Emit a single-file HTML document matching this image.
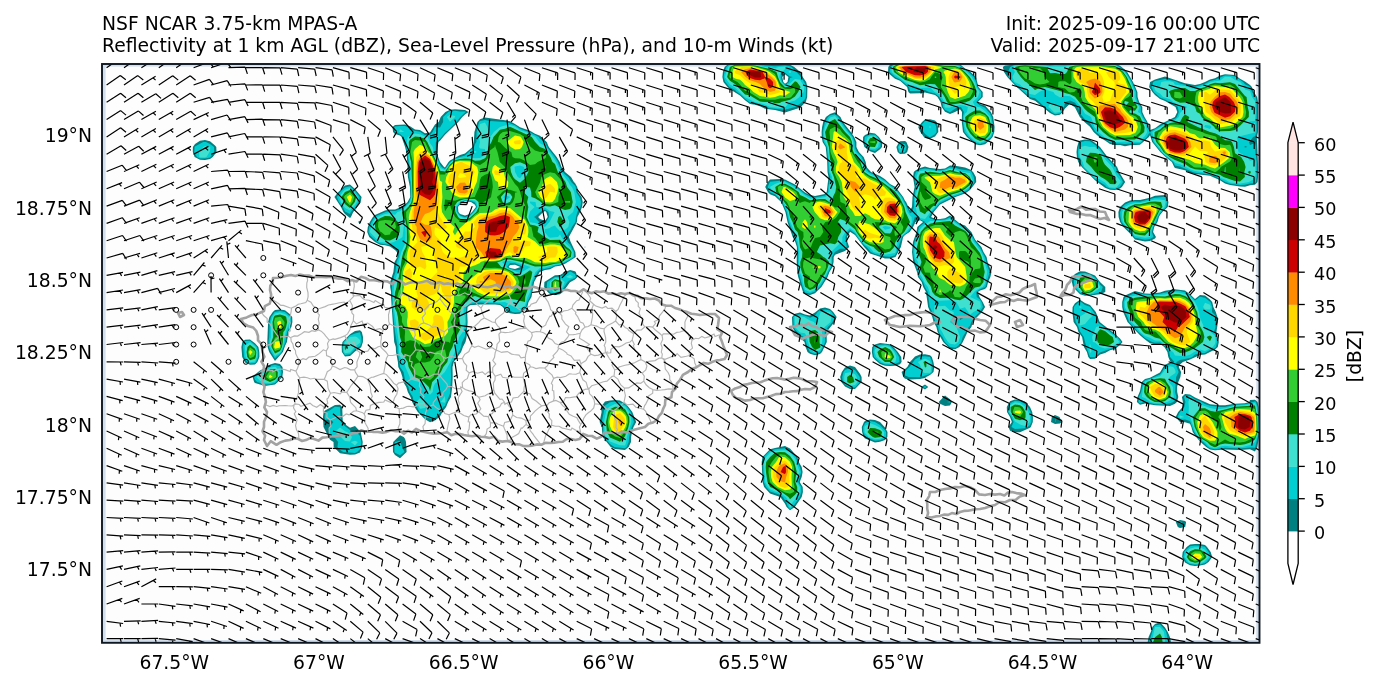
<!DOCTYPE html>
<html><head><meta charset="utf-8"><style>html,body{margin:0;padding:0;background:#fff;overflow:hidden}svg{display:block}</style></head>
<body><svg width="1378" height="687" viewBox="0 0 1378 687" font-family="'DejaVu Sans', 'Liberation Sans', sans-serif">
<text x="102" y="29.8" font-size="18.75">NSF NCAR 3.75-km MPAS-A</text>
<text x="102" y="51.8" font-size="18.75">Reflectivity at 1 km AGL (dBZ), Sea-Level Pressure (hPa), and 10-m Winds (kt)</text>
<text x="1260" y="29.8" font-size="18.75" text-anchor="end">Init: 2025-09-16 00:00 UTC</text>
<text x="1260" y="51.8" font-size="18.75" text-anchor="end">Valid: 2025-09-17 21:00 UTC</text>
<text x="92" y="142.3" font-size="18.75" text-anchor="end">19°N</text>
<text x="92" y="214.7" font-size="18.75" text-anchor="end">18.75°N</text>
<text x="92" y="287.0" font-size="18.75" text-anchor="end">18.5°N</text>
<text x="92" y="359.4" font-size="18.75" text-anchor="end">18.25°N</text>
<text x="92" y="431.8" font-size="18.75" text-anchor="end">18°N</text>
<text x="92" y="504.1" font-size="18.75" text-anchor="end">17.75°N</text>
<text x="92" y="576.4" font-size="18.75" text-anchor="end">17.5°N</text>
<text x="174.3" y="668.7" font-size="18.75" text-anchor="middle">67.5°W</text>
<text x="319.0" y="668.7" font-size="18.75" text-anchor="middle">67°W</text>
<text x="463.7" y="668.7" font-size="18.75" text-anchor="middle">66.5°W</text>
<text x="608.4" y="668.7" font-size="18.75" text-anchor="middle">66°W</text>
<text x="753.1" y="668.7" font-size="18.75" text-anchor="middle">65.5°W</text>
<text x="897.8" y="668.7" font-size="18.75" text-anchor="middle">65°W</text>
<text x="1042.5" y="668.7" font-size="18.75" text-anchor="middle">64.5°W</text>
<text x="1187.2" y="668.7" font-size="18.75" text-anchor="middle">64°W</text>
<clipPath id="ax"><rect x="102.0" y="64.0" width="1157.5" height="578.8"/></clipPath>
<rect x="102.0" y="64.0" width="1157.5" height="578.8" fill="#d3deec"/>
<rect x="105.6" y="66.6" width="1150.7" height="573.4" fill="#fdfdfd"/>
<g clip-path="url(#ax)">
<path fill="#008080" fill-rule="evenodd" d="M724.6,67.0 730.0,62.7 735.0,62.0 755.0,63.3 765.0,64.4 775.0,64.7 785.0,64.2 790.0,64.8 794.3,67.0 800.3,72.0 802.7,77.0 806.2,82.0 807.4,87.0 807.2,97.0 805.8,102.0 800.0,107.7 785.0,112.5 775.0,110.1 765.0,108.7 760.0,106.2 755.0,104.7 750.0,104.1 745.0,100.3 740.0,95.4 730.0,89.2 727.5,87.0 723.4,82.0 722.4,77.0 722.9,72.0ZM785.0,74.3 782.3,77.0 783.3,82.0 785.0,83.8 787.5,82.0 788.4,77.0ZM888.3,67.0 890.0,64.7 897.3,62.0 935.5,62.0 945.0,63.8 950.0,63.0 955.0,63.3 960.0,64.2 965.0,68.4 970.0,71.6 976.0,77.0 978.4,87.0 982.7,92.0 982.7,97.0 977.9,102.0 980.0,103.9 985.0,105.6 990.9,112.0 993.2,117.0 994.6,127.0 994.3,132.0 992.6,137.0 990.0,140.1 985.0,144.2 980.0,145.3 975.0,144.3 966.9,137.0 963.0,132.0 961.8,122.0 962.0,112.0 960.0,109.2 955.0,112.1 950.0,113.9 945.0,111.8 941.7,107.0 940.5,102.0 937.5,97.0 935.0,95.0 925.0,92.4 920.0,93.3 910.0,93.6 908.4,92.0 907.1,87.0 900.0,80.8 895.0,78.7 890.0,74.4 888.0,72.0ZM1002.8,67.0 1005.0,65.5 1010.0,65.0 1015.0,63.3 1023.9,62.0 1030.1,62.0 1035.0,63.1 1050.0,64.3 1055.0,63.9 1065.0,64.1 1095.0,62.3 1115.0,63.5 1120.0,65.7 1125.0,69.7 1127.2,72.0 1133.0,82.0 1137.4,92.0 1137.6,97.0 1139.1,102.0 1142.3,107.0 1142.3,112.0 1144.5,117.0 1147.5,122.0 1148.5,127.0 1150.0,129.9 1155.0,128.2 1160.0,124.5 1174.9,117.0 1177.3,112.0 1175.5,107.0 1165.0,101.0 1160.0,99.1 1155.0,94.9 1152.4,92.0 1149.1,87.0 1150.1,82.0 1155.0,79.4 1165.0,76.6 1185.0,83.3 1195.0,84.9 1200.0,84.0 1205.0,82.1 1210.0,79.6 1215.0,78.2 1220.0,75.6 1225.0,74.3 1235.0,75.1 1240.0,78.8 1245.0,81.4 1250.0,85.0 1251.9,87.0 1253.8,92.0 1257.1,97.0 1258.0,102.0 1258.0,132.0 1256.8,137.0 1258.1,167.0 1258.0,177.0 1257.5,182.0 1255.0,184.8 1250.0,185.3 1245.0,186.8 1240.0,186.6 1230.0,185.0 1225.0,183.6 1220.0,180.2 1210.0,175.7 1195.0,174.1 1190.0,172.9 1185.0,170.3 1175.0,167.9 1174.2,167.0 1171.9,162.0 1165.0,156.6 1160.3,152.0 1152.2,142.0 1150.0,135.3 1148.9,137.0 1140.0,144.8 1130.0,145.2 1125.0,146.3 1120.0,145.1 1115.0,145.1 1110.0,143.9 1105.0,140.4 1100.0,137.8 1093.6,132.0 1090.0,126.7 1085.0,122.6 1079.8,117.0 1075.0,107.4 1070.0,103.7 1065.0,108.4 1062.7,112.0 1060.0,114.8 1055.0,115.6 1050.0,113.0 1035.0,100.8 1030.0,98.9 1015.0,85.3 1007.3,77.0 1004.0,72.0ZM465.0,109.9 468.5,112.0 465.0,114.4 462.3,117.0 458.3,122.0 445.0,134.8 440.0,140.8 438.5,142.0 437.5,147.0 437.3,152.0 438.1,157.0 440.0,162.0 444.0,167.0 445.0,167.6 448.5,162.0 450.0,160.5 460.0,155.1 465.0,153.5 472.5,147.0 473.8,142.0 474.4,132.0 477.4,122.0 480.0,119.2 485.0,117.6 505.0,120.2 510.0,121.3 515.0,123.9 520.0,127.2 530.0,130.7 535.0,133.7 540.0,135.7 546.7,142.0 548.8,147.0 556.7,157.0 559.7,162.0 561.5,167.0 565.0,171.9 571.0,177.0 573.9,182.0 575.0,183.1 577.2,187.0 577.9,192.0 581.6,197.0 582.8,202.0 582.0,207.0 580.1,212.0 577.4,217.0 576.9,222.0 568.9,237.0 570.7,242.0 575.4,252.0 575.8,257.0 565.0,263.8 560.0,265.7 555.0,266.4 550.0,269.2 545.0,270.1 539.7,272.0 534.1,282.0 531.5,297.0 528.5,302.0 527.3,307.0 525.0,309.5 520.0,313.8 515.0,314.1 510.0,313.3 507.7,312.0 505.0,310.0 502.8,307.0 500.0,305.0 495.0,304.5 480.0,304.4 470.0,305.2 467.6,307.0 467.2,312.0 467.6,322.0 466.6,337.0 465.5,342.0 462.9,347.0 461.1,352.0 453.8,362.0 452.5,367.0 452.7,377.0 452.2,387.0 451.0,397.0 448.1,402.0 446.1,407.0 442.4,412.0 440.0,416.5 435.0,420.6 430.0,422.2 425.0,419.3 417.8,412.0 414.6,407.0 412.2,402.0 410.5,397.0 407.8,392.0 406.3,387.0 403.3,382.0 402.4,377.0 400.8,372.0 398.3,367.0 397.9,362.0 396.0,352.0 395.8,347.0 394.2,342.0 391.0,297.0 391.1,292.0 390.2,287.0 390.2,282.0 393.4,272.0 394.5,262.0 397.4,257.0 396.9,252.0 395.0,250.0 390.0,246.6 385.0,245.2 380.0,244.7 375.0,242.1 369.2,237.0 367.2,232.0 367.8,227.0 369.8,222.0 372.9,217.0 375.0,214.9 385.0,210.4 390.0,209.6 395.0,209.4 400.0,207.5 405.0,204.6 407.6,202.0 410.3,197.0 409.9,187.0 407.9,177.0 407.3,162.0 406.3,152.0 405.1,147.0 401.6,137.0 400.0,135.6 395.0,133.9 393.1,132.0 392.5,127.0 395.0,124.9 405.0,124.6 410.0,126.2 415.0,129.4 420.0,130.1 425.0,133.2 430.0,132.5 435.0,124.4 438.7,122.0 440.7,117.0 445.4,112.0 450.0,109.7 455.0,109.2ZM471.0,202.0 465.0,201.2 463.2,202.0 460.0,204.5 457.9,207.0 458.4,212.0 460.0,214.1 465.0,215.6 470.0,214.1 472.1,212.0 476.0,207.0 475.0,204.8ZM508.5,267.0 510.0,268.0 515.0,269.1 520.4,267.0 515.0,264.7 510.0,264.9ZM545.0,211.1 543.3,212.0 538.1,217.0 540.0,219.0 545.0,220.7 547.7,217.0 546.2,212.0ZM830.0,114.0 835.0,112.2 840.5,117.0 842.8,122.0 850.8,132.0 854.2,137.0 856.4,142.0 856.4,147.0 858.9,152.0 863.6,157.0 865.7,162.0 866.5,167.0 871.0,172.0 880.0,176.0 885.0,179.3 890.0,183.9 895.6,187.0 903.2,197.0 905.0,200.8 906.1,202.0 910.0,210.5 912.0,207.0 912.5,197.0 914.6,187.0 913.0,177.0 913.8,172.0 915.0,170.8 920.0,167.9 925.0,166.5 930.0,168.0 940.0,169.1 945.0,168.4 950.0,165.6 955.0,165.8 965.0,167.6 970.0,169.4 973.1,172.0 975.9,177.0 976.2,182.0 970.0,189.9 965.0,193.6 955.3,197.0 940.0,204.5 933.7,212.0 931.1,217.0 935.0,219.0 940.0,218.9 945.0,218.3 950.0,215.4 960.0,223.8 965.0,225.6 971.4,232.0 975.0,239.4 981.4,247.0 983.5,252.0 986.6,257.0 987.6,262.0 991.5,272.0 990.4,277.0 988.1,282.0 986.9,287.0 985.0,288.9 980.0,290.4 977.8,292.0 979.5,297.0 982.7,302.0 985.1,307.0 982.0,312.0 975.0,319.0 972.8,322.0 971.4,327.0 967.5,332.0 962.8,342.0 959.5,347.0 955.0,349.3 950.0,348.7 943.2,342.0 937.6,332.0 936.4,327.0 933.6,322.0 932.3,317.0 928.1,307.0 926.0,292.0 923.2,287.0 921.7,282.0 918.0,277.0 917.0,272.0 913.2,262.0 912.0,252.0 913.0,242.0 916.5,232.0 917.3,227.0 923.1,222.0 920.0,220.3 915.5,222.0 913.1,227.0 909.6,232.0 905.0,235.0 903.1,237.0 900.9,247.0 895.5,257.0 890.0,258.6 885.0,258.4 870.0,253.4 864.1,247.0 855.0,235.1 850.0,231.7 847.0,237.0 847.4,242.0 849.2,247.0 845.0,251.0 835.0,254.8 833.7,257.0 833.6,262.0 832.5,267.0 829.4,272.0 827.6,277.0 821.4,287.0 815.0,293.3 810.0,295.0 805.0,294.3 803.0,292.0 798.2,277.0 797.2,272.0 796.7,262.0 796.9,247.0 795.3,242.0 792.7,237.0 787.5,222.0 785.4,212.0 781.2,202.0 775.0,196.3 770.0,194.2 767.9,192.0 765.2,187.0 767.8,182.0 770.0,179.6 780.0,179.1 785.0,179.5 795.0,184.6 805.0,192.6 810.0,194.9 815.0,195.9 825.0,193.9 826.7,192.0 828.5,177.0 827.5,172.0 827.2,162.0 825.7,147.0 822.6,142.0 821.8,137.0 821.6,132.0 822.1,127.0 823.2,122.0 825.9,117.0ZM925.0,119.5 930.0,119.2 935.0,120.5 936.6,122.0 938.1,127.0 938.3,132.0 935.0,136.4 930.0,138.8 925.0,137.9 923.9,137.0 920.0,131.5 918.2,127.0 922.1,122.0ZM863.1,137.0 865.0,135.1 870.0,132.8 875.0,133.6 878.9,137.0 882.3,142.0 882.0,147.0 880.0,149.3 875.0,152.9 870.0,151.3 864.4,147.0 862.9,142.0ZM192.9,147.0 195.0,144.0 200.0,140.7 205.0,140.1 210.0,141.3 215.0,145.5 216.3,147.0 216.5,152.0 212.8,157.0 210.0,159.0 205.0,159.9 200.0,159.7 194.6,157.0 192.8,152.0ZM900.0,141.2 905.0,140.9 906.4,142.0 908.5,147.0 907.2,152.0 905.0,153.8 900.0,154.1 897.7,152.0 896.4,147.0 899.1,142.0ZM1080.0,140.6 1085.0,139.5 1090.0,139.7 1093.9,142.0 1100.0,147.1 1107.5,157.0 1117.1,167.0 1119.1,172.0 1125.2,182.0 1121.9,187.0 1120.0,188.6 1115.0,190.1 1110.0,189.8 1105.0,187.7 1095.0,180.2 1081.8,167.0 1078.2,162.0 1076.9,157.0 1076.5,152.0 1077.1,147.0 1078.6,142.0ZM350.0,184.6 355.0,189.1 361.6,197.0 360.7,202.0 355.0,210.2 353.2,212.0 351.0,217.0 350.0,217.9 345.0,214.1 343.4,212.0 341.0,207.0 334.4,197.0 338.4,192.0 345.0,185.5ZM1165.0,195.1 1166.9,197.0 1168.4,202.0 1167.8,207.0 1162.4,212.0 1160.0,215.0 1158.9,217.0 1157.5,222.0 1154.2,227.0 1153.1,232.0 1156.0,237.0 1155.0,238.4 1150.0,241.0 1145.0,241.5 1135.0,239.4 1130.0,233.5 1123.4,227.0 1120.1,222.0 1118.6,217.0 1118.4,212.0 1120.0,207.0 1125.0,202.5 1130.0,200.5 1135.0,199.9 1140.0,200.1 1150.0,197.8 1155.0,195.8ZM357.8,222.0 360.0,220.8 361.2,222.0 360.0,223.3ZM584.5,247.0 585.0,246.6 585.4,247.0 585.0,247.7ZM575.8,272.0 577.5,277.0 575.0,279.4 570.0,282.2 562.9,292.0 560.0,294.3 555.0,295.0 550.0,294.0 547.6,292.0 544.1,287.0 544.4,282.0 555.0,275.2 560.0,275.0 565.0,271.9 570.0,270.1 575.0,271.2ZM1072.2,277.0 1075.0,274.1 1080.0,271.3 1085.0,271.4 1095.0,275.6 1100.0,282.1 1105.3,287.0 1105.3,292.0 1100.0,294.2 1090.0,295.6 1085.0,295.7 1080.0,294.2 1073.0,287.0 1071.9,282.0ZM1135.0,291.0 1145.0,293.4 1150.0,293.7 1160.0,292.6 1165.0,290.7 1175.0,289.2 1185.0,290.5 1190.0,294.2 1195.0,299.0 1200.0,295.1 1205.0,295.5 1210.0,299.5 1212.2,302.0 1213.4,307.0 1215.8,312.0 1217.4,317.0 1218.0,322.0 1216.4,332.0 1218.8,342.0 1217.8,347.0 1215.0,349.5 1205.0,354.4 1200.0,354.9 1190.0,359.6 1182.9,362.0 1180.0,364.5 1178.7,367.0 1181.1,372.0 1180.4,377.0 1178.3,382.0 1177.1,387.0 1177.2,392.0 1178.3,397.0 1176.9,402.0 1175.0,403.7 1170.0,406.0 1155.0,405.3 1145.0,403.4 1140.0,404.7 1136.9,402.0 1137.5,397.0 1140.0,390.9 1141.8,382.0 1145.0,378.9 1150.0,377.7 1160.0,372.6 1163.2,367.0 1165.0,364.8 1170.9,362.0 1170.0,361.0 1168.3,357.0 1167.4,352.0 1164.4,347.0 1160.0,344.1 1155.0,344.3 1150.0,343.2 1145.0,339.6 1140.0,335.2 1127.5,322.0 1123.2,312.0 1122.2,307.0 1122.2,302.0 1123.5,297.0 1125.0,295.4ZM1075.0,303.3 1080.0,299.8 1085.0,302.9 1090.0,305.1 1095.8,312.0 1099.7,322.0 1115.0,333.9 1120.0,338.4 1122.5,342.0 1120.0,344.9 1115.0,348.9 1110.0,350.3 1105.0,353.1 1100.0,354.5 1095.0,358.8 1090.0,358.9 1088.3,357.0 1086.9,352.0 1083.9,347.0 1082.1,337.0 1078.4,332.0 1077.0,327.0 1073.6,322.0 1072.4,312.0 1072.6,307.0ZM285.0,310.2 290.0,314.3 292.2,317.0 292.4,322.0 291.4,327.0 288.5,332.0 286.9,342.0 285.0,346.0 282.9,352.0 275.0,360.9 269.2,352.0 267.6,347.0 267.3,342.0 268.1,322.0 269.4,317.0 272.8,312.0 275.0,310.0 280.0,309.6ZM830.0,308.9 833.2,312.0 836.7,317.0 834.4,322.0 826.6,332.0 826.8,342.0 822.0,352.0 820.0,354.0 815.0,355.3 810.0,353.8 807.5,352.0 805.6,347.0 804.5,342.0 799.3,337.0 795.0,331.9 792.4,327.0 792.0,317.0 795.0,313.8 800.0,312.5 805.0,314.5 810.0,315.6 815.0,312.5 820.0,308.6 825.0,307.6ZM360.0,330.3 361.8,332.0 363.0,337.0 362.9,342.0 361.3,347.0 360.0,348.3 355.0,351.5 350.0,356.0 345.0,356.4 341.9,352.0 341.7,347.0 342.5,342.0 350.0,334.2 355.0,331.0ZM245.0,339.7 250.0,339.5 255.0,343.2 258.4,347.0 259.3,352.0 259.4,357.0 257.4,362.0 255.0,364.4 250.0,364.8 245.0,362.5 242.2,357.0 241.4,347.0 242.4,342.0ZM872.2,347.0 875.0,344.4 880.0,343.0 890.0,344.3 893.3,347.0 897.9,352.0 901.2,357.0 901.6,362.0 900.0,364.2 895.0,365.8 890.0,366.1 885.0,365.7 880.0,364.1 875.0,359.8 872.7,357.0 871.9,352.0ZM901.6,372.0 907.3,367.0 910.0,362.0 915.0,356.4 920.0,354.6 925.0,354.3 930.0,355.2 931.8,357.0 933.4,362.0 934.3,367.0 933.5,372.0 930.0,375.1 926.2,377.0 925.0,378.1 920.0,378.9 910.0,379.5 905.0,378.8 903.3,377.0ZM252.6,377.0 255.0,374.4 260.0,370.4 265.0,367.9 270.0,364.6 275.0,362.9 280.0,364.1 282.5,367.0 283.0,372.0 282.3,377.0 277.8,382.0 275.0,384.4 265.0,386.0 255.0,382.9 254.1,382.0ZM850.0,365.6 855.0,367.1 860.0,373.7 861.6,377.0 861.7,382.0 855.0,389.1 850.0,389.1 845.0,386.4 841.3,382.0 840.2,377.0 841.8,372.0 845.0,367.6ZM921.0,387.0 925.0,384.5 928.3,387.0 925.0,389.6ZM938.7,402.0 945.0,395.4 950.0,399.3 951.9,402.0 950.0,405.6 945.0,406.0 940.0,403.8ZM1181.9,397.0 1185.0,394.1 1190.0,394.4 1195.0,397.6 1210.0,404.2 1220.0,405.2 1225.0,405.2 1235.0,403.8 1245.0,403.2 1249.2,402.0 1250.0,400.1 1255.0,399.8 1257.6,402.0 1258.6,407.0 1259.8,432.0 1257.3,447.0 1255.0,451.4 1250.0,449.3 1240.0,450.0 1225.0,449.5 1215.0,450.3 1210.0,449.6 1206.2,447.0 1200.0,441.4 1196.2,437.0 1192.7,432.0 1191.4,427.0 1190.0,423.8 1185.0,422.2 1180.0,422.1 1175.6,417.0 1178.2,412.0 1182.7,407.0 1182.9,402.0ZM605.0,401.6 610.0,400.4 615.0,400.0 620.0,400.6 625.0,403.6 628.5,407.0 632.3,412.0 636.2,422.0 633.5,427.0 632.0,432.0 631.1,437.0 631.0,442.0 628.6,447.0 625.0,449.9 615.0,449.1 610.7,447.0 602.6,437.0 601.8,427.0 599.6,422.0 601.6,412.0 600.9,407.0ZM1010.0,401.2 1015.0,399.4 1020.0,399.8 1025.0,401.5 1030.0,407.0 1032.2,412.0 1032.9,417.0 1032.8,422.0 1030.8,427.0 1030.0,427.8 1020.0,432.2 1015.0,432.2 1010.0,430.7 1008.5,427.0 1011.9,422.0 1010.0,417.0 1007.0,412.0 1006.8,407.0ZM325.0,410.6 335.0,405.1 340.0,404.7 342.2,407.0 342.8,422.0 345.0,424.3 350.0,427.7 355.0,426.0 360.7,432.0 362.7,442.0 362.3,447.0 360.0,452.5 355.0,454.5 350.0,454.8 340.0,453.3 333.7,447.0 333.5,442.0 330.0,439.7 323.5,427.0 323.0,417.0 323.6,412.0ZM1051.8,417.0 1055.0,414.9 1059.5,417.0 1061.9,422.0 1060.0,423.6 1055.0,424.0 1051.0,422.0ZM864.0,422.0 865.0,421.0 870.0,419.6 875.0,420.1 880.0,421.9 885.0,427.4 887.5,432.0 887.4,437.0 885.0,439.9 880.0,441.8 875.0,442.6 865.0,438.4 863.7,437.0 862.1,432.0 861.8,427.0ZM400.0,435.3 403.7,437.0 405.0,438.8 406.0,442.0 406.6,452.0 400.0,458.3 395.0,455.1 393.0,452.0 392.9,447.0 393.2,442.0ZM785.0,446.1 790.0,448.4 797.4,457.0 798.8,462.0 801.7,467.0 802.6,472.0 801.7,477.0 799.7,482.0 802.7,487.0 802.9,492.0 801.7,497.0 794.9,507.0 790.0,510.2 786.6,507.0 785.0,503.8 780.3,497.0 770.0,493.4 764.1,487.0 762.5,482.0 761.7,462.0 762.5,457.0 770.0,449.3 775.0,447.9ZM1175.8,522.0 1180.0,519.9 1185.0,520.9 1186.1,522.0 1185.2,527.0 1180.0,527.9 1177.8,527.0ZM1182.1,557.0 1182.7,552.0 1186.7,547.0 1190.0,544.6 1195.0,543.9 1200.0,543.9 1205.0,545.1 1207.0,547.0 1210.7,552.0 1212.2,557.0 1208.6,562.0 1205.0,564.4 1200.0,565.6 1195.0,565.9 1190.0,565.3 1185.0,562.5ZM1155.0,624.0 1160.0,622.3 1165.0,627.4 1167.7,632.0 1169.9,637.0 1171.0,642.0 1147.7,642.0 1148.6,637.0 1150.8,632.0 1152.3,627.0Z"/>
<path fill="#00ced1" fill-rule="evenodd" d="M724.4,72.0 726.4,67.0 730.0,64.1 735.0,63.0 755.0,64.0 765.0,65.6 775.0,66.2 785.0,65.4 790.0,66.3 791.5,67.0 800.0,75.7 805.0,83.4 806.1,87.0 805.8,97.0 805.0,99.3 800.0,103.7 794.9,107.0 785.0,109.8 770.0,108.3 765.1,107.0 760.0,104.7 750.0,102.6 745.0,98.8 740.0,93.9 736.9,92.0 735.0,90.0 729.4,87.0 725.0,81.6 723.7,77.0ZM785.0,72.8 780.8,77.0 782.2,82.0 785.0,84.9 789.1,82.0 790.0,78.1 792.8,77.0 790.0,76.4ZM890.2,67.0 895.0,63.7 900.0,62.0 927.6,62.0 945.0,64.5 950.0,64.0 955.0,64.2 960.0,65.5 968.5,72.0 973.9,77.0 976.0,82.0 977.3,87.0 981.2,92.0 981.0,97.0 976.0,102.0 980.0,105.5 985.0,107.7 990.0,113.6 991.7,117.0 993.4,127.0 993.2,132.0 991.3,137.0 985.0,142.6 980.0,144.0 975.0,142.8 968.6,137.0 964.6,132.0 962.9,122.0 962.8,117.0 963.9,112.0 961.0,107.0 958.9,107.0 955.0,108.8 950.0,112.3 945.0,109.7 943.1,107.0 942.4,102.0 939.4,97.0 935.0,93.6 928.9,92.0 925.0,90.0 920.0,91.1 910.0,91.1 909.0,87.0 900.0,79.4 895.0,77.0 889.6,72.0ZM1010.1,67.0 1015.0,64.5 1025.0,63.0 1050.0,65.4 1055.0,65.0 1065.0,65.2 1085.0,63.3 1095.0,63.1 1115.0,64.4 1120.0,67.3 1125.7,72.0 1131.8,82.0 1136.1,92.0 1136.2,97.0 1137.7,102.0 1140.8,107.0 1140.9,112.0 1143.1,117.0 1146.2,122.0 1147.3,127.0 1149.9,132.0 1146.8,137.0 1140.0,143.5 1130.0,143.5 1125.0,144.0 1120.0,143.4 1115.0,143.5 1110.0,142.3 1101.6,137.0 1095.0,131.2 1090.0,123.0 1085.0,119.4 1080.0,113.6 1078.0,107.0 1075.0,102.8 1070.0,100.4 1065.5,102.0 1065.0,102.4 1064.1,107.0 1061.5,112.0 1060.0,113.5 1055.0,114.2 1051.2,112.0 1050.0,110.7 1044.4,107.0 1040.0,102.4 1035.0,98.2 1030.0,97.2 1015.0,83.9 1008.7,77.0 1008.0,72.0ZM1153.3,82.0 1155.0,81.1 1165.0,78.9 1175.0,81.1 1180.0,83.6 1190.0,86.0 1195.0,86.7 1205.0,83.7 1210.0,81.0 1215.0,79.8 1225.0,75.5 1230.0,75.6 1235.0,76.6 1243.1,82.0 1245.0,84.2 1250.0,86.7 1252.0,92.0 1255.6,97.0 1256.6,102.0 1256.6,132.0 1255.0,136.3 1253.1,137.0 1250.0,141.2 1248.9,142.0 1250.0,144.9 1255.0,142.9 1255.6,147.0 1255.4,152.0 1256.7,162.0 1256.7,177.0 1255.8,182.0 1255.0,182.9 1250.0,183.5 1245.0,184.8 1240.0,185.0 1230.0,183.7 1225.4,182.0 1215.0,176.3 1210.0,174.6 1195.0,172.7 1192.7,172.0 1180.0,166.5 1175.0,165.4 1173.2,162.0 1165.0,155.6 1161.4,152.0 1153.4,142.0 1150.1,132.0 1170.0,120.4 1175.0,118.7 1176.9,117.0 1178.8,112.0 1177.8,107.0 1175.0,104.7 1165.0,99.4 1160.0,97.6 1153.8,92.0 1151.5,87.0ZM1244.4,147.0 1245.0,147.4 1247.5,147.0 1245.0,146.1ZM465.0,111.6 465.7,112.0 460.4,117.0 456.4,122.0 450.0,128.5 445.0,132.8 440.0,138.7 435.9,142.0 435.6,152.0 436.8,157.0 440.0,164.8 441.7,167.0 445.0,168.9 450.2,162.0 455.0,158.5 465.0,155.6 474.0,147.0 475.0,143.9 476.4,142.0 476.5,132.0 479.0,122.0 480.0,120.9 485.0,119.9 490.0,121.1 505.0,122.0 510.0,123.2 515.0,125.3 520.0,128.7 529.2,132.0 538.8,137.0 540.0,138.8 545.0,142.3 547.1,147.0 555.0,157.3 557.9,162.0 559.8,167.0 562.9,172.0 565.0,174.6 568.2,177.0 571.2,182.0 575.0,185.7 575.7,187.0 576.3,192.0 580.0,197.9 581.0,202.0 580.4,207.0 577.4,212.0 576.0,217.0 575.4,222.0 571.9,227.0 570.0,231.1 568.9,232.0 566.3,237.0 567.6,242.0 570.0,244.4 574.0,252.0 574.0,257.0 570.0,259.7 560.0,264.8 555.0,265.5 550.0,267.7 540.0,269.9 537.6,272.0 532.7,282.0 531.2,292.0 530.0,296.4 527.3,302.0 526.0,307.0 520.0,312.1 515.0,312.6 512.4,312.0 500.0,303.7 480.0,302.6 470.0,303.9 465.8,307.0 466.4,322.0 465.0,336.1 462.0,342.0 461.0,347.0 460.0,349.7 455.8,357.0 452.0,362.0 450.8,367.0 451.1,377.0 450.0,393.4 445.0,405.7 443.2,407.0 440.0,413.1 435.0,417.8 430.0,418.4 425.0,417.3 419.4,412.0 416.9,407.0 415.0,404.5 413.7,402.0 412.8,397.0 409.7,392.0 408.4,387.0 405.4,382.0 403.5,372.0 400.0,367.0 399.5,362.0 397.5,352.0 397.5,347.0 395.0,331.9 392.6,307.0 392.0,287.0 392.2,282.0 395.4,272.0 396.6,262.0 398.7,257.0 399.1,252.0 395.0,247.7 390.0,244.9 380.0,243.5 377.2,242.0 370.0,235.2 368.5,232.0 369.2,227.0 371.6,222.0 375.0,216.4 385.5,212.0 390.0,211.0 395.0,211.0 400.0,209.3 405.0,206.1 409.1,202.0 411.0,197.0 410.4,182.0 409.3,177.0 408.6,162.0 406.4,147.0 403.5,137.0 400.0,133.9 394.9,132.0 394.3,127.0 395.0,126.4 400.0,125.9 405.0,125.9 407.7,127.0 410.0,130.1 420.0,131.8 425.0,134.9 430.0,135.1 432.6,132.0 435.0,126.9 440.0,127.4 443.1,122.0 443.1,117.0 448.3,112.0 450.0,111.2 455.0,110.7 460.0,111.6ZM473.9,202.0 470.0,200.7 465.0,200.4 461.5,202.0 456.8,207.0 457.4,212.0 460.0,215.4 465.0,217.3 470.0,215.2 473.3,212.0 476.9,207.0 475.0,202.8ZM507.0,267.0 510.0,268.8 515.0,270.3 520.0,270.1 523.8,267.0 515.0,263.3 510.0,262.9ZM545.0,209.4 540.3,212.0 535.0,216.6 533.6,217.0 535.0,217.5 539.1,222.0 545.0,223.3 546.2,222.0 549.1,217.0 548.3,212.0ZM830.0,115.6 835.0,114.2 838.2,117.0 844.8,127.0 852.8,137.0 854.7,142.0 855.0,148.0 857.0,152.0 861.8,157.0 863.9,162.0 864.8,167.0 868.6,172.0 878.8,177.0 885.0,180.7 890.0,185.1 895.0,188.2 902.0,197.0 910.0,213.3 912.4,212.0 913.8,207.0 913.8,197.0 916.3,187.0 914.4,177.0 915.9,172.0 920.0,169.4 925.0,168.5 940.0,170.4 945.0,169.5 950.0,167.3 955.0,167.7 960.0,169.2 970.0,170.8 971.4,172.0 973.8,177.0 974.5,182.0 970.0,188.3 964.8,192.0 960.0,194.3 952.3,197.0 940.0,203.1 932.1,212.0 928.9,217.0 930.0,218.2 935.0,220.0 945.0,219.4 950.0,217.2 960.0,225.1 965.0,227.5 969.6,232.0 975.0,241.2 980.0,247.7 984.9,257.0 987.7,267.0 989.7,272.0 985.3,287.0 980.0,289.2 976.2,292.0 976.8,297.0 980.0,299.4 981.5,302.0 983.0,307.0 980.0,311.8 974.7,317.0 971.3,322.0 970.0,325.8 968.8,327.0 962.7,337.0 961.2,342.0 960.0,344.0 956.5,347.0 955.0,347.7 950.0,346.9 944.9,342.0 942.5,337.0 940.0,333.9 939.0,332.0 938.1,327.0 935.9,322.0 935.0,320.9 932.3,312.0 929.7,307.0 927.8,292.0 924.9,287.0 923.1,282.0 919.5,277.0 913.7,257.0 913.2,252.0 913.5,247.0 914.6,242.0 919.2,227.0 925.4,222.0 915.2,217.0 915.0,216.5 911.6,227.0 907.9,232.0 905.0,233.9 901.9,237.0 896.9,252.0 895.0,255.2 890.0,256.8 885.0,256.6 875.0,253.9 870.8,252.0 866.7,247.0 865.0,246.0 860.0,240.4 855.0,233.5 850.0,229.8 847.5,232.0 845.4,237.0 846.8,247.0 845.0,248.7 840.0,248.7 834.9,252.0 832.1,257.0 832.3,262.0 831.1,267.0 828.2,272.0 826.2,277.0 820.0,286.5 815.0,291.4 810.0,293.5 805.0,292.5 802.7,287.0 798.4,272.0 797.9,267.0 798.2,257.0 797.9,247.0 796.6,242.0 794.2,237.0 792.8,232.0 788.8,222.0 786.7,212.0 782.3,202.0 780.0,199.2 775.0,194.6 770.0,192.3 767.6,187.0 770.0,181.7 780.0,180.7 785.0,180.9 795.0,186.1 805.0,194.1 810.0,196.6 815.0,197.5 825.0,195.5 828.1,192.0 828.3,187.0 830.3,177.0 828.7,172.0 828.3,162.0 826.8,147.0 823.9,142.0 823.0,137.0 822.8,132.0 824.9,122.0 828.1,117.0ZM960.0,320.1 965.3,317.0 965.0,316.6 960.0,316.6 959.6,317.0ZM919.9,127.0 925.0,121.1 930.0,120.7 933.8,122.0 935.0,123.5 936.2,127.0 936.6,132.0 935.0,134.2 930.4,137.0 929.2,137.0 925.0,134.1ZM864.8,137.0 870.0,134.4 875.0,134.8 877.5,137.0 880.8,142.0 880.4,147.0 875.0,151.0 870.0,149.8 866.4,147.0 864.4,142.0ZM214.0,147.0 214.2,152.0 210.0,157.4 205.0,158.6 200.0,158.5 196.9,157.0 194.3,152.0 194.6,147.0 195.0,146.4 203.2,142.0 206.0,142.0 210.0,143.9ZM1080.0,143.1 1081.3,142.0 1085.0,140.9 1090.0,141.2 1095.0,144.8 1100.0,149.3 1105.8,157.0 1115.5,167.0 1117.0,172.0 1120.5,177.0 1123.0,182.0 1119.7,187.0 1115.0,188.9 1110.0,188.6 1106.6,187.0 1105.0,185.2 1095.0,178.9 1083.0,167.0 1080.0,162.0 1078.4,157.0 1078.0,152.0 1078.6,147.0ZM900.0,143.4 905.0,143.9 906.5,147.0 905.0,152.2 900.0,152.6 899.3,152.0 897.9,147.0ZM350.0,186.2 355.0,190.8 359.7,197.0 358.7,202.0 355.7,207.0 350.9,212.0 350.0,213.9 345.0,211.6 342.8,207.0 339.0,202.0 336.8,197.0 340.3,192.0 345.0,187.5ZM1165.0,196.7 1167.0,202.0 1166.2,207.0 1160.0,213.2 1157.9,217.0 1156.2,222.0 1153.2,227.0 1151.8,232.0 1153.5,237.0 1150.0,239.1 1145.0,239.7 1135.0,237.8 1130.4,232.0 1125.2,227.0 1121.5,222.0 1120.4,217.0 1120.1,212.0 1122.4,207.0 1125.0,204.6 1130.0,202.2 1135.0,201.5 1140.0,201.8 1155.0,197.7ZM575.0,274.3 576.0,277.0 575.0,278.0 570.0,280.1 567.5,282.0 561.0,292.0 560.0,292.8 555.0,293.7 550.0,292.4 546.7,287.0 547.2,282.0 555.0,276.9 560.0,276.7 565.0,274.6 570.0,271.6 571.4,272.0ZM1073.8,277.0 1075.0,275.8 1080.0,273.4 1085.0,273.1 1090.0,274.5 1095.0,277.4 1098.7,282.0 1100.0,284.4 1102.8,287.0 1101.0,292.0 1090.0,294.7 1085.0,294.9 1080.0,292.7 1074.6,287.0 1073.8,282.0ZM1205.0,297.7 1210.5,302.0 1212.1,307.0 1212.0,312.0 1215.0,315.1 1215.7,317.0 1215.5,327.0 1214.0,332.0 1215.0,332.8 1216.7,337.0 1217.1,342.0 1216.0,347.0 1215.0,347.9 1210.0,350.0 1205.0,353.0 1200.0,353.3 1195.0,354.6 1192.2,357.0 1190.0,358.0 1180.0,360.1 1176.5,362.0 1176.6,367.0 1178.7,372.0 1176.2,377.0 1175.0,392.0 1176.4,397.0 1175.0,400.6 1173.2,402.0 1170.0,403.3 1165.0,404.3 1160.0,404.5 1155.0,404.2 1146.1,402.0 1145.0,401.2 1144.1,402.0 1140.0,403.4 1138.4,402.0 1138.9,397.0 1141.1,392.0 1143.2,382.0 1145.0,380.3 1150.0,378.8 1160.0,374.5 1162.0,372.0 1165.0,366.8 1174.4,362.0 1170.1,357.0 1169.2,352.0 1166.4,347.0 1160.0,342.5 1155.0,342.8 1152.0,342.0 1145.0,338.0 1138.4,332.0 1129.1,322.0 1127.4,317.0 1124.9,312.0 1123.5,307.0 1123.4,302.0 1125.0,297.5 1135.0,293.1 1145.0,294.5 1150.0,294.7 1160.0,293.7 1170.0,291.4 1175.0,290.7 1180.0,291.1 1185.0,292.3 1190.0,295.6 1195.0,300.5 1200.0,296.7ZM1075.0,305.5 1080.0,301.3 1085.0,305.1 1090.0,306.8 1095.0,314.1 1096.2,317.0 1097.2,322.0 1117.2,337.0 1121.1,342.0 1115.0,347.3 1100.0,352.4 1095.0,357.0 1090.0,356.9 1086.3,347.0 1083.8,337.0 1080.0,331.4 1078.6,327.0 1075.7,322.0 1073.9,312.0 1074.0,307.0ZM280.0,311.0 285.0,311.9 290.8,317.0 291.1,322.0 289.5,327.0 287.1,332.0 285.4,342.0 281.7,352.0 280.0,354.2 276.2,357.0 275.0,358.5 271.0,352.0 268.9,347.0 268.5,342.0 269.2,337.0 269.7,322.0 271.0,317.0 274.6,312.0ZM830.0,310.5 831.6,312.0 835.0,317.0 832.5,322.0 830.0,325.1 827.8,327.0 824.7,332.0 825.2,337.0 825.1,342.0 823.2,347.0 820.0,352.3 815.0,353.9 810.0,352.1 807.4,347.0 805.0,338.2 803.7,337.0 800.0,335.1 795.0,329.5 793.7,327.0 793.3,317.0 795.0,315.2 800.0,314.3 808.9,317.0 810.0,317.7 815.0,315.4 817.7,312.0 820.0,310.3 825.0,309.6ZM360.0,332.3 361.2,337.0 361.6,342.0 360.0,345.9 355.0,349.2 350.0,354.3 345.0,354.9 343.0,352.0 342.7,347.0 343.7,342.0 350.0,335.6 355.0,333.5ZM245.0,341.1 250.0,340.8 255.0,344.9 256.9,347.0 258.3,352.0 258.2,357.0 256.0,362.0 255.0,363.0 250.0,363.5 247.1,362.0 244.0,357.0 243.1,347.0 244.0,342.0ZM873.8,347.0 875.0,345.9 880.0,344.8 885.0,344.6 890.0,345.6 896.2,352.0 899.0,357.0 899.5,362.0 895.0,364.0 890.0,364.8 885.0,364.5 880.0,362.6 874.1,357.0 873.2,352.0ZM930.1,357.0 931.9,362.0 932.7,367.0 932.1,372.0 930.0,373.9 920.0,377.3 908.7,377.0 905.0,375.5 903.9,372.0 909.4,367.0 915.0,359.6 920.0,356.5 925.0,356.2ZM280.6,367.0 281.4,372.0 280.8,377.0 275.0,383.0 270.0,384.3 265.0,384.4 257.2,382.0 255.0,379.7 254.0,377.0 255.0,375.9 260.4,372.0 265.0,369.8 270.0,366.0 275.0,364.8 280.0,366.3ZM845.0,370.0 850.0,368.0 855.0,370.3 859.8,377.0 860.0,382.0 855.0,387.6 850.0,387.6 845.0,384.6 842.8,382.0 842.2,377.0 843.5,372.0ZM923.4,387.0 925.0,386.0 926.3,387.0 925.0,388.1ZM1184.0,397.0 1185.0,396.1 1190.0,395.7 1195.0,399.3 1201.8,402.0 1205.0,404.0 1210.0,405.8 1220.0,406.9 1225.0,406.9 1235.0,404.8 1245.0,404.3 1250.0,403.1 1255.0,401.2 1255.9,402.0 1257.6,407.0 1259.1,432.0 1255.0,447.8 1250.0,447.6 1240.0,448.6 1225.0,447.8 1215.0,449.3 1210.0,448.3 1208.0,447.0 1203.0,442.0 1200.0,440.2 1197.3,437.0 1194.2,432.0 1190.0,421.0 1185.0,419.5 1180.0,420.0 1177.4,417.0 1180.0,412.0 1184.3,407.0 1185.4,402.0ZM610.0,402.3 615.0,401.6 620.0,402.5 625.0,405.0 627.1,407.0 630.7,412.0 634.0,422.0 631.7,427.0 629.1,437.0 628.7,442.0 626.6,447.0 625.0,448.3 614.4,447.0 610.0,444.1 603.9,437.0 603.3,432.0 603.2,427.0 601.8,422.0 603.8,412.0 604.0,407.0 605.0,405.5ZM946.7,402.0 950.0,401.6 950.3,402.0 950.0,402.6ZM1010.0,403.3 1015.0,400.8 1020.0,401.3 1025.0,403.9 1027.8,407.0 1030.6,412.0 1031.5,417.0 1031.4,422.0 1030.0,425.0 1027.8,427.0 1025.0,428.3 1015.0,429.1 1011.4,427.0 1013.6,422.0 1011.4,417.0 1008.2,412.0 1007.9,407.0ZM326.1,412.0 330.0,410.2 335.0,406.8 340.0,407.3 340.8,422.0 345.0,426.3 350.0,430.1 355.0,430.3 360.0,436.1 361.3,442.0 360.9,447.0 360.0,449.2 357.1,452.0 355.0,452.9 343.2,452.0 340.0,449.8 337.4,447.0 338.2,442.0 335.0,437.9 332.1,437.0 330.0,435.7 329.1,432.0 329.1,427.0 330.0,426.7 333.4,422.0 330.0,419.5 325.0,419.7 324.6,417.0 325.0,414.5ZM1055.0,416.8 1055.4,417.0 1055.4,422.0 1055.0,422.1ZM865.0,423.4 867.1,422.0 870.0,421.0 875.0,422.0 880.0,425.1 885.0,430.2 886.0,432.0 886.0,437.0 885.0,438.2 880.0,440.3 875.0,440.8 865.9,437.0 865.0,436.0 863.3,432.0 863.2,427.0ZM400.0,440.8 402.1,447.0 404.5,452.0 400.0,455.3 395.0,452.7 394.5,452.0 394.4,447.0 395.0,441.9ZM770.0,450.8 775.0,449.3 785.0,448.2 790.0,450.2 796.0,457.0 797.4,462.0 800.0,467.2 801.2,472.0 798.2,482.0 801.3,487.0 801.3,492.0 799.8,497.0 792.8,507.0 790.0,508.9 788.1,507.0 786.1,502.0 783.0,497.0 780.0,494.8 770.0,491.5 766.1,487.0 763.8,482.0 762.9,462.0 763.9,457.0ZM1178.8,522.0 1180.0,521.4 1182.4,522.0 1180.0,524.1ZM1183.4,557.0 1184.2,552.0 1185.0,550.8 1190.0,546.2 1195.0,545.5 1200.0,545.7 1205.0,546.8 1208.6,552.0 1210.7,557.0 1206.5,562.0 1205.0,563.0 1200.0,564.4 1195.0,564.8 1190.0,564.1 1186.6,562.0ZM1155.0,625.5 1160.0,624.6 1165.0,629.9 1166.2,632.0 1168.4,642.0 1149.2,642.0 1153.7,627.0Z"/>
<path fill="#40e0d0" fill-rule="evenodd" d="M726.2,72.0 728.2,67.0 730.0,65.5 735.0,63.9 755.0,64.8 765.0,66.9 770.0,67.2 775.0,68.3 778.9,67.0 785.0,66.5 787.2,67.0 780.0,74.1 779.3,77.0 781.1,82.0 785.0,86.1 790.0,83.4 795.0,79.0 800.0,79.8 804.4,87.0 803.6,92.0 800.0,95.7 799.5,97.0 795.0,100.4 789.7,102.0 785.5,107.0 780.0,107.9 770.0,107.0 765.0,104.5 754.9,102.0 745.0,97.3 735.0,87.4 730.0,84.4 725.0,77.2ZM891.6,67.0 895.0,64.6 900.0,62.8 920.0,62.8 925.0,62.3 945.0,65.2 955.0,65.1 960.0,66.7 966.6,72.0 971.8,77.0 975.0,82.8 976.2,87.0 979.6,92.0 977.9,97.0 972.8,102.0 975.0,105.9 977.7,107.0 980.0,107.3 985.0,111.0 990.3,117.0 992.2,127.0 992.1,132.0 990.0,137.0 985.0,141.0 980.0,142.7 975.0,140.9 970.0,136.5 966.7,132.0 964.7,127.0 963.9,117.0 965.0,113.5 967.0,112.0 967.9,107.0 965.0,105.7 960.0,104.9 951.0,107.0 950.0,107.7 945.0,107.6 944.6,107.0 944.4,102.0 940.0,94.2 934.7,92.0 930.0,87.6 920.0,88.1 915.0,86.0 910.0,84.9 905.0,82.1 900.0,78.0 895.0,75.0 891.6,72.0ZM1012.6,67.0 1015.0,65.8 1025.0,64.1 1050.0,66.4 1065.0,66.4 1075.0,64.8 1085.0,64.1 1100.0,64.2 1115.0,65.2 1120.0,68.3 1124.3,72.0 1127.9,77.0 1130.5,82.0 1134.7,92.0 1134.5,97.0 1136.3,102.0 1139.3,107.0 1137.9,112.0 1140.0,113.2 1141.6,117.0 1145.0,122.6 1147.2,132.0 1145.0,136.1 1143.6,137.0 1140.0,142.1 1130.0,141.6 1115.0,141.9 1110.0,139.9 1104.3,137.0 1098.6,132.0 1094.4,127.0 1091.1,117.0 1085.0,113.8 1081.0,107.0 1075.0,99.7 1070.0,96.2 1065.0,95.8 1060.0,97.4 1055.0,94.5 1053.4,92.0 1045.0,89.5 1040.0,91.6 1035.0,95.0 1030.0,94.0 1026.7,92.0 1020.0,84.5 1014.6,82.0 1012.4,77.0 1014.9,72.0ZM788.3,72.0 790.0,70.4 791.3,72.0 790.0,72.9ZM1155.0,84.9 1160.0,87.3 1161.3,82.0 1165.0,81.2 1170.0,81.2 1173.1,82.0 1175.0,84.8 1185.0,86.0 1188.3,87.0 1190.0,88.1 1195.0,88.8 1205.0,85.3 1210.0,82.6 1215.0,81.3 1220.0,80.8 1225.0,76.7 1230.7,77.0 1235.0,80.0 1240.3,82.0 1244.3,87.0 1245.0,89.4 1250.0,91.1 1252.0,97.0 1255.0,100.9 1255.5,112.0 1255.0,121.0 1250.0,121.3 1249.3,122.0 1250.0,123.5 1255.0,122.9 1255.5,127.0 1255.0,132.6 1236.9,137.0 1238.0,142.0 1237.2,147.0 1238.5,152.0 1246.9,157.0 1250.0,160.8 1255.0,159.6 1255.6,172.0 1255.0,178.6 1248.9,182.0 1245.0,182.8 1240.0,183.4 1230.0,182.4 1225.0,179.6 1220.0,177.7 1215.0,174.9 1205.0,172.4 1195.0,171.0 1190.0,169.3 1185.0,166.4 1180.0,164.2 1175.0,163.0 1174.5,162.0 1165.0,154.5 1162.4,152.0 1160.0,148.2 1154.6,142.0 1152.4,132.0 1170.0,121.6 1175.0,120.4 1178.8,117.0 1180.0,113.0 1185.0,108.3 1187.5,107.0 1185.0,106.1 1180.0,106.7 1175.0,102.8 1173.2,102.0 1170.0,99.2 1163.0,97.0 1160.0,93.6 1157.0,92.0 1155.0,90.1 1154.1,87.0ZM1200.8,122.0 1200.0,121.3 1198.9,122.0ZM1204.2,127.0 1210.0,128.9 1211.6,127.0 1210.0,125.6 1205.0,125.1ZM1050.0,103.2 1055.0,104.9 1060.0,104.9 1061.0,107.0 1060.2,112.0 1055.0,112.8 1053.7,112.0 1050.0,108.0 1048.3,107.0ZM446.8,117.0 450.0,114.8 455.0,115.9 455.1,117.0 450.0,121.7ZM835.0,116.1 840.0,122.0 843.0,127.0 851.4,137.0 853.3,142.0 853.3,147.0 855.0,151.7 860.1,157.0 862.3,162.0 863.5,167.0 865.0,170.3 866.4,172.0 870.0,174.3 876.3,177.0 885.0,182.0 890.0,186.3 895.0,189.9 900.7,197.0 905.8,207.0 907.3,212.0 910.0,215.8 911.6,217.0 911.8,222.0 910.1,227.0 906.2,232.0 900.8,237.0 900.0,239.4 897.9,242.0 895.6,252.0 895.0,253.0 885.0,254.7 873.6,252.0 869.4,247.0 865.0,244.5 860.0,238.8 855.0,231.8 850.0,227.9 845.4,232.0 842.4,237.0 842.3,242.0 840.0,243.3 831.0,252.0 830.5,257.0 831.0,262.0 830.0,266.1 825.0,276.6 817.9,287.0 815.0,289.8 810.0,292.0 805.0,289.8 802.7,282.0 802.0,277.0 799.7,272.0 799.0,262.0 799.4,252.0 798.0,242.0 792.6,227.0 790.0,221.7 787.9,212.0 786.2,207.0 783.4,202.0 775.0,192.9 773.0,192.0 769.9,187.0 775.0,184.1 780.0,182.2 785.0,182.3 795.0,187.6 805.0,195.6 810.0,198.4 815.0,198.7 825.5,197.0 829.5,192.0 829.4,187.0 830.0,183.8 831.1,182.0 832.1,177.0 829.9,172.0 829.4,162.0 827.8,147.0 825.0,141.0 824.1,137.0 823.9,132.0 825.0,126.9 827.3,122.0 830.0,117.5ZM882.4,227.0 885.0,229.7 890.0,228.5 890.6,227.0 885.0,226.0ZM510.0,125.0 515.0,126.6 520.0,130.2 526.1,132.0 535.4,137.0 540.0,143.2 545.0,146.0 555.0,160.3 560.0,170.7 568.4,182.0 570.0,185.1 571.9,187.0 574.3,192.0 575.9,202.0 573.1,212.0 567.4,217.0 569.4,222.0 568.3,227.0 565.0,229.8 560.0,231.3 556.0,227.0 555.0,225.4 550.9,227.0 550.0,227.9 545.0,229.3 544.6,232.0 548.7,237.0 550.0,237.8 558.0,237.0 560.0,234.6 564.3,242.0 570.0,247.6 572.8,252.0 572.5,257.0 560.0,264.0 555.0,264.6 545.0,267.6 540.0,268.1 535.5,272.0 531.4,282.0 530.0,291.9 527.5,297.0 525.0,305.8 520.0,308.7 515.0,307.6 505.0,302.0 500.0,302.3 490.0,301.7 480.0,300.4 475.0,300.4 472.8,302.0 470.0,302.5 465.0,305.5 463.8,307.0 463.5,312.0 465.0,316.8 465.2,322.0 462.8,332.0 459.2,337.0 458.0,342.0 455.2,347.0 454.9,352.0 450.0,362.7 444.8,372.0 440.0,376.7 437.1,382.0 435.0,383.4 433.4,387.0 432.7,392.0 430.0,394.8 425.5,392.0 424.2,387.0 420.2,382.0 415.0,380.9 410.0,379.2 409.7,377.0 405.4,367.0 404.1,362.0 400.0,357.1 399.0,352.0 398.8,342.0 393.7,307.0 393.4,297.0 394.3,282.0 396.3,277.0 397.5,272.0 398.7,262.0 401.3,252.0 405.0,243.9 405.4,242.0 405.7,232.0 405.0,225.2 403.7,227.0 402.5,237.0 400.0,238.8 393.8,242.0 390.0,243.1 379.4,242.0 370.0,232.3 370.0,231.1 373.2,222.0 375.0,218.9 377.7,217.0 385.0,214.1 390.0,212.9 395.0,215.1 397.4,212.0 400.0,211.2 405.0,207.8 410.4,202.0 411.7,197.0 411.6,187.0 410.6,177.0 410.3,167.0 406.9,142.0 407.8,137.0 415.0,133.5 420.0,134.2 425.0,136.5 427.7,137.0 430.0,143.2 432.8,147.0 433.7,152.0 435.4,157.0 440.0,167.7 445.0,170.2 450.0,163.3 455.0,159.4 460.0,157.9 465.0,157.4 470.0,157.4 475.0,158.2 480.0,158.1 482.1,157.0 485.3,152.0 485.0,148.9 480.0,148.4 479.0,147.0 480.0,142.0 478.9,137.0 478.5,132.0 480.0,124.0 485.0,122.6 487.4,127.0 490.0,137.3 493.9,132.0 500.0,127.0 505.0,125.6ZM510.0,196.8 505.0,195.3 503.4,197.0 505.0,201.0 510.0,197.3ZM515.0,166.6 514.5,167.0 515.1,172.0 517.7,177.0 520.0,178.2 525.0,172.0 524.0,167.0 520.0,165.6ZM530.0,201.5 530.0,202.9 534.6,207.0 530.0,211.4 528.5,217.0 530.0,222.2 535.0,223.1 545.0,226.9 549.5,222.0 554.6,212.0 550.0,211.0 545.0,207.6 536.4,207.0 535.5,202.0ZM455.7,207.0 456.4,212.0 460.0,216.6 465.0,218.5 470.0,216.4 474.5,212.0 477.8,207.0 476.3,202.0 475.0,200.8 470.0,199.7 465.0,199.6 459.8,202.0ZM502.0,262.0 505.0,265.0 505.6,267.0 510.0,269.7 520.0,273.1 530.8,267.0 515.0,261.9 510.0,261.1 505.0,261.1ZM930.0,125.6 930.7,127.0 930.0,128.5 929.3,127.0ZM399.2,132.0 400.0,129.2 404.4,132.0ZM435.0,131.4 436.7,132.0 435.0,135.4ZM867.9,137.0 870.0,136.0 875.0,136.0 876.1,137.0 879.2,142.0 877.9,147.0 875.0,149.0 870.0,148.4 868.3,147.0 866.1,142.0ZM210.3,147.0 210.0,151.3 206.4,157.0 205.0,157.4 200.0,157.4 199.3,157.0 199.1,152.0 203.3,147.0 205.0,145.9ZM900.0,149.3 899.3,147.0 900.0,145.8 903.3,147.0ZM1080.0,147.3 1085.0,145.7 1090.0,147.0 1095.0,146.7 1100.0,151.6 1103.9,157.0 1105.0,159.3 1112.2,167.0 1117.3,177.0 1120.0,180.2 1120.9,182.0 1116.8,187.0 1115.0,187.7 1110.0,187.5 1109.0,187.0 1105.0,182.5 1100.0,179.4 1095.0,177.5 1084.2,167.0 1082.7,162.0 1079.9,157.0 1079.5,152.0ZM473.4,152.0 475.0,150.7 476.8,152.0 475.0,153.0ZM917.9,217.0 916.6,212.0 915.0,202.0 915.1,197.0 918.0,187.0 916.4,177.0 918.3,172.0 920.0,170.9 925.0,170.4 930.0,170.5 940.0,171.6 945.0,170.6 950.0,168.7 955.0,169.6 960.0,171.4 970.0,172.9 973.2,182.0 969.7,187.0 962.4,192.0 950.0,196.6 940.0,201.5 930.5,212.0 925.0,218.9 920.0,217.9ZM350.0,188.0 354.3,192.0 357.9,197.0 356.8,202.0 355.0,205.0 350.0,210.4 345.0,207.9 340.9,202.0 339.2,197.0 342.7,192.0 345.0,189.8ZM1165.0,200.3 1165.6,202.0 1164.5,207.0 1160.0,211.4 1156.9,217.0 1152.2,227.0 1150.5,232.0 1150.3,237.0 1145.0,237.8 1135.0,235.9 1131.9,232.0 1126.7,227.0 1122.9,222.0 1122.0,217.0 1122.1,212.0 1125.0,206.8 1130.0,204.3 1135.0,202.9 1140.0,203.1 1155.0,199.6 1160.0,199.4ZM930.0,220.9 940.0,221.0 945.0,220.5 950.0,219.0 960.0,226.4 965.0,229.1 967.9,232.0 970.0,234.8 973.7,242.0 980.0,250.2 983.3,257.0 987.3,272.0 985.0,283.7 982.6,287.0 980.0,288.0 975.0,291.1 970.1,297.0 980.0,301.5 980.9,307.0 980.0,308.4 973.4,312.0 970.0,314.7 965.0,307.2 960.0,308.7 956.4,302.0 950.0,300.2 940.0,300.7 935.0,300.2 931.0,297.0 930.0,295.1 929.6,292.0 927.9,287.0 925.0,283.5 921.9,277.0 920.0,274.4 918.4,267.0 917.9,262.0 915.0,256.9 914.4,252.0 914.6,247.0 920.0,229.4 921.9,227.0ZM566.0,277.0 570.0,274.8 573.3,277.0 570.0,278.2ZM1076.3,277.0 1080.0,275.3 1085.0,274.6 1090.0,275.7 1095.0,278.9 1097.5,282.0 1100.3,287.0 1100.0,287.7 1094.6,292.0 1090.0,293.7 1085.0,294.0 1080.9,292.0 1076.8,287.0 1076.0,282.0ZM549.6,287.0 550.0,282.0 555.0,278.1 560.0,278.6 564.8,282.0 562.8,287.0 560.0,291.0 557.4,292.0 555.0,292.5 553.3,292.0ZM1125.0,300.9 1129.3,297.0 1135.0,295.4 1150.0,295.7 1165.0,294.6 1175.0,292.2 1180.0,292.7 1185.0,294.1 1190.0,297.0 1194.9,302.0 1197.4,307.0 1198.9,312.0 1200.0,317.8 1205.0,329.4 1210.0,331.5 1215.0,335.8 1215.5,337.0 1215.5,342.0 1215.0,344.1 1212.8,347.0 1205.0,350.9 1200.0,349.6 1194.1,352.0 1190.0,354.7 1185.0,356.2 1175.0,355.5 1173.1,352.0 1170.0,350.2 1168.2,347.0 1160.0,340.7 1155.0,340.6 1150.0,337.8 1145.0,336.0 1140.0,332.0 1136.5,327.0 1131.4,322.0 1127.4,312.0 1125.0,307.6 1124.6,302.0ZM935.0,305.4 940.0,306.2 945.0,305.8 950.0,310.5 953.7,312.0 953.2,317.0 949.9,322.0 956.4,327.0 960.0,337.0 958.5,342.0 955.0,344.6 950.0,343.8 948.1,342.0 945.0,337.6 942.2,332.0 940.0,328.8 940.0,322.0 938.0,317.0 935.0,315.9 934.1,312.0 934.3,307.0ZM1079.0,307.0 1080.0,306.3 1082.1,307.0 1080.0,308.1ZM1203.1,307.0 1205.0,302.8 1210.0,304.7 1210.8,307.0 1210.0,309.5 1205.0,309.5ZM829.2,312.0 830.0,312.6 831.4,317.0 830.6,322.0 824.8,327.0 821.8,332.0 822.6,337.0 821.8,347.0 820.0,350.1 815.0,352.5 813.6,352.0 810.0,348.4 806.8,337.0 805.0,333.2 800.0,332.5 795.0,327.1 794.6,317.0 795.0,316.6 800.0,316.2 804.1,317.0 810.0,320.6 814.0,322.0 815.0,323.7 817.8,322.0 818.8,317.0 820.7,312.0 825.0,311.5ZM1090.0,310.5 1090.9,312.0 1091.8,317.0 1090.0,317.9 1085.0,324.0 1080.0,325.5 1078.8,322.0 1080.0,316.5 1085.0,313.4 1085.9,312.0ZM280.0,312.5 285.0,314.0 288.8,317.0 289.5,322.0 285.7,332.0 282.9,347.0 280.0,352.7 275.0,356.0 270.2,347.0 269.8,342.0 271.0,337.0 271.1,322.0 272.4,317.0 275.0,313.5ZM1092.1,337.0 1096.2,327.0 1100.0,326.1 1115.5,337.0 1119.3,342.0 1111.3,347.0 1105.0,348.5 1100.0,346.9 1095.0,342.6 1092.9,342.0ZM356.9,337.0 360.0,340.0 360.0,342.7 355.0,346.8 350.0,352.6 345.0,353.3 344.1,352.0 343.7,347.0 344.9,342.0 350.0,337.0 355.0,336.4ZM250.0,342.3 255.5,347.0 257.3,352.0 257.0,357.0 255.0,361.4 250.0,362.2 245.7,357.0 244.8,347.0 245.0,345.5ZM875.0,349.2 877.8,347.0 885.0,345.8 890.0,346.9 894.3,352.0 896.4,357.0 895.4,362.0 890.0,363.5 885.0,363.3 881.9,362.0 876.2,357.0 874.6,352.0ZM1090.0,343.8 1091.2,347.0 1091.4,352.0 1090.0,352.9 1089.2,347.0ZM917.8,362.0 925.0,358.5 930.0,361.0 931.2,367.0 930.7,372.0 930.0,372.7 925.0,373.0 922.1,372.0 920.0,364.7ZM279.8,372.0 279.3,377.0 275.0,381.6 270.0,383.1 265.0,382.8 261.8,382.0 260.0,380.8 256.3,377.0 265.0,371.6 270.0,367.6 275.0,366.7 275.9,367.0ZM1173.3,367.0 1175.0,369.4 1175.7,372.0 1175.0,373.2 1169.5,377.0 1168.8,382.0 1172.9,387.0 1173.0,392.0 1173.9,397.0 1170.0,400.4 1167.1,402.0 1160.0,403.3 1155.0,403.1 1150.6,402.0 1145.0,397.9 1141.9,397.0 1143.2,387.0 1145.0,381.6 1155.0,377.7 1160.0,376.3 1163.5,372.0 1165.0,369.4 1170.0,366.2ZM845.0,373.2 850.0,372.3 855.0,374.3 856.7,377.0 857.4,382.0 855.0,385.0 850.0,385.7 845.0,382.8 844.4,382.0 844.2,377.0ZM445.0,395.9 445.4,402.0 445.0,402.8 440.9,402.0ZM416.2,402.0 420.0,398.2 424.6,402.0 425.8,407.0 425.0,408.0 420.0,408.8ZM1190.0,397.0 1195.0,401.1 1197.6,402.0 1200.0,404.3 1210.0,407.9 1215.0,408.9 1220.0,408.9 1225.0,408.2 1235.0,405.7 1245.0,405.3 1255.0,403.1 1256.6,407.0 1257.9,417.0 1258.4,432.0 1255.0,441.9 1250.0,445.1 1242.3,447.0 1235.1,447.0 1225.0,445.8 1220.0,446.6 1215.0,448.3 1209.9,447.0 1205.0,442.0 1200.0,438.9 1198.4,437.0 1195.0,430.9 1190.0,417.1 1188.3,417.0 1188.9,407.0 1188.4,402.0ZM615.0,404.1 620.0,404.7 625.0,406.4 628.9,412.0 630.8,417.0 631.4,422.0 626.9,437.0 626.2,442.0 625.0,445.4 620.0,445.3 610.0,441.5 605.7,437.0 605.0,435.1 604.0,422.0 606.0,412.0 608.9,407.0ZM1010.0,405.3 1015.0,402.2 1020.0,403.1 1025.0,406.4 1028.3,412.0 1030.0,416.3 1029.6,422.0 1025.0,425.9 1020.0,424.4 1015.0,421.5 1012.8,417.0 1009.3,412.0 1009.1,407.0ZM1179.3,417.0 1180.0,415.6 1184.3,417.0 1180.0,417.9ZM865.0,426.1 870.0,423.3 875.0,425.1 880.0,427.8 884.2,432.0 884.0,437.0 880.0,438.8 875.0,439.2 868.8,437.0 865.0,433.0 864.6,432.0 864.5,427.0ZM340.0,427.4 345.0,431.2 347.0,432.0 350.0,434.1 351.9,437.0 350.0,441.5 345.0,441.1 340.9,437.0 334.7,432.0ZM350.8,442.0 355.0,440.8 357.9,442.0 355.0,445.6ZM775.0,450.7 785.0,450.2 790.0,452.1 795.0,458.7 799.7,472.0 797.8,477.0 796.7,482.0 799.9,487.0 799.6,492.0 796.1,497.0 795.0,499.7 792.8,502.0 790.7,507.0 790.0,507.5 789.5,507.0 789.1,502.0 785.8,497.0 780.0,492.8 775.0,491.6 770.0,489.2 768.1,487.0 765.2,482.0 764.0,462.0 765.0,458.2 770.9,452.0ZM1184.7,557.0 1186.3,552.0 1190.0,548.4 1195.0,547.2 1200.0,547.5 1205.0,549.8 1208.8,557.0 1203.8,562.0 1200.0,563.2 1195.0,563.8 1190.0,562.9 1188.6,562.0ZM1155.0,627.1 1160.0,627.0 1164.0,632.0 1165.2,642.0 1151.0,642.0 1152.8,637.0Z"/>
<path fill="#008000" fill-rule="evenodd" d="M727.1,77.0 729.9,67.0 735.0,64.8 750.0,64.9 755.0,65.6 770.0,69.0 776.5,72.0 778.0,77.0 780.0,82.0 785.0,87.3 790.0,86.6 795.0,81.3 796.9,82.0 800.6,87.0 798.1,92.0 795.0,96.6 790.0,99.8 781.1,102.0 780.0,103.1 775.0,103.2 771.8,102.0 765.0,102.1 760.0,101.5 750.0,95.6 745.0,94.4 735.0,83.9 730.0,80.8ZM892.9,67.0 895.0,65.6 900.0,63.5 920.0,63.4 925.0,62.9 945.0,65.9 955.0,66.0 960.0,67.9 964.9,72.0 969.7,77.0 972.9,82.0 975.0,86.4 976.6,92.0 973.5,97.0 970.0,100.6 965.0,102.5 950.0,104.7 947.0,102.0 944.7,97.0 941.4,92.0 935.0,84.2 930.0,84.0 920.0,85.3 912.1,82.0 905.0,79.9 893.9,72.0ZM934.7,77.0 935.0,77.9 936.8,77.0 935.0,76.6ZM1015.1,67.0 1020.0,65.8 1025.0,65.3 1046.5,67.0 1050.0,73.3 1055.0,73.1 1060.0,74.0 1065.0,73.9 1067.0,72.0 1069.2,67.0 1075.0,65.6 1085.0,64.9 1095.0,64.8 1115.0,66.1 1120.0,69.3 1123.2,72.0 1126.8,77.0 1131.5,87.0 1133.0,92.0 1131.8,97.0 1133.3,102.0 1135.0,102.2 1137.5,107.0 1135.0,110.7 1130.0,110.2 1129.3,112.0 1130.0,112.7 1135.0,113.4 1140.0,116.6 1144.6,127.0 1144.2,132.0 1135.0,139.6 1115.0,139.7 1109.2,137.0 1102.9,132.0 1098.3,127.0 1095.7,122.0 1094.9,117.0 1088.0,112.0 1085.0,109.2 1075.0,96.8 1070.0,94.3 1065.0,93.0 1060.0,90.9 1045.0,87.1 1040.0,87.7 1035.0,89.9 1026.2,82.0 1025.0,81.5 1020.8,77.0 1017.2,72.0ZM1128.9,102.0 1125.0,101.1 1124.3,102.0 1125.0,106.7ZM1168.9,92.0 1170.0,90.8 1175.0,89.0 1185.0,88.1 1190.0,90.9 1195.0,91.0 1200.0,88.5 1205.0,86.9 1210.0,84.2 1215.0,82.8 1220.0,83.2 1230.0,82.3 1235.0,84.0 1245.0,95.9 1246.6,97.0 1247.7,107.0 1248.9,112.0 1248.8,117.0 1240.0,125.7 1235.0,130.0 1230.0,130.9 1220.0,131.3 1215.0,128.6 1214.4,127.0 1210.0,123.2 1205.0,120.4 1201.6,117.0 1200.0,113.8 1196.7,112.0 1195.0,106.7 1190.0,104.0 1185.0,102.6 1180.0,102.7 1175.0,100.5 1171.1,97.0 1170.0,93.4ZM975.0,110.4 980.0,110.4 982.2,112.0 985.0,113.2 988.6,117.0 990.2,122.0 991.1,127.0 991.1,132.0 990.0,134.5 988.0,137.0 985.0,139.4 980.0,141.0 975.0,138.5 970.0,133.2 966.4,127.0 965.5,122.0 965.2,117.0 970.0,113.2ZM1154.6,132.0 1160.0,129.4 1162.7,127.0 1170.0,123.1 1175.0,122.2 1180.1,122.0 1182.7,117.0 1185.0,114.4 1189.3,117.0 1187.5,122.0 1197.8,127.0 1210.0,132.1 1215.0,133.3 1220.0,135.7 1220.7,137.0 1225.0,140.2 1230.0,140.6 1232.0,142.0 1233.9,147.0 1235.0,153.3 1241.1,157.0 1244.2,162.0 1245.6,167.0 1244.4,172.0 1244.9,177.0 1240.0,181.5 1235.0,180.9 1223.5,177.0 1220.0,174.8 1208.5,172.0 1205.0,170.3 1195.0,169.2 1190.0,167.5 1185.0,163.9 1175.0,160.0 1170.0,157.2 1163.5,152.0 1160.0,146.4 1156.2,142.0 1154.6,137.0ZM1225.0,167.0 1224.5,172.0 1225.0,173.1 1225.5,172.0 1225.4,167.0ZM835.0,119.1 845.1,132.0 850.0,137.1 852.0,142.0 852.0,147.0 853.4,152.0 855.0,154.5 860.0,160.4 862.1,167.0 864.4,172.0 870.0,175.8 875.0,177.8 882.4,182.0 895.0,191.5 900.0,198.2 904.4,207.0 905.5,212.0 910.0,222.0 904.3,232.0 899.0,237.0 895.4,242.0 894.2,247.0 890.0,251.6 885.0,252.9 878.9,252.0 875.0,248.8 873.7,247.0 870.0,245.7 865.0,242.9 859.8,237.0 856.4,232.0 855.0,229.2 845.9,222.0 845.0,220.7 840.0,219.1 837.9,222.0 840.0,223.7 841.1,227.0 841.1,232.0 838.2,237.0 837.2,242.0 835.0,244.3 830.0,243.2 820.0,245.6 816.8,252.0 820.0,254.0 823.3,257.0 825.0,257.7 829.2,262.0 827.9,267.0 825.0,273.9 822.2,277.0 820.0,281.9 815.0,288.1 810.0,289.9 805.0,286.8 804.1,282.0 804.1,277.0 801.9,272.0 800.4,267.0 800.3,262.0 802.1,257.0 802.4,252.0 800.0,247.2 798.9,237.0 797.5,232.0 795.0,229.4 792.6,222.0 790.0,217.1 787.8,207.0 780.0,196.3 776.1,192.0 775.3,187.0 780.0,183.9 785.0,183.8 791.3,187.0 798.6,192.0 800.0,195.1 805.0,197.3 810.0,200.3 820.0,199.1 825.0,199.1 830.0,202.5 832.1,202.0 832.9,197.0 835.4,192.0 836.2,187.0 833.9,177.0 831.8,172.0 831.6,162.0 830.0,159.2 828.9,147.0 825.9,137.0 825.1,132.0 830.0,121.5ZM879.0,227.0 885.0,233.2 890.0,233.6 891.4,232.0 893.3,227.0 890.0,225.3 885.0,224.4 880.0,225.6ZM510.0,126.7 531.8,137.0 535.1,142.0 539.8,147.0 545.0,149.0 550.4,157.0 552.5,162.0 555.0,163.9 557.8,172.0 560.0,174.3 565.5,182.0 567.1,187.0 570.8,192.0 572.7,202.0 571.6,207.0 570.0,209.0 565.0,209.9 560.0,208.3 558.5,207.0 555.0,205.3 550.0,206.5 545.0,205.9 540.0,201.2 535.0,198.3 531.4,197.0 531.2,192.0 530.0,187.5 525.0,186.7 524.5,192.0 525.0,193.4 528.3,197.0 527.1,202.0 528.3,207.0 526.7,217.0 530.0,224.5 535.0,225.4 538.7,227.0 537.6,232.0 545.0,237.3 550.0,240.1 560.0,239.8 566.6,247.0 570.0,249.5 571.6,252.0 570.9,257.0 565.0,259.7 562.2,262.0 560.0,263.2 555.0,263.8 545.0,266.2 535.0,266.5 521.7,262.0 510.0,259.5 505.0,259.6 500.0,261.5 497.1,262.0 501.2,267.0 505.0,267.8 513.4,272.0 515.0,273.5 520.0,276.4 525.0,273.8 530.0,270.3 532.3,272.0 531.4,277.0 525.2,297.0 525.0,302.0 515.0,299.6 510.0,298.9 505.0,299.4 500.0,300.5 485.0,299.5 475.0,296.1 472.0,297.0 470.0,298.4 466.7,302.0 465.0,302.8 461.5,307.0 459.0,317.0 460.7,327.0 460.0,329.7 456.0,337.0 453.9,342.0 452.5,347.0 449.7,352.0 447.3,362.0 443.2,367.0 440.9,372.0 437.1,377.0 432.2,382.0 430.0,391.2 428.8,387.0 423.8,382.0 420.0,379.3 415.0,377.8 414.0,377.0 408.6,367.0 407.7,362.0 401.2,352.0 401.6,342.0 400.0,336.9 397.9,317.0 396.8,312.0 395.0,308.4 394.6,297.0 395.0,292.6 396.6,287.0 397.3,282.0 398.9,277.0 402.1,257.0 403.4,252.0 405.9,247.0 406.9,242.0 406.8,227.0 405.0,219.8 402.9,217.0 402.1,212.0 405.0,210.3 410.0,205.0 411.4,202.0 412.5,197.0 411.2,162.0 410.0,157.7 409.2,152.0 408.8,142.0 410.0,139.8 415.0,136.6 420.0,136.9 425.0,139.0 427.3,142.0 438.8,167.0 440.0,170.7 445.0,171.4 450.0,164.4 455.0,160.2 460.0,158.9 465.0,158.6 470.0,158.8 475.0,160.7 480.0,160.6 485.0,158.3 486.1,157.0 488.5,147.0 491.5,142.0 493.5,137.0 500.0,129.7 505.0,128.7ZM520.0,162.3 515.0,163.3 510.3,167.0 511.0,172.0 513.1,177.0 515.0,179.3 520.0,182.8 525.0,178.5 528.4,172.0 527.9,167.0 525.0,164.3ZM545.0,166.4 544.6,167.0 545.0,167.5 545.6,167.0ZM457.2,202.0 453.8,207.0 455.0,209.1 455.5,212.0 458.1,217.0 460.0,218.7 465.0,219.7 470.0,217.8 476.3,212.0 478.8,207.0 478.5,202.0 475.0,198.9 465.0,198.9 460.0,200.4ZM505.0,192.2 500.8,197.0 502.7,202.0 505.0,203.7 510.0,202.0 512.4,197.0 510.0,193.5ZM867.9,142.0 870.0,138.2 875.0,137.6 877.4,142.0 875.0,147.1 870.0,146.7ZM1090.0,152.8 1095.0,152.9 1100.0,154.5 1101.7,157.0 1103.4,162.0 1105.0,164.7 1110.0,169.7 1111.4,172.0 1113.3,177.0 1116.8,182.0 1115.0,184.3 1110.0,184.1 1108.3,182.0 1105.0,179.3 1100.9,177.0 1095.2,172.0 1091.2,167.0 1086.0,162.0 1086.9,157.0ZM920.0,211.4 917.5,202.0 917.2,197.0 919.6,187.0 918.8,182.0 918.7,177.0 920.0,173.7 930.0,171.7 940.0,172.9 950.0,170.1 960.0,172.8 965.0,173.1 969.8,177.0 972.0,182.0 970.0,184.9 965.0,189.0 960.0,192.0 950.0,195.1 940.0,199.7 935.0,204.9 932.0,207.0 930.0,209.4 926.4,212.0 925.0,214.2ZM1247.6,172.0 1250.0,170.8 1250.9,172.0 1250.0,174.1ZM350.0,190.0 352.2,192.0 356.2,197.0 354.8,202.0 350.0,208.0 345.0,204.1 343.6,202.0 341.5,197.0 345.0,192.0ZM1161.0,202.0 1162.5,207.0 1160.0,209.4 1150.0,230.3 1145.0,235.5 1140.0,235.1 1135.0,234.0 1128.1,227.0 1124.3,222.0 1123.6,217.0 1124.1,212.0 1125.0,210.3 1128.8,207.0 1135.0,204.2 1140.0,204.3 1150.0,201.8 1155.0,201.4ZM385.0,216.0 390.0,216.3 395.0,219.1 397.8,222.0 399.8,227.0 399.7,232.0 396.9,237.0 390.0,240.5 385.0,240.3 380.5,237.0 376.5,232.0 375.0,227.0 375.0,221.8 380.0,218.2ZM560.0,216.0 561.1,217.0 564.2,222.0 560.0,227.1 557.3,222.0 558.3,217.0ZM930.0,223.7 935.0,222.5 950.0,220.9 955.0,225.6 965.0,230.7 966.3,232.0 969.9,237.0 971.6,242.0 980.0,253.1 981.7,257.0 984.7,272.0 983.6,277.0 983.5,282.0 980.0,286.6 975.0,287.4 965.0,297.5 960.0,300.2 955.0,299.4 950.0,297.7 940.0,298.0 935.0,295.2 932.3,292.0 931.0,287.0 930.0,285.2 927.4,282.0 924.8,277.0 921.3,272.0 919.9,267.0 921.5,262.0 919.9,257.0 916.8,252.0 917.0,247.0 920.7,232.0 925.0,227.0ZM1080.0,278.1 1080.9,277.0 1085.0,276.0 1090.0,277.0 1095.0,280.4 1096.3,282.0 1098.2,287.0 1092.0,292.0 1090.0,292.8 1085.0,293.2 1082.6,292.0 1079.2,287.0 1078.6,282.0ZM551.6,282.0 555.0,279.3 560.0,280.4 562.2,282.0 561.1,287.0 560.0,288.5 555.0,291.0 551.3,287.0ZM1127.2,302.0 1130.0,299.4 1135.0,297.7 1140.0,296.9 1155.0,296.2 1165.0,296.5 1175.0,294.1 1180.0,294.3 1185.0,295.9 1190.0,299.1 1192.9,302.0 1194.6,307.0 1197.2,312.0 1198.8,322.0 1200.0,326.0 1203.2,332.0 1204.4,337.0 1203.0,342.0 1195.0,348.0 1190.0,350.6 1185.0,352.4 1180.0,352.9 1170.0,347.0 1163.1,342.0 1160.0,338.7 1155.0,337.5 1150.0,334.7 1145.0,333.6 1143.0,332.0 1139.4,327.0 1134.7,322.0 1131.9,317.0 1127.7,307.0ZM280.0,314.6 285.0,316.1 286.2,317.0 287.1,322.0 286.1,327.0 285.0,329.9 283.3,332.0 282.8,342.0 282.0,347.0 280.0,351.0 275.0,353.4 271.5,347.0 271.4,342.0 273.2,337.0 273.3,332.0 272.5,322.0 273.8,317.0 275.0,315.4ZM810.0,331.0 815.0,330.0 817.8,332.0 819.6,337.0 819.5,342.0 820.5,347.0 820.0,347.8 815.0,350.0 812.0,347.0 809.6,342.0 809.0,332.0ZM1100.0,329.2 1105.0,331.0 1110.0,335.2 1112.8,337.0 1114.0,342.0 1110.0,344.8 1105.0,345.6 1100.0,344.2 1097.6,342.0 1096.3,337.0 1097.9,332.0ZM1210.0,335.5 1212.0,337.0 1210.0,341.2 1206.6,337.0ZM250.0,344.8 255.0,348.7 256.3,352.0 255.8,357.0 255.0,358.7 250.0,360.3 247.3,357.0 246.6,352.0 247.5,347.0ZM345.0,345.8 347.1,347.0 345.0,350.4 344.7,347.0ZM877.4,352.0 880.0,349.6 885.3,347.0 890.0,349.6 892.0,352.0 894.2,357.0 890.6,362.0 885.0,362.1 879.2,357.0ZM925.0,361.1 926.5,362.0 926.3,367.0 925.0,367.6 923.5,362.0ZM261.0,377.0 265.0,374.8 266.8,372.0 270.0,369.4 275.0,368.9 277.8,372.0 277.6,377.0 275.0,379.8 270.0,381.9 265.0,379.7ZM847.2,377.0 850.0,375.0 853.1,377.0 854.4,382.0 850.0,383.5 847.2,382.0ZM1145.0,384.8 1147.0,382.0 1155.0,379.0 1160.0,378.2 1165.0,378.7 1166.5,382.0 1170.0,387.0 1171.0,392.0 1170.1,397.0 1165.0,401.0 1160.0,402.2 1154.8,402.0 1150.0,399.5 1146.9,397.0 1145.0,394.5 1144.0,392.0 1144.4,387.0ZM615.0,406.8 620.0,407.0 625.0,408.9 629.2,417.0 629.4,422.0 628.4,427.0 625.0,436.2 620.0,441.7 610.0,437.6 606.9,432.0 606.0,422.0 608.1,412.0 610.0,409.3ZM1010.7,407.0 1015.0,404.4 1020.0,405.3 1022.6,407.0 1025.5,412.0 1025.6,417.0 1025.0,418.8 1020.0,420.2 1015.0,418.8 1010.8,412.0ZM1255.0,405.6 1257.2,417.0 1257.7,432.0 1255.0,439.6 1250.0,442.4 1245.0,444.2 1240.0,445.0 1225.0,443.5 1220.0,444.4 1216.0,447.0 1215.0,447.3 1213.8,447.0 1210.0,444.9 1207.2,442.0 1200.0,437.7 1194.6,427.0 1192.9,417.0 1200.0,408.2 1205.0,408.2 1210.0,410.8 1215.0,411.7 1225.0,409.5 1235.0,406.7ZM867.5,432.0 870.0,428.0 875.0,428.3 880.0,429.9 882.1,432.0 880.7,437.0 875.0,437.7 872.9,437.0 870.0,434.8ZM775.0,452.7 780.0,452.1 785.0,452.3 790.0,455.9 794.2,462.0 796.8,472.0 795.7,477.0 795.3,482.0 797.2,487.0 797.2,492.0 795.0,494.8 790.0,499.2 788.5,497.0 781.6,492.0 770.1,487.0 767.5,482.0 766.0,472.0 765.7,467.0 766.2,462.0 770.1,457.0ZM1186.6,557.0 1190.0,551.3 1195.0,549.2 1200.0,549.4 1204.1,552.0 1206.5,557.0 1205.0,558.7 1200.0,562.0 1195.0,562.7 1190.0,561.3ZM1153.2,642.0 1155.0,637.2 1160.0,633.4 1161.8,637.0 1162.6,642.0Z"/>
<path fill="#32cd32" fill-rule="evenodd" d="M730.2,72.0 732.0,67.0 735.0,65.7 750.0,65.6 755.0,66.3 765.0,69.0 770.0,70.7 775.0,73.9 780.0,84.9 781.9,87.0 785.0,88.8 790.0,89.2 795.0,87.6 795.3,92.0 791.2,97.0 790.0,97.7 785.0,98.5 780.0,98.6 775.0,99.7 770.0,99.7 760.0,98.9 750.0,92.8 745.0,90.7 740.0,84.5 737.4,82.0 730.0,78.0 729.3,77.0ZM894.3,67.0 900.0,64.3 925.0,63.6 945.0,66.7 955.0,66.9 960.0,69.0 963.5,72.0 968.0,77.0 971.2,82.0 973.0,87.0 972.9,92.0 970.0,97.4 955.2,102.0 950.0,102.1 947.3,97.0 940.8,87.0 941.3,82.0 942.6,77.0 940.0,73.8 935.0,72.2 931.2,77.0 930.0,79.3 925.0,81.8 920.0,82.6 910.0,79.8 900.0,74.9 896.1,72.0ZM1019.4,67.0 1025.0,66.5 1031.7,67.0 1035.0,68.5 1040.0,68.1 1043.7,72.0 1044.6,77.0 1049.6,82.0 1045.0,83.8 1040.0,84.4 1035.0,83.4 1030.0,80.3 1025.0,78.6 1019.4,72.0ZM1058.4,82.0 1060.0,81.2 1065.0,81.2 1070.0,84.4 1071.6,82.0 1071.4,72.0 1072.8,67.0 1075.0,66.4 1085.0,65.6 1100.0,65.7 1115.1,67.0 1122.0,72.0 1125.7,77.0 1127.5,82.0 1130.2,87.0 1131.3,92.0 1130.0,95.5 1128.7,97.0 1125.0,99.0 1122.7,102.0 1123.7,107.0 1130.0,114.3 1135.0,116.1 1136.4,117.0 1139.7,122.0 1141.2,127.0 1140.3,132.0 1135.0,137.1 1125.0,137.7 1115.0,137.5 1110.0,135.0 1101.2,127.0 1098.1,122.0 1095.0,111.8 1090.0,108.6 1085.0,104.6 1083.0,102.0 1080.9,97.0 1081.8,92.0 1080.0,87.9 1075.0,90.8 1074.5,92.0 1070.0,92.4 1068.7,92.0 1065.0,88.5 1058.1,87.0ZM1196.4,92.0 1200.0,90.0 1205.0,88.5 1210.0,85.8 1215.0,84.4 1220.0,85.0 1225.0,85.1 1230.0,84.5 1234.0,87.0 1242.8,97.0 1244.6,102.0 1245.1,107.0 1246.2,112.0 1245.4,117.0 1240.0,122.3 1235.0,126.2 1230.0,128.4 1220.0,129.4 1210.0,120.8 1205.0,118.2 1203.8,117.0 1201.2,112.0 1194.9,102.0 1195.3,97.0ZM1174.4,92.0 1175.0,91.7 1180.0,92.2 1182.9,97.0 1180.0,98.4 1175.0,97.8 1174.1,97.0ZM1131.2,107.0 1135.0,105.4 1135.8,107.0 1135.0,108.2ZM968.8,117.0 975.0,113.4 980.0,113.0 985.0,115.0 986.9,117.0 988.8,122.0 989.9,127.0 989.9,132.0 986.0,137.0 985.0,137.8 980.0,138.8 975.0,135.9 971.5,132.0 968.3,127.0 967.8,122.0ZM835.0,126.7 840.0,129.2 841.7,132.0 850.0,140.5 850.6,142.0 850.7,147.0 851.7,152.0 857.9,162.0 860.0,164.6 862.9,172.0 865.0,174.2 870.0,177.4 879.8,182.0 886.7,187.0 895.0,194.6 900.0,200.9 903.0,207.0 903.9,212.0 903.6,217.0 900.5,222.0 903.4,227.0 902.1,232.0 900.0,234.1 895.0,236.0 894.3,232.0 895.0,230.0 897.1,227.0 890.0,223.9 885.0,222.7 874.7,222.0 876.5,227.0 882.0,232.0 885.0,235.6 890.2,237.0 891.3,242.0 891.6,247.0 890.0,248.7 885.0,249.6 880.0,246.3 870.0,244.0 865.0,241.2 857.6,232.0 855.0,226.1 849.5,222.0 847.3,217.0 846.0,207.0 845.0,204.0 840.5,202.0 839.8,197.0 840.2,192.0 839.8,187.0 838.3,182.0 833.7,172.0 833.6,167.0 834.7,162.0 832.2,157.0 830.5,152.0 829.7,142.0 830.0,137.0 829.4,132.0 830.0,129.3ZM1156.9,137.0 1158.6,132.0 1160.0,131.4 1164.9,127.0 1170.0,124.7 1175.0,124.6 1185.0,125.6 1190.0,128.6 1202.1,132.0 1205.0,133.5 1215.0,136.2 1216.3,137.0 1217.5,142.0 1220.0,144.1 1225.0,145.2 1230.0,144.8 1231.3,147.0 1233.0,157.0 1230.0,161.4 1220.9,167.0 1220.0,168.6 1215.9,172.0 1214.3,172.0 1205.0,167.8 1195.0,167.4 1193.7,167.0 1186.8,162.0 1180.0,159.6 1175.3,157.0 1170.0,156.0 1165.0,152.4 1160.0,144.5 1157.8,142.0ZM498.6,137.0 500.0,134.2 502.8,132.0 510.0,130.9 520.0,133.9 524.6,137.0 530.0,146.3 535.0,150.4 540.0,152.1 545.0,151.8 546.1,157.0 545.0,158.4 537.7,162.0 535.0,164.2 530.0,164.9 525.0,160.7 520.0,158.4 515.0,158.3 512.5,157.0 511.3,152.0 510.0,151.5 505.0,147.8 500.0,142.4 497.8,142.0ZM495.0,144.6 495.5,147.0 497.5,152.0 499.8,162.0 505.0,167.1 507.3,172.0 515.0,184.1 518.0,187.0 520.0,191.4 521.4,197.0 523.2,202.0 525.0,204.8 525.5,207.0 524.7,217.0 530.0,226.7 531.4,227.0 533.6,237.0 535.0,237.7 538.0,242.0 540.0,243.9 545.0,243.7 550.0,242.3 560.0,242.9 565.0,248.1 570.0,251.5 570.3,252.0 570.0,254.0 568.7,257.0 565.0,258.4 560.0,262.4 550.0,263.6 545.0,264.7 535.0,264.4 530.0,263.1 525.0,260.4 515.0,259.3 510.0,257.9 505.0,258.2 500.0,260.7 495.0,261.5 484.8,262.0 483.0,267.0 485.0,267.7 490.0,268.1 495.0,267.8 500.0,268.2 505.0,269.2 511.2,272.0 515.0,275.7 517.2,277.0 519.4,282.0 517.9,287.0 514.3,292.0 510.0,295.8 505.0,296.8 500.0,298.5 490.0,298.3 485.0,297.8 471.8,292.0 470.0,290.3 465.0,287.6 460.0,289.6 458.8,292.0 460.0,295.1 465.0,295.4 465.9,297.0 457.8,307.0 455.1,312.0 454.0,317.0 450.8,322.0 453.0,327.0 453.8,332.0 451.3,337.0 450.0,343.3 449.0,342.0 445.0,341.6 440.0,340.3 435.0,341.8 430.0,346.5 425.0,347.0 420.0,345.9 416.4,342.0 415.0,341.3 410.0,340.2 405.3,342.0 405.0,348.6 404.7,337.0 405.1,332.0 404.5,327.0 401.9,322.0 401.9,317.0 400.0,313.6 399.8,312.0 397.5,307.0 396.7,302.0 397.2,297.0 398.5,292.0 400.7,287.0 400.5,282.0 401.4,272.0 402.6,267.0 405.3,262.0 404.1,257.0 407.4,247.0 408.4,242.0 408.6,237.0 408.1,227.0 406.2,217.0 406.1,212.0 410.0,207.2 412.4,202.0 413.2,197.0 412.7,162.0 410.4,152.0 412.0,142.0 415.0,140.1 420.0,140.4 425.0,141.9 429.8,152.0 433.2,157.0 437.9,167.0 440.0,174.5 445.0,174.5 448.8,167.0 455.0,161.1 460.0,159.9 470.0,160.2 473.6,162.0 475.0,163.2 480.0,164.9 485.0,161.7 488.9,157.0 489.4,152.0 490.0,150.4 494.6,147.0ZM490.0,172.9 485.0,174.8 481.4,177.0 480.0,180.1 479.1,187.0 474.7,197.0 460.0,198.9 455.0,200.7 445.0,199.4 444.3,207.0 445.0,211.3 447.9,207.0 450.0,202.6 450.6,207.0 452.3,212.0 455.2,217.0 460.0,221.3 465.0,220.9 470.0,219.4 475.0,214.6 478.7,212.0 480.0,204.3 490.0,198.2 491.0,197.0 492.8,187.0 492.4,182.0 491.4,177.0ZM505.0,190.0 502.1,192.0 500.0,194.4 496.8,197.0 499.7,202.0 505.0,205.6 510.0,205.0 513.0,202.0 514.7,197.0 515.0,192.8 517.5,192.0 515.0,191.6 510.0,189.8ZM869.7,142.0 870.0,141.5 875.0,141.0 875.6,142.0 875.0,143.2 870.0,142.6ZM1093.2,157.0 1095.0,156.4 1097.3,157.0 1096.8,162.0 1095.0,162.7 1094.1,162.0ZM1240.0,167.0 1240.0,172.8 1239.6,172.0ZM968.4,177.0 970.7,182.0 965.0,187.5 960.0,190.6 950.0,193.6 940.0,197.9 935.0,202.6 930.0,204.8 925.0,208.7 922.8,207.0 920.0,202.0 919.3,197.0 920.0,191.6 920.8,192.0 922.6,197.0 925.0,200.1 930.0,198.6 931.4,197.0 926.5,192.0 926.8,187.0 921.4,182.0 921.3,177.0 925.0,174.5 930.0,173.7 940.0,174.3 950.0,171.6 955.0,173.0 965.0,174.2ZM545.0,174.1 550.0,172.3 555.0,173.3 560.0,178.7 562.0,182.0 562.5,187.0 560.0,192.2 558.5,197.0 558.3,202.0 555.0,203.3 550.0,204.6 545.0,204.1 540.0,199.0 537.1,197.0 535.2,192.0 540.0,182.5 541.3,177.0ZM1234.3,177.0 1235.0,176.2 1236.3,177.0ZM780.0,185.5 785.0,185.4 796.3,192.0 798.5,197.0 798.7,202.0 800.0,203.1 802.0,202.0 805.0,201.2 810.0,202.9 810.6,202.0 820.0,200.4 825.0,201.1 830.0,203.6 835.0,207.5 839.5,207.0 840.0,204.5 840.3,207.0 840.0,212.0 836.7,217.0 835.0,218.8 830.0,221.3 825.4,222.0 822.0,227.0 823.4,232.0 820.0,237.0 815.0,237.9 812.8,242.0 811.0,247.0 810.0,247.8 805.0,249.5 803.3,247.0 801.7,242.0 803.6,237.0 803.3,232.0 800.0,230.1 797.1,227.0 792.3,212.0 790.0,209.7 789.4,207.0 786.9,202.0 785.0,200.6 778.5,192.0 777.7,187.0ZM810.0,215.3 809.3,217.0 810.0,218.0 811.9,217.0ZM350.0,191.9 354.3,197.0 352.7,202.0 350.0,205.4 346.3,202.0 343.9,197.0 345.0,195.3ZM564.2,202.0 565.0,201.2 570.0,201.1 570.2,202.0 570.0,202.7 565.0,202.5ZM1155.0,203.6 1160.0,205.9 1160.5,207.0 1154.9,217.0 1150.0,227.8 1145.0,233.0 1140.0,233.2 1135.0,232.0 1129.5,227.0 1126.2,222.0 1125.5,217.0 1126.4,212.0 1132.1,207.0 1135.0,205.6 1140.0,205.5 1150.0,203.4ZM378.3,222.0 380.0,220.7 385.0,219.9 390.0,220.2 395.1,222.0 396.0,227.0 395.0,229.0 390.8,232.0 390.0,234.4 385.0,235.2 381.3,232.0 380.0,231.4 378.0,227.0ZM930.0,226.7 935.0,225.1 940.0,224.9 945.0,225.3 948.8,227.0 945.8,232.0 950.0,236.0 955.4,232.0 960.0,230.7 963.6,232.0 965.0,233.1 967.1,237.0 970.8,247.0 975.0,250.8 980.1,257.0 980.6,262.0 980.5,267.0 980.0,268.4 975.0,269.2 970.0,275.4 969.5,277.0 969.4,282.0 966.0,287.0 965.0,290.1 960.8,297.0 960.0,297.4 954.7,297.0 952.4,292.0 950.0,290.3 948.2,292.0 945.0,293.6 940.0,295.2 935.3,292.0 933.6,287.0 933.6,282.0 930.7,277.0 930.0,272.7 925.0,272.4 923.2,267.0 925.8,262.0 925.6,257.0 925.0,255.5 921.0,252.0 919.9,247.0 920.0,242.0 920.9,237.0 922.7,232.0 925.0,229.4ZM960.0,251.0 959.2,252.0 958.9,257.0 960.0,258.5 968.5,262.0 970.0,267.6 970.8,267.0 971.1,262.0 970.5,257.0 966.5,252.0 965.0,251.1ZM825.0,261.1 825.9,262.0 826.1,267.0 825.0,270.5 819.5,277.0 815.0,284.3 812.7,287.0 810.0,287.9 808.6,287.0 807.5,282.0 810.2,277.0 805.0,273.4 803.0,267.0 803.3,262.0 805.0,258.6 810.0,257.4 820.0,259.5ZM525.0,277.0 525.6,282.0 525.0,285.1 523.2,282.0ZM553.1,282.0 555.0,280.5 559.4,282.0 559.0,287.0 555.0,289.4 552.8,287.0ZM972.7,282.0 975.0,278.6 980.0,277.5 981.0,282.0 980.0,283.3 975.0,282.9ZM1081.2,282.0 1085.0,277.9 1090.0,278.7 1095.1,282.0 1096.1,287.0 1090.0,291.7 1085.0,292.4 1084.3,292.0 1081.1,287.0ZM1130.5,302.0 1135.0,300.0 1155.0,297.2 1165.0,297.7 1170.0,297.3 1175.0,296.1 1180.0,296.0 1185.0,297.8 1190.8,302.0 1195.4,312.0 1196.7,317.0 1197.1,322.0 1198.2,327.0 1200.7,332.0 1200.9,337.0 1197.7,342.0 1191.9,347.0 1185.0,350.1 1180.0,350.3 1165.0,342.0 1156.0,332.0 1155.0,331.5 1150.0,331.6 1145.0,330.0 1143.0,327.0 1140.7,322.0 1135.0,317.8 1134.6,317.0 1133.4,312.0 1131.2,307.0ZM280.0,316.7 281.0,317.0 284.6,322.0 284.0,327.0 280.0,331.6 275.0,329.7 273.9,322.0 275.0,317.7ZM280.0,333.3 281.5,342.0 281.1,347.0 280.0,349.2 275.0,351.0 272.8,347.0 273.2,342.0 275.0,337.8 276.7,337.0ZM815.0,336.8 815.0,344.6 814.7,342.0ZM250.0,347.3 255.0,351.1 255.4,352.0 255.0,354.7 253.3,357.0 250.0,358.3 249.0,357.0 247.9,352.0ZM420.0,350.4 422.2,357.0 420.0,361.9 415.7,357.0 417.3,352.0ZM445.0,349.4 446.5,357.0 445.0,360.8 440.0,366.6 438.0,367.0 435.3,372.0 433.6,377.0 430.0,380.0 421.1,377.0 415.0,374.3 413.5,372.0 413.6,367.0 415.0,363.9 420.0,362.2 425.0,362.5 430.0,361.3 433.5,357.0 435.5,352.0 440.0,350.3ZM881.1,352.0 885.0,349.5 890.0,352.4 892.5,357.0 890.0,360.1 885.0,359.8 881.9,357.0ZM266.0,377.0 269.0,372.0 270.0,371.2 275.0,371.2 275.8,372.0 276.0,377.0 275.0,378.1 270.0,379.9ZM1145.9,387.0 1149.9,382.0 1155.0,380.3 1160.0,380.0 1165.0,383.0 1167.8,387.0 1169.2,392.0 1168.0,397.0 1165.0,399.3 1160.0,400.8 1155.0,400.3 1149.6,397.0 1145.9,392.0ZM1015.0,406.7 1020.0,407.5 1023.3,412.0 1020.0,416.7 1015.0,415.9 1012.7,412.0 1014.4,407.0ZM615.0,408.8 620.0,408.8 625.0,412.3 627.7,417.0 628.1,422.0 626.9,427.0 624.7,432.0 620.0,438.0 615.0,436.6 610.0,432.4 608.3,427.0 607.6,422.0 608.4,417.0 610.0,412.3ZM1195.9,417.0 1200.0,410.9 1205.0,410.4 1207.7,412.0 1215.0,421.0 1216.8,422.0 1220.0,431.5 1221.5,427.0 1220.0,419.6 1218.3,417.0 1221.4,412.0 1235.0,408.1 1250.0,407.3 1255.0,408.9 1256.6,417.0 1257.0,432.0 1255.0,437.2 1245.0,441.8 1240.0,442.5 1230.0,442.0 1225.0,439.4 1221.0,442.0 1215.0,444.7 1210.0,442.6 1200.9,437.0 1200.0,435.7 1196.1,427.0 1195.0,422.0ZM873.4,432.0 875.0,431.5 879.7,432.0 875.0,433.0ZM780.0,454.3 785.0,454.8 790.0,458.9 792.2,462.0 793.8,467.0 794.2,472.0 793.5,482.0 794.6,487.0 793.9,492.0 790.0,493.8 785.0,492.5 775.0,487.0 769.9,482.0 768.4,472.0 768.9,467.0 771.9,462.0 775.9,457.0ZM1188.7,557.0 1190.0,554.6 1193.3,552.0 1195.0,551.2 1200.0,551.2 1201.2,552.0 1204.3,557.0 1200.0,560.3 1195.0,561.4 1190.0,558.7Z"/>
<path fill="#ffff00" fill-rule="evenodd" d="M734.1,67.0 735.0,66.6 750.0,66.2 754.7,67.0 765.0,70.0 769.5,72.0 775.0,76.5 777.9,82.0 780.0,88.0 785.0,90.3 790.4,92.0 785.0,95.8 780.0,95.3 775.0,96.9 770.0,97.7 760.0,96.0 753.4,92.0 750.0,88.6 745.0,85.0 742.6,82.0 740.0,79.7 735.0,78.5 732.6,77.0 732.5,72.0ZM895.8,67.0 900.0,65.0 925.0,64.2 941.2,67.0 940.0,68.2 935.0,69.5 933.5,72.0 930.0,75.9 925.0,80.0 920.0,80.8 915.0,80.1 905.0,76.0 900.0,73.2 898.4,72.0ZM1075.0,68.3 1077.0,67.0 1080.0,66.7 1100.0,66.5 1115.0,68.7 1120.8,72.0 1125.0,79.1 1128.1,87.0 1129.3,92.0 1125.0,96.7 1121.1,102.0 1122.3,107.0 1126.2,112.0 1130.0,115.8 1132.7,117.0 1136.3,122.0 1137.9,127.0 1136.0,132.0 1135.0,133.0 1130.0,134.9 1115.0,135.6 1110.0,132.8 1103.0,127.0 1097.7,117.0 1096.4,112.0 1095.0,108.9 1092.7,107.0 1090.0,103.5 1088.2,102.0 1085.1,97.0 1084.7,92.0 1083.5,87.0 1076.5,82.0 1073.5,77.0 1073.3,72.0ZM943.4,72.0 945.0,70.4 955.0,68.5 960.0,70.1 962.2,72.0 966.4,77.0 969.2,82.0 970.7,87.0 968.5,92.0 965.0,95.7 955.0,99.0 950.1,97.0 947.8,92.0 946.3,87.0 945.7,77.0 945.0,74.5ZM1199.1,92.0 1210.0,88.8 1211.5,87.0 1215.0,85.9 1225.0,87.3 1230.0,86.8 1240.0,97.2 1242.6,102.0 1243.5,112.0 1242.5,117.0 1235.0,123.8 1230.0,125.7 1220.0,127.5 1210.0,118.5 1207.1,117.0 1205.0,115.3 1200.0,106.2 1198.3,102.0 1198.1,97.0ZM972.7,117.0 975.0,115.7 980.0,115.2 985.2,117.0 987.3,122.0 988.2,127.0 987.8,132.0 985.0,135.6 980.0,136.5 975.0,133.2 970.4,127.0 970.0,122.0ZM1159.5,137.0 1162.7,132.0 1168.5,127.0 1170.0,126.3 1175.3,127.0 1185.0,129.3 1190.0,133.2 1195.0,134.6 1197.4,137.0 1200.0,138.4 1210.0,137.4 1215.0,144.7 1217.8,147.0 1220.0,147.8 1225.0,148.1 1229.7,152.0 1230.4,157.0 1225.0,161.6 1215.0,168.4 1210.0,167.0 1205.0,164.8 1195.0,163.1 1190.0,160.1 1179.6,157.0 1170.0,154.8 1166.0,152.0 1159.5,142.0ZM835.0,130.9 842.6,137.0 845.0,138.4 848.4,142.0 850.0,152.0 853.9,162.0 860.0,168.8 861.3,172.0 865.0,175.7 870.0,179.4 876.2,182.0 884.1,187.0 893.6,197.0 895.0,197.7 898.9,202.0 901.6,207.0 902.4,212.0 900.8,217.0 896.6,222.0 895.0,223.2 888.1,222.0 885.0,220.2 875.0,219.3 870.6,217.0 870.0,215.8 865.0,213.3 860.0,216.0 855.0,216.0 853.0,212.0 850.0,208.5 847.1,202.0 843.7,197.0 841.7,182.0 839.2,177.0 835.8,172.0 835.9,167.0 837.6,162.0 836.0,157.0 833.4,152.0 831.8,147.0 833.7,132.0ZM506.5,142.0 515.0,135.6 520.0,136.4 520.9,137.0 523.7,142.0 522.0,147.0 520.0,148.9 515.0,149.5 510.8,147.0ZM420.0,144.8 425.0,146.9 427.8,152.0 430.0,153.8 432.1,157.0 436.9,167.0 438.4,172.0 440.0,180.8 442.2,182.0 441.8,187.0 442.4,197.0 441.5,207.0 442.0,212.0 445.0,217.0 448.9,222.0 454.7,227.0 452.8,232.0 455.0,235.3 456.9,232.0 460.0,228.1 465.0,223.4 465.8,222.0 470.0,221.0 475.0,216.3 480.0,213.1 490.0,212.7 491.8,212.0 495.0,209.6 500.0,207.7 510.0,208.0 520.5,217.0 525.0,219.8 528.2,227.0 528.4,232.0 527.6,237.0 535.0,241.6 540.0,246.5 550.0,244.4 555.0,244.4 560.0,245.4 565.0,251.1 566.5,252.0 565.4,257.0 555.9,262.0 550.0,262.2 545.0,263.1 535.0,262.2 530.0,259.4 525.0,257.7 520.0,258.3 515.0,258.0 511.7,257.0 510.0,255.6 505.0,256.6 500.0,259.9 495.0,260.8 490.0,260.9 485.0,260.4 480.5,262.0 480.0,262.9 475.0,265.3 470.0,266.9 463.7,272.0 463.2,282.0 460.0,284.3 457.4,287.0 454.9,292.0 454.0,297.0 454.1,302.0 453.1,307.0 450.0,317.0 447.4,322.0 448.1,332.0 445.0,336.0 435.0,339.3 430.0,343.0 425.0,344.3 420.0,340.9 415.0,338.7 412.7,337.0 407.6,327.0 406.9,322.0 407.7,317.0 407.7,312.0 405.5,307.0 400.0,303.2 399.8,302.0 400.9,297.0 403.0,292.0 404.0,287.0 402.9,282.0 403.1,272.0 404.7,267.0 407.6,262.0 406.7,257.0 407.5,252.0 409.0,247.0 410.4,237.0 409.6,232.0 408.8,217.0 409.9,212.0 413.3,202.0 413.9,197.0 414.1,162.0 413.5,152.0 415.0,149.1ZM455.0,161.9 460.0,160.9 470.0,161.6 477.2,167.0 478.4,172.0 476.8,182.0 474.5,187.0 473.1,192.0 470.0,196.0 467.9,197.0 460.0,197.4 455.0,195.4 451.5,192.0 445.4,182.0 446.2,177.0 448.8,172.0 449.7,167.0ZM495.0,164.8 497.7,167.0 500.0,168.2 503.7,172.0 505.0,177.2 508.3,182.0 507.9,187.0 500.0,189.4 498.6,187.0 497.9,182.0 495.0,180.2 491.9,172.0 492.8,167.0ZM550.0,176.2 551.7,177.0 556.9,182.0 558.3,187.0 557.6,192.0 555.0,199.1 552.5,202.0 550.0,202.6 545.0,202.2 540.4,197.0 538.0,192.0 541.8,187.0 543.4,182.0 545.0,178.9ZM924.5,177.0 930.0,176.0 940.0,175.8 950.0,173.2 955.0,174.4 965.0,175.4 967.0,177.0 969.3,182.0 965.0,186.0 960.0,189.2 950.0,192.1 940.0,195.7 935.0,194.1 932.5,192.0 930.0,182.3 925.0,178.2ZM783.4,187.0 785.1,187.0 793.1,192.0 795.0,194.3 796.2,197.0 795.0,199.4 790.0,200.9 785.0,197.5 781.5,192.0ZM350.0,194.5 352.0,197.0 350.6,202.0 350.0,202.7 349.2,202.0 346.8,197.0ZM812.5,207.0 815.0,203.5 817.2,202.0 820.0,201.7 825.0,202.8 830.0,204.7 833.2,207.0 835.0,209.6 837.6,212.0 833.9,217.0 830.0,219.9 825.0,220.2 820.0,218.3 814.7,212.0ZM1155.0,206.0 1156.7,207.0 1156.5,212.0 1150.0,225.6 1145.0,230.7 1140.0,231.2 1135.0,229.6 1131.9,227.0 1128.5,222.0 1129.0,212.0 1135.0,207.0 1140.0,206.8 1150.0,204.9ZM805.0,219.3 807.0,222.0 808.1,227.0 805.0,229.1 802.0,227.0 802.8,222.0ZM860.0,220.5 861.7,222.0 870.0,224.5 880.0,232.0 883.6,237.0 883.6,242.0 880.0,243.5 875.0,242.4 870.0,242.3 865.0,239.6 858.9,232.0 857.8,227.0 858.9,222.0ZM815.0,227.9 813.9,227.0 815.0,224.8 815.6,227.0ZM925.0,231.7 930.0,229.3 935.0,228.0 940.0,228.1 945.0,235.5 950.0,240.0 953.9,242.0 955.4,252.0 956.7,257.0 965.2,267.0 966.8,277.0 966.6,282.0 965.0,284.1 960.0,286.4 955.0,286.0 950.0,284.8 946.3,282.0 945.0,280.4 940.0,278.3 938.6,277.0 936.2,272.0 931.9,267.0 927.4,257.0 925.0,250.2 923.3,247.0 922.7,242.0 922.9,237.0ZM811.6,267.0 820.0,266.1 820.9,267.0 820.0,268.4ZM466.9,282.0 480.0,271.3 485.0,269.7 495.0,269.3 500.0,269.6 505.0,270.7 508.3,272.0 513.8,277.0 516.5,282.0 514.9,287.0 511.8,292.0 510.0,293.6 500.0,296.4 490.0,296.3 485.0,295.5 477.5,292.0ZM555.0,281.7 555.8,282.0 556.3,287.0 555.0,287.8 554.3,287.0ZM1083.6,282.0 1085.0,280.5 1090.0,280.6 1092.3,282.0 1093.8,287.0 1090.0,289.8 1085.0,290.7 1082.6,287.0ZM940.0,292.4 939.4,292.0 940.0,288.7 940.9,292.0ZM1136.7,302.0 1140.0,301.4 1145.0,301.2 1155.0,298.7 1160.0,298.3 1165.0,298.7 1175.0,297.7 1180.0,297.7 1185.0,299.8 1188.1,302.0 1190.0,304.0 1193.8,312.0 1195.1,317.0 1195.3,322.0 1197.3,332.0 1196.6,337.0 1193.6,342.0 1190.0,345.4 1185.0,348.0 1180.0,347.7 1168.6,342.0 1159.8,332.0 1155.0,329.5 1150.0,328.4 1147.6,327.0 1145.0,324.7 1143.5,322.0 1138.3,317.0 1136.3,312.0 1135.8,307.0ZM280.0,320.6 281.1,322.0 281.1,327.0 280.0,328.3 278.3,327.0 277.1,322.0ZM275.0,341.8 280.0,341.1 280.0,347.4 275.0,348.7 274.1,347.0ZM250.0,355.3 249.1,352.0 250.0,350.1 252.6,352.0ZM885.0,353.2 890.0,355.7 890.7,357.0 890.0,357.9 885.0,357.4 884.6,357.0ZM268.7,377.0 270.0,374.6 272.8,377.0 270.0,378.0ZM1147.9,387.0 1150.0,384.4 1153.7,382.0 1155.0,381.6 1160.2,382.0 1165.0,386.1 1167.6,392.0 1165.9,397.0 1165.0,397.7 1160.0,399.3 1155.0,398.5 1152.5,397.0 1149.0,392.0ZM615.0,410.8 620.0,410.6 622.1,412.0 625.0,415.0 626.1,417.0 626.7,422.0 625.4,427.0 622.4,432.0 620.0,435.0 615.0,434.0 612.7,432.0 610.0,426.2 609.3,422.0 610.0,417.6 613.1,412.0ZM1014.6,412.0 1015.0,410.9 1020.0,410.4 1021.2,412.0 1020.0,413.7 1015.0,412.7ZM1221.7,417.0 1225.0,412.3 1235.0,409.8 1240.0,409.1 1250.0,409.7 1255.0,412.9 1256.0,417.0 1256.3,432.0 1255.0,435.4 1249.4,437.0 1245.0,439.0 1235.0,434.9 1230.0,434.1 1227.3,432.0 1225.0,428.5ZM1205.0,412.9 1212.5,422.0 1217.4,432.0 1217.5,437.0 1215.0,440.7 1210.0,440.8 1202.9,437.0 1199.5,432.0 1197.8,427.0 1197.3,422.0 1200.0,415.6ZM780.0,456.4 785.0,457.3 790.0,461.7 792.1,467.0 791.5,477.0 791.9,487.0 790.0,489.4 785.0,490.3 777.8,487.0 772.6,482.0 771.1,477.0 770.8,472.0 771.9,467.0 776.1,462.0 779.1,457.0ZM1190.9,557.0 1195.0,553.4 1200.0,553.8 1202.2,557.0 1200.0,558.7 1195.0,559.7Z"/>
<path fill="#ffd700" fill-rule="evenodd" d="M735.0,71.1 741.6,67.0 745.0,66.8 750.6,67.0 760.0,69.3 765.0,71.0 770.0,74.1 775.0,78.6 776.8,82.0 777.9,87.0 780.0,91.6 785.7,92.0 785.0,92.5 780.0,92.3 775.0,94.1 770.0,94.9 765.0,92.9 760.0,92.5 759.2,92.0 756.9,87.0 750.0,83.3 745.0,80.0 740.0,75.2 735.0,73.2ZM897.4,67.0 900.0,65.8 905.0,65.2 925.0,64.8 934.7,67.0 932.0,72.0 930.0,74.2 925.0,78.2 920.0,79.3 915.0,78.8 905.0,74.5 900.6,72.0ZM950.6,72.0 955.0,70.1 960.0,71.3 964.6,77.0 966.5,82.0 965.0,89.4 963.2,87.0 960.0,86.0 955.1,87.0 957.3,92.0 955.0,93.9 950.0,87.9 948.7,82.0 948.5,77.0ZM1075.8,72.0 1080.0,69.0 1085.0,68.0 1090.0,72.8 1100.0,73.3 1102.5,77.0 1104.0,82.0 1104.5,87.0 1104.4,92.0 1102.3,97.0 1103.9,102.0 1105.0,102.1 1106.6,102.0 1110.0,100.8 1114.8,87.0 1114.5,82.0 1108.8,77.0 1106.1,72.0 1110.0,70.5 1115.0,70.5 1118.7,72.0 1120.2,77.0 1120.0,79.5 1117.3,82.0 1120.0,83.8 1125.0,84.7 1125.8,87.0 1126.3,92.0 1118.5,102.0 1120.0,103.8 1120.9,107.0 1124.4,112.0 1129.3,117.0 1132.4,122.0 1134.2,127.0 1130.2,132.0 1125.0,133.0 1115.0,133.8 1110.0,130.8 1104.8,127.0 1101.5,122.0 1099.1,117.0 1095.0,104.5 1093.4,102.0 1090.0,99.1 1088.4,97.0 1087.1,92.0 1086.7,87.0 1085.0,84.9 1079.6,82.0 1076.3,77.0ZM1204.2,92.0 1206.1,92.0 1210.0,94.7 1213.6,92.0 1215.0,90.1 1220.0,89.5 1230.0,89.9 1240.6,102.0 1240.8,112.0 1240.0,115.9 1235.0,118.8 1231.8,122.0 1220.0,124.0 1210.0,115.0 1205.8,112.0 1204.2,102.0ZM975.0,120.0 980.0,117.5 985.0,120.1 985.8,122.0 986.5,127.0 985.7,132.0 985.0,132.9 980.0,133.6 977.5,132.0 973.9,127.0 973.9,122.0ZM1161.8,137.0 1165.0,133.2 1167.3,132.0 1170.0,129.7 1175.0,129.7 1185.0,132.6 1190.0,136.0 1192.1,137.0 1195.0,140.5 1205.0,140.4 1210.0,141.8 1211.2,147.0 1215.0,151.6 1225.0,149.7 1227.8,152.0 1227.5,157.0 1220.0,162.8 1215.0,165.5 1210.0,164.8 1205.4,162.0 1205.0,158.6 1204.0,157.0 1208.2,152.0 1205.0,151.0 1200.0,151.1 1195.4,147.0 1195.0,146.0 1194.8,147.0 1190.7,152.0 1190.0,153.4 1185.0,156.2 1180.0,155.7 1170.0,153.6 1167.7,152.0 1165.0,148.4 1161.4,142.0ZM513.5,142.0 515.0,140.8 520.0,139.9 521.3,142.0 520.0,144.3 515.0,144.2ZM840.0,138.8 845.6,142.0 847.1,147.0 846.7,152.0 847.6,157.0 847.8,162.0 850.0,162.9 855.0,166.2 858.4,172.0 855.8,177.0 860.0,178.5 865.0,178.4 875.0,184.4 880.0,186.6 886.1,192.0 885.0,195.6 877.2,197.0 875.0,199.9 873.1,197.0 870.0,195.4 865.0,194.2 858.8,197.0 860.8,207.0 860.6,212.0 860.0,212.3 855.0,209.9 852.4,207.0 850.0,202.5 849.5,197.0 846.9,192.0 845.4,187.0 844.8,177.0 840.0,173.9 838.7,172.0 838.8,167.0 840.0,163.4 842.5,162.0 840.1,157.0 835.0,149.8 833.8,147.0 835.2,142.0ZM425.0,150.6 425.7,152.0 430.0,155.5 435.9,167.0 437.4,172.0 438.3,177.0 439.5,192.0 439.2,202.0 437.8,212.0 439.9,217.0 445.0,224.6 447.3,227.0 445.0,228.8 440.0,229.2 435.0,227.2 434.4,232.0 435.0,235.2 440.0,240.2 441.1,242.0 441.2,247.0 442.8,252.0 445.0,254.2 450.0,257.5 460.0,257.7 465.0,256.0 470.0,252.0 465.0,248.7 460.0,248.8 456.4,247.0 455.8,242.0 460.0,238.9 465.0,231.5 470.0,231.5 475.0,227.1 473.0,222.0 475.0,220.5 477.5,217.0 480.0,215.6 490.0,214.6 495.0,213.0 500.0,210.3 505.0,209.9 510.0,211.3 520.0,219.8 524.0,222.0 525.0,223.1 526.2,227.0 525.9,232.0 525.0,234.5 520.0,234.5 518.1,237.0 520.0,242.0 525.0,240.5 530.0,241.4 530.9,242.0 530.0,245.9 525.0,246.6 520.0,255.6 515.0,256.3 510.0,252.1 505.0,254.2 503.5,257.0 500.0,259.1 495.0,260.0 490.0,260.1 485.0,258.8 480.3,257.0 480.0,256.5 478.0,257.0 475.0,262.0 470.0,263.5 465.0,266.7 460.0,266.5 458.3,272.0 460.0,274.6 460.8,277.0 460.0,279.0 455.0,284.4 450.9,287.0 451.1,302.0 450.0,306.0 447.4,302.0 445.8,297.0 442.2,292.0 441.3,287.0 440.0,284.8 438.3,287.0 437.0,292.0 435.0,293.9 426.0,297.0 428.6,302.0 429.5,307.0 425.0,311.3 420.0,311.0 415.0,309.7 411.6,307.0 411.8,302.0 415.0,298.3 417.9,297.0 416.5,292.0 416.7,287.0 420.0,283.8 430.0,280.4 432.5,277.0 437.4,272.0 434.0,257.0 434.6,252.0 432.4,247.0 430.0,246.1 425.0,245.9 421.1,247.0 422.3,252.0 425.1,257.0 426.4,267.0 425.0,269.6 420.0,266.6 415.0,268.3 411.2,267.0 410.0,264.2 409.5,252.0 410.0,249.9 417.5,242.0 416.1,237.0 412.9,232.0 411.4,222.0 411.3,217.0 411.8,212.0 414.3,202.0 415.3,167.0 416.3,157.0 420.0,152.1ZM445.0,274.3 444.1,277.0 445.0,278.0 445.7,277.0ZM460.0,161.9 462.1,162.0 465.0,163.8 470.0,166.0 471.4,167.0 474.8,172.0 472.2,177.0 470.0,178.8 468.9,182.0 471.5,187.0 470.8,192.0 470.0,193.0 465.0,195.8 460.0,195.3 455.0,192.8 454.1,192.0 452.2,187.0 450.0,184.9 448.0,182.0 448.8,177.0 450.0,174.5 453.3,172.0 452.4,167.0 455.0,164.7ZM457.8,177.0 460.0,177.9 466.3,177.0 465.0,174.8 460.0,173.1ZM495.0,169.9 500.4,172.0 500.0,175.6 495.0,174.8 494.1,172.0ZM934.0,182.0 935.0,180.1 941.2,177.0 950.0,174.9 955.0,175.8 965.0,176.5 965.6,177.0 967.5,182.0 965.0,184.4 960.0,187.8 955.0,189.0 950.0,189.6 945.0,192.3 940.0,193.2 938.0,192.0 935.5,187.0ZM541.9,192.0 545.0,186.1 550.0,183.8 553.7,187.0 555.0,189.1 555.0,192.5 550.0,191.8 546.9,197.0 545.0,198.4 543.8,197.0ZM870.0,201.4 871.2,202.0 870.0,202.2ZM885.0,197.8 890.0,197.5 895.0,199.5 897.2,202.0 900.2,207.0 900.8,212.0 898.5,217.0 895.0,220.8 890.0,220.4 885.2,217.0 880.6,212.0 881.3,207.0 881.2,202.0ZM817.6,207.0 820.0,205.1 825.0,204.3 830.0,205.8 831.7,207.0 835.3,212.0 831.9,217.0 830.0,218.4 825.0,218.3 822.5,217.0 820.0,210.1ZM1155.0,210.0 1155.4,212.0 1150.0,223.7 1145.0,228.5 1140.0,228.8 1135.0,227.2 1130.7,222.0 1131.3,212.0 1135.0,208.7 1150.0,206.4 1151.9,207.0ZM861.3,232.0 865.0,229.7 870.0,233.0 880.0,236.1 880.6,237.0 880.0,238.6 875.0,237.8 870.0,238.4 865.0,237.9ZM929.6,232.0 935.0,231.8 940.0,233.0 942.7,237.0 945.0,242.0 950.0,246.1 954.1,257.0 954.0,262.0 950.0,266.1 945.0,265.0 940.0,266.2 935.0,266.8 932.5,262.0 930.0,258.6 927.1,252.0 925.8,247.0 924.8,237.0ZM557.2,247.0 557.8,252.0 555.6,257.0 555.0,257.4 550.0,257.7 545.0,260.9 537.8,257.0 540.0,256.3 547.3,252.0 547.1,247.0 550.0,246.4 555.0,246.4ZM410.0,267.8 411.9,272.0 411.9,277.0 410.0,279.9 405.0,279.8 404.7,277.0 405.0,271.4ZM475.9,282.0 477.4,277.0 484.4,272.0 490.0,270.8 500.0,271.0 505.0,272.2 510.6,277.0 513.7,282.0 512.9,287.0 510.0,291.2 500.0,293.5 490.0,293.5 485.0,292.6 483.7,292.0 478.5,287.0ZM950.0,268.3 955.0,270.1 960.0,273.7 963.2,277.0 963.0,282.0 960.0,283.7 951.9,282.0 950.0,280.5 947.4,277.0 947.3,272.0ZM1084.2,287.0 1085.0,284.2 1090.0,283.4 1091.3,287.0 1090.0,288.0 1085.0,288.2ZM1140.0,306.7 1145.0,307.7 1149.9,302.0 1155.0,300.1 1160.0,299.4 1170.0,299.6 1175.0,299.0 1180.0,299.5 1185.1,302.0 1190.0,307.2 1192.2,312.0 1193.4,317.0 1192.8,322.0 1188.8,327.0 1186.6,332.0 1190.3,342.0 1185.0,345.1 1180.0,344.8 1172.6,342.0 1163.2,332.0 1160.0,330.0 1153.3,327.0 1150.0,325.0 1146.8,322.0 1142.9,317.0 1140.0,314.4 1138.7,312.0ZM442.4,317.0 443.9,322.0 444.1,327.0 443.5,332.0 440.0,334.5 425.0,341.1 420.0,337.5 418.6,337.0 420.0,334.1 425.0,332.2 430.0,327.5 431.1,327.0 433.5,322.0 433.1,317.0 435.0,314.6 440.0,315.5ZM415.0,319.3 418.8,322.0 418.5,327.0 415.0,331.9 411.0,327.0 410.0,324.8 409.6,322.0 410.0,320.4ZM1149.9,387.0 1155.0,384.1 1160.0,384.4 1163.0,387.0 1165.0,389.5 1166.1,392.0 1165.0,394.7 1162.5,397.0 1160.0,397.9 1156.0,397.0 1155.0,396.4 1151.9,392.0ZM1224.1,417.0 1225.0,415.7 1232.7,412.0 1240.0,410.5 1250.0,412.0 1255.0,415.5 1255.3,417.0 1255.6,432.0 1255.0,433.6 1245.0,436.5 1232.8,432.0 1230.0,430.4 1227.6,427.0 1225.0,421.9ZM620.0,413.0 623.6,417.0 625.0,419.4 625.4,422.0 625.0,423.5 622.5,427.0 620.0,432.3 615.0,430.9 613.0,427.0 614.1,417.0 615.0,415.0ZM1205.0,415.7 1209.1,422.0 1210.0,422.7 1212.4,427.0 1214.4,432.0 1213.5,437.0 1210.0,439.1 1204.8,437.0 1201.6,432.0 1199.5,427.0 1199.5,422.0 1200.0,420.9 1203.1,417.0ZM785.0,460.4 790.0,465.8 790.5,467.0 789.2,477.0 789.6,482.0 787.9,487.0 785.0,488.0 780.0,486.2 775.4,482.0 773.1,477.0 773.2,472.0 774.8,467.0 780.0,462.2ZM1193.6,557.0 1195.0,555.8 1200.1,557.0 1195.0,557.9Z"/>
<path fill="#ff8c00" fill-rule="evenodd" d="M899.0,67.0 905.0,65.9 925.0,65.5 931.1,67.0 930.4,72.0 925.0,76.3 920.0,77.8 915.0,77.5 910.0,74.9 905.0,73.1 903.1,72.0ZM741.0,72.0 745.0,69.2 750.0,68.2 760.0,70.1 764.9,72.0 771.5,77.0 775.0,80.6 775.7,82.0 776.3,87.0 775.0,90.8 770.0,91.9 762.6,87.0 760.0,83.9 755.6,82.0 750.0,80.3 745.5,77.0ZM954.3,72.0 955.0,71.7 960.0,73.1 962.6,77.0 960.0,81.6 955.0,82.6 953.9,82.0 951.3,77.0ZM1086.1,82.0 1090.0,79.7 1095.0,78.5 1100.0,81.1 1102.1,87.0 1102.5,92.0 1100.0,96.0 1095.0,98.4 1093.3,97.0 1090.0,93.4 1089.5,92.0 1089.4,87.0ZM1115.0,96.2 1116.5,97.0 1115.0,98.9 1114.7,97.0ZM1210.3,102.0 1214.8,97.0 1220.0,92.3 1225.0,92.1 1230.0,93.5 1232.6,97.0 1237.3,102.0 1238.4,107.0 1237.9,112.0 1230.0,119.3 1225.0,120.1 1220.0,119.1 1217.4,117.0 1215.0,115.9 1211.3,112.0 1209.6,107.0ZM1100.0,105.4 1110.0,104.6 1115.0,103.7 1117.3,107.0 1120.0,109.2 1121.4,112.0 1126.2,117.0 1128.6,122.0 1127.8,127.0 1125.0,129.5 1115.0,131.9 1107.2,127.0 1105.0,125.2 1102.9,122.0 1100.0,115.3 1099.1,112.0 1098.9,107.0ZM980.0,120.3 982.9,122.0 984.3,127.0 980.0,130.0 977.5,127.0 977.7,122.0ZM1164.1,137.0 1165.0,135.9 1170.0,133.0 1175.0,132.3 1185.0,135.7 1186.9,137.0 1190.4,142.0 1191.5,147.0 1185.0,153.3 1180.0,154.3 1175.0,153.7 1170.0,152.4 1165.6,147.0 1163.3,142.0ZM838.2,147.0 840.0,143.2 845.1,147.0 845.0,147.5 840.0,149.6ZM1222.2,152.0 1225.0,151.2 1225.9,152.0 1225.0,156.1ZM425.0,153.3 430.0,157.2 435.0,167.1 436.4,172.0 437.8,187.0 436.8,197.0 436.9,202.0 435.0,208.6 430.0,212.2 425.0,214.0 423.0,217.0 420.7,222.0 425.0,224.8 430.0,225.0 430.8,227.0 431.8,232.0 431.9,237.0 430.0,240.6 425.0,241.4 420.0,239.2 416.7,232.0 416.7,227.0 415.0,224.6 413.6,217.0 413.6,212.0 415.0,204.0 419.1,202.0 416.9,197.0 416.2,192.0 416.4,172.0 417.1,162.0 420.0,156.6ZM1209.4,157.0 1210.0,156.4 1215.0,155.7 1217.6,157.0 1217.3,162.0 1215.0,163.3 1210.0,162.5 1209.2,162.0ZM939.6,187.0 940.5,182.0 945.0,179.7 948.6,177.0 950.0,176.6 953.4,177.0 955.0,177.8 960.0,177.4 965.0,179.7 965.8,182.0 956.4,187.0 955.0,187.3 950.0,187.0 945.0,189.2 940.0,187.9ZM850.0,180.6 855.3,182.0 859.9,187.0 855.2,192.0 850.9,187.0 849.7,182.0ZM456.0,187.0 460.0,182.7 465.0,182.6 467.8,187.0 467.6,192.0 465.0,193.6 460.0,193.0 458.1,192.0ZM887.3,202.0 890.0,201.1 895.0,201.4 898.7,207.0 899.2,212.0 896.4,217.0 895.0,218.6 890.0,218.0 888.6,217.0 884.1,212.0 885.0,205.1ZM821.9,207.0 825.0,205.7 830.1,207.0 833.1,212.0 830.0,216.9 825.0,216.2 822.4,212.0ZM1132.9,222.0 1132.5,217.0 1133.3,212.0 1135.0,210.5 1140.0,209.5 1150.0,208.5 1153.6,212.0 1150.0,221.7 1145.0,226.4 1140.0,226.5 1135.0,224.6ZM505.0,212.2 510.0,214.2 513.1,217.0 515.0,220.2 517.6,222.0 519.5,227.0 517.2,232.0 512.9,237.0 510.8,242.0 507.5,247.0 502.2,257.0 500.0,258.3 495.0,259.2 490.0,259.2 484.4,257.0 481.1,252.0 475.6,247.0 475.7,242.0 476.9,232.0 478.5,227.0 478.3,222.0 480.0,219.6 485.0,217.0 490.0,216.6 495.0,215.4 500.0,213.0ZM930.0,234.2 935.0,234.5 938.9,237.0 945.0,248.3 948.9,252.0 950.4,257.0 950.0,257.9 940.0,262.4 935.0,261.8 930.0,254.9 928.7,252.0 927.6,247.0 927.0,242.0 927.2,237.0ZM515.0,245.9 518.7,247.0 517.4,252.0 515.0,253.3 513.5,252.0 513.4,247.0ZM482.9,277.0 490.0,273.1 495.0,272.9 500.0,273.4 505.0,275.5 510.0,280.5 510.9,282.0 510.9,287.0 510.0,288.3 505.0,289.9 500.0,289.1 497.2,287.0 495.6,282.0 495.0,281.3 490.0,279.1 485.0,281.7ZM479.6,282.0 480.0,281.0 484.3,282.0 480.0,282.7ZM1153.7,302.0 1160.0,300.4 1170.0,300.7 1175.0,300.3 1180.0,301.3 1185.0,304.0 1187.9,307.0 1190.7,312.0 1191.6,317.0 1190.1,322.0 1185.1,327.0 1180.0,336.7 1175.0,338.2 1170.0,335.0 1165.0,330.3 1158.1,327.0 1150.0,320.9 1147.4,317.0 1146.7,312.0 1149.0,307.0ZM420.0,307.2 419.6,307.0 420.0,305.3 420.8,307.0ZM1158.3,387.0 1160.1,387.0 1163.9,392.0 1160.0,395.7 1154.9,392.0 1155.0,390.0ZM1229.9,417.0 1235.0,413.8 1240.0,412.0 1250.0,413.9 1253.9,417.0 1254.9,422.0 1254.2,432.0 1245.0,434.5 1238.1,432.0 1231.3,427.0 1231.2,422.0ZM620.0,425.1 618.3,422.0 620.0,418.8 621.8,422.0ZM1205.0,424.1 1208.9,427.0 1210.0,428.6 1211.0,432.0 1210.6,437.0 1210.0,437.3 1209.1,437.0 1204.3,432.0 1203.0,427.0ZM785.0,463.3 788.2,467.0 787.9,472.0 786.1,477.0 785.0,482.6 780.0,480.9 776.5,477.0 776.1,472.0 778.2,467.0 780.0,465.3Z"/>
<path fill="#cc0000" fill-rule="evenodd" d="M901.5,67.0 905.0,66.5 925.0,66.1 928.4,67.0 927.9,72.0 925.0,74.2 920.0,75.6 915.0,75.3 906.2,72.0ZM745.3,72.0 750.0,69.6 760.0,71.0 762.7,72.0 765.0,76.7 770.0,78.7 773.1,82.0 773.1,87.0 770.0,88.3 768.1,87.0 766.7,82.0 765.0,78.2 760.0,80.2 755.0,79.7 750.0,78.1 748.5,77.0ZM954.0,77.0 955.0,75.4 960.0,76.2 960.5,77.0 960.0,77.9 955.0,78.5ZM1095.0,82.6 1100.0,88.4 1100.5,92.0 1100.0,92.9 1095.0,95.2 1091.8,92.0 1093.9,87.0ZM1220.0,96.0 1225.0,94.5 1229.2,97.0 1233.8,102.0 1235.8,107.0 1234.8,112.0 1230.0,116.2 1225.0,117.7 1215.0,112.9 1214.1,112.0 1212.3,107.0 1212.8,102.0 1215.0,99.6ZM1100.9,112.0 1105.0,107.3 1110.0,107.5 1115.0,109.1 1122.9,117.0 1125.3,122.0 1125.0,122.9 1119.7,127.0 1115.0,129.0 1110.0,127.3 1105.0,123.2 1104.2,122.0ZM1165.2,142.0 1167.1,137.0 1170.0,135.2 1175.0,134.4 1185.0,138.8 1187.7,142.0 1188.8,147.0 1185.0,150.7 1182.5,152.0 1180.0,152.8 1175.0,152.6 1170.0,150.8 1167.1,147.0ZM425.0,155.5 430.0,159.1 435.5,172.0 436.3,187.0 435.0,194.4 433.3,197.0 430.0,200.3 420.0,195.1 418.9,192.0 418.0,187.0 417.7,172.0 418.6,162.0 420.0,159.5ZM459.8,187.0 460.6,187.0 460.0,187.4ZM890.0,203.9 895.0,203.6 897.2,207.0 897.5,212.0 895.0,216.1 890.0,215.5 886.7,212.0 887.1,207.0ZM825.0,207.9 830.0,210.3 831.0,212.0 830.0,213.5 825.0,213.3 824.2,212.0ZM1135.0,213.1 1135.8,212.0 1140.0,210.8 1145.0,210.5 1150.0,210.7 1151.3,212.0 1150.8,217.0 1150.0,219.0 1147.8,222.0 1145.0,224.6 1140.0,224.5 1135.2,222.0 1134.1,217.0ZM509.9,217.0 509.6,222.0 508.7,227.0 505.0,231.2 500.0,234.5 495.0,235.5 490.0,235.2 485.1,232.0 485.1,227.0 485.8,222.0 490.0,219.5 500.0,215.9 505.0,214.9ZM421.2,232.0 425.0,230.7 427.1,232.0 425.3,237.0 424.8,237.0ZM930.0,236.6 935.0,237.3 937.5,242.0 940.0,244.1 944.6,252.0 944.3,257.0 940.0,259.4 935.0,257.7 930.0,250.2 928.7,242.0 929.6,237.0ZM485.3,252.0 490.0,248.1 500.0,249.1 501.8,252.0 500.9,257.0 500.0,257.5 495.0,258.4 490.0,258.4 486.6,257.0ZM1157.7,302.0 1160.0,301.4 1170.0,301.8 1175.0,301.5 1180.0,303.4 1185.0,306.1 1185.9,307.0 1188.5,312.0 1189.9,317.0 1180.0,326.3 1178.0,327.0 1175.0,332.3 1170.0,328.4 1167.4,327.0 1162.5,322.0 1164.2,317.0 1160.0,312.4 1159.2,312.0 1156.4,307.0ZM1159.5,392.0 1160.0,391.5 1160.4,392.0 1160.0,392.4ZM1234.3,417.0 1240.0,414.1 1245.0,414.3 1250.0,415.8 1251.5,417.0 1252.7,422.0 1252.3,427.0 1250.0,430.7 1245.0,432.4 1240.0,430.8 1235.4,427.0 1235.7,422.0ZM785.0,466.1 785.8,467.0 786.0,472.0 785.0,474.3 780.6,472.0 783.0,467.0Z"/>
<path fill="#8b0000" fill-rule="evenodd" d="M908.5,67.0 913.2,67.0 910.0,68.5ZM913.3,72.0 915.0,68.6 917.1,67.0 926.0,67.0 925.0,72.1 920.0,72.7ZM748.1,72.0 750.0,71.0 755.0,71.2 760.6,72.0 761.0,77.0 760.0,77.6 755.0,77.5 753.5,77.0 750.0,74.9ZM1094.1,92.0 1095.0,90.4 1096.7,92.0 1095.0,92.9ZM1215.9,102.0 1225.0,97.0 1230.5,102.0 1231.4,112.0 1230.0,113.2 1225.0,113.4 1220.0,111.9 1215.0,107.7 1215.0,104.6ZM1103.9,112.0 1105.0,110.8 1110.0,110.2 1114.5,112.0 1118.8,117.0 1120.8,122.0 1120.0,122.7 1115.0,124.2 1110.0,123.7 1107.4,122.0 1105.0,118.5ZM1167.7,142.0 1170.0,137.8 1175.0,136.5 1180.0,139.7 1185.0,141.8 1186.4,147.0 1185.0,148.4 1180.0,150.4 1175.0,150.5 1170.0,148.8 1168.6,147.0ZM425.0,158.1 430.0,161.0 433.1,172.0 433.6,177.0 432.1,182.0 434.1,187.0 432.3,192.0 430.0,195.0 425.0,194.2 422.2,192.0 419.7,187.0 419.0,172.0 420.0,162.5ZM890.0,206.4 895.0,205.9 895.7,207.0 895.7,212.0 895.0,213.2 890.0,213.0 889.0,212.0 889.5,207.0ZM1145.3,212.0 1149.0,217.0 1145.9,222.0 1145.0,222.8 1140.0,222.6 1138.9,222.0 1136.6,217.0 1140.0,212.6ZM489.7,232.0 487.7,227.0 490.0,222.8 495.0,221.0 500.0,220.6 505.0,221.2 505.0,223.5 500.0,224.8 497.5,227.0 496.0,232.0ZM932.7,247.0 935.0,244.7 937.7,247.0 935.0,249.6ZM489.1,252.0 490.0,251.2 495.4,252.0 498.5,257.0 495.0,257.6 490.0,257.6 488.6,257.0ZM1160.6,307.0 1165.0,304.4 1170.0,306.1 1175.0,305.2 1180.0,305.9 1182.2,307.0 1185.0,310.1 1185.9,312.0 1186.5,317.0 1180.0,322.5 1175.0,322.4 1170.0,320.0ZM1238.6,417.0 1240.0,416.3 1245.0,415.9 1248.3,417.0 1250.4,422.0 1249.7,427.0 1245.0,429.5 1240.0,428.7 1237.9,427.0Z"/>
<path fill="none" stroke="#b4b4b4" stroke-width="1.15" d="M719.6,334.7L715.0,336.5L714.0,334.1L709.4,336.6L704.8,338.0L701.9,336.4L698.6,338.7L695.6,338.3L692.0,340.2M692.0,340.2L691.3,343.5L692.5,348.1L689.1,350.9L689.5,355.5M696.7,366.9L694.8,363.1L694.2,358.8L689.5,355.5M662.3,358.2L665.3,361.5L664.8,364.1L665.3,369.0L668.2,372.7L669.7,376.1L669.7,379.6L671.5,382.1L672.9,387.0L673.4,389.1M662.3,358.2L661.8,357.9L661.8,357.9M661.8,357.9L658.9,358.2L655.1,360.6L648.9,361.4L645.4,362.3M645.4,362.3L646.9,366.0L645.8,369.9L642.2,373.0L644.3,376.2L643.8,381.1M643.8,381.1L646.1,384.8L649.3,387.7L652.8,389.6M652.8,389.6L656.9,390.4L661.3,390.0L664.7,389.6L668.8,388.9L673.4,389.1M673.8,389.3L672.6,389.9L673.4,389.1M689.5,355.5L686.4,356.3L681.0,357.4L677.1,353.6L674.7,356.4L671.5,356.8L665.0,359.3L662.3,358.2M692.0,340.2L689.4,337.1L687.9,332.9L684.6,330.4M684.6,330.4L679.9,332.0L676.7,332.4L673.5,334.2L669.0,333.8L663.3,333.9L662.1,335.6M662.1,335.6L662.7,339.5L660.8,343.7L662.2,347.5L661.3,352.2L662.3,354.0L661.8,357.9M651.2,423.4L650.4,420.4L648.7,417.1L645.4,410.9L643.5,409.3M643.5,409.3L644.6,405.6L645.7,404.1L648.3,399.0L648.4,396.0L652.7,393.3L652.8,389.6M666.0,304.8L664.9,309.1L662.7,311.9L659.5,315.8L658.6,319.5L654.4,321.4L655.5,323.5L652.6,327.1M634.7,295.9L635.7,300.4L638.3,302.9L638.2,306.4L640.3,308.6L639.0,313.2L640.4,316.0L642.7,320.5L642.7,324.2L644.9,326.8M644.9,326.8L649.4,326.6L652.6,327.1M684.6,330.4L685.0,327.6L684.9,322.3L685.6,320.2L687.6,316.5L687.1,311.4M662.1,335.6L659.8,333.5L655.1,329.8L652.6,327.1M299.0,439.6L298.5,433.8L298.2,432.6L296.5,429.9L295.5,425.4L296.8,420.9L297.0,419.7L294.3,413.7L295.8,411.6L293.5,407.8L294.2,404.6M294.2,404.6L292.5,406.0L287.9,405.8L285.0,405.5L278.9,405.7L276.7,406.5L273.2,405.4L269.9,406.6L266.1,405.0M279.1,337.1L283.9,336.6L288.4,336.2M279.1,337.1L276.7,334.6L273.5,330.1L272.4,328.2L270.1,324.0L267.1,321.9L267.2,318.5L263.7,315.5L261.3,311.9M288.4,336.2L288.8,331.4L290.3,330.8L289.3,326.0L290.2,322.9L288.8,320.2L290.2,316.3L291.2,311.1L291.5,308.0M270.2,300.4L273.2,300.0L278.6,303.5L280.8,305.4L283.4,305.4L289.7,307.7L291.5,308.0M262.2,350.1L264.6,347.7L268.5,344.9L270.9,344.4L274.0,341.8L275.7,339.8L279.1,337.1M643.5,409.3L637.5,407.5L636.1,407.5L632.9,404.2L627.1,404.9L624.0,402.2M643.8,381.1L640.7,383.3L636.9,382.9L632.6,385.3L628.7,387.9L624.5,388.1M624.0,402.2L624.9,397.9L625.4,395.4L624.2,390.3L624.5,388.1M616.2,432.7L617.5,429.4L616.0,427.9L616.4,420.9L614.7,418.0L614.2,412.2L614.0,410.9M624.0,402.2L621.5,404.8L616.6,408.6L614.0,410.9M582.6,437.3L581.0,435.8L580.5,431.3M580.5,431.3L579.4,427.1L580.8,424.5M580.8,424.5L583.2,420.2L583.6,418.4L585.9,414.9L588.6,412.5L590.5,411.3L593.7,407.9L594.7,403.7M614.0,410.9L608.1,408.9L607.1,409.7L603.4,405.7L599.0,404.3L594.7,403.7M327.7,437.0L329.3,435.1L329.1,428.2L330.9,426.0L330.1,420.0M294.2,404.6L295.5,404.2L295.0,403.9M295.0,403.9L299.2,404.5L300.9,406.4L305.6,404.8L310.0,403.1L312.7,405.5L316.7,407.3L320.4,404.5L323.5,406.7M330.1,420.0L326.8,417.2L327.1,413.3L323.4,411.8L323.5,406.7M580.8,424.5L578.4,420.6L576.9,417.7L573.2,416.3L569.3,414.3L566.3,409.9L565.0,407.4L562.9,405.9L559.8,402.2M594.7,403.7L594.1,399.9L592.2,396.4L589.6,393.8L589.0,389.3M589.0,389.3L585.7,389.2L582.0,390.7L578.9,393.1L576.2,396.6L573.1,397.1L569.5,397.7L565.5,397.5L563.2,402.4L559.8,402.2M559.8,402.2L555.9,400.4L553.2,401.1M553.2,401.1L548.9,402.9L546.7,405.9M580.5,431.3L577.2,431.1L572.0,428.1L570.9,430.1L564.5,428.5L562.4,428.1L559.0,426.3L555.4,426.2L551.6,425.3M546.7,405.9L546.0,410.0L549.3,413.9L549.2,417.6L551.8,420.7L551.6,425.3M543.1,443.9L544.1,441.2L545.6,435.7L547.1,433.2L549.0,429.1L551.6,425.3M263.5,370.0L268.7,370.7L272.9,370.4L272.8,371.9L277.8,369.4L280.9,369.0L285.0,369.6L290.2,371.5L290.7,369.4L296.0,371.1M295.0,403.9L294.9,399.6L296.9,397.8L298.5,392.7L298.5,388.2L298.7,384.2L299.7,380.2L299.6,377.7M299.6,377.7L297.3,374.5L296.0,371.1M645.4,362.3L644.5,361.5L640.9,359.6M644.9,326.8L641.3,330.0L636.9,330.1L633.6,333.8M633.6,333.8L633.1,336.2L632.2,339.9M640.9,359.6L640.7,356.4L637.2,352.1L635.5,351.3L633.3,345.7L634.3,344.4L632.2,339.9M591.0,354.3L594.6,355.6L598.4,355.1L600.7,354.1L605.4,352.7M591.0,354.3L588.1,356.4L585.9,360.6L580.9,363.7M589.1,388.7L587.7,387.6L586.2,382.4L582.9,379.8L580.1,373.0L579.6,372.8M589.1,388.7L591.7,385.8L596.7,384.3L599.2,383.3L603.4,381.7L607.0,381.1L612.2,376.3L614.0,376.1M580.9,363.7L580.7,368.6L579.6,372.8M614.0,376.1L614.3,373.7L614.7,369.7M614.7,369.7L612.0,365.2L612.9,362.8L609.8,359.1L609.2,358.3L606.1,353.1M605.4,352.7L606.8,352.2L606.1,353.1M589.0,389.3L588.4,388.6L589.1,388.7M553.6,378.4L557.2,377.1L560.4,377.6L565.8,376.3L569.4,373.8L571.9,374.0L576.0,374.2L579.6,372.8M553.2,401.1L554.2,398.2L553.7,390.7L552.4,390.5L552.6,384.9L551.3,383.4L553.6,378.4M624.5,388.1L620.8,384.9L619.5,382.7L617.9,379.1L614.0,376.1M640.9,359.6L638.8,360.5L634.5,362.8L630.0,364.1L628.3,364.6L625.0,365.2L619.1,366.9L617.1,369.3L614.7,369.7M632.2,339.9L630.1,342.0L626.1,343.0L622.3,345.5L619.1,346.8L614.8,346.5L611.0,349.4L610.7,352.7L606.1,353.1M593.6,304.2L591.7,309.4L592.7,313.8L592.4,317.4L591.9,319.7L591.0,324.7M593.6,304.2L595.8,306.1L602.1,308.1L605.8,306.4L607.7,308.5L612.0,308.1L615.7,311.5M591.0,324.7L596.6,326.1L600.8,328.4L604.2,328.7M604.2,328.7L607.5,325.4L612.5,322.9L615.6,321.0M615.7,311.5L616.6,317.0L615.6,321.0M633.6,333.8L628.6,330.3L627.7,328.6L625.1,327.5L622.1,324.1L619.3,325.1L615.6,321.0M605.4,352.7L605.2,347.6L604.2,345.5L605.8,342.0L605.6,337.6L604.0,331.5L604.2,328.7M626.7,294.3L624.0,296.3L622.5,300.2L620.0,305.0L618.1,309.4L615.7,311.5M553.6,378.4L552.1,375.2L548.2,371.6L544.7,368.0M580.9,363.7L579.7,360.0L574.3,360.4L571.0,356.0L567.1,354.2L566.8,353.1L562.7,349.9L559.0,348.2M544.7,368.0L547.3,365.9L549.4,361.9L553.9,357.3L553.0,355.8L557.1,351.4L559.0,348.2M427.1,405.7L427.5,408.2L425.4,413.2L425.3,417.4L425.3,419.8L425.1,423.5L422.9,426.6L423.9,431.3M427.1,405.7L426.1,406.5L423.9,403.6M398.5,431.1L398.2,427.7L399.8,423.9L399.9,420.4L399.6,415.9L399.4,412.2L399.1,408.8M399.1,408.8L403.3,408.1L406.8,406.5L409.0,406.3L413.2,406.9L416.0,406.2L418.9,403.6L423.9,403.6M332.4,366.0L330.8,369.4L327.3,371.7L325.6,376.2L324.2,379.4M332.4,366.0L335.8,367.3L340.0,369.6L344.7,367.5L346.9,368.0L350.6,369.8L354.6,369.7M346.8,392.4L350.0,387.2L350.4,386.5L353.5,382.7L356.2,378.8L358.0,376.1M346.8,392.4L341.8,392.0L340.1,393.9L334.1,392.5L330.5,393.2M330.5,393.2L329.1,390.6L328.1,388.2L327.3,381.2L324.2,379.4M354.6,369.7L355.6,372.6L358.0,376.1M356.5,410.8L355.8,407.7L351.1,402.8L350.5,401.7L349.7,397.0L346.8,392.4M330.1,420.0L333.0,418.7L338.3,416.3L342.3,416.8L346.2,414.0L349.1,414.9L353.5,411.3L356.5,410.8M323.5,406.7L327.8,403.3L326.9,399.0L328.1,398.1L330.5,393.2M299.6,377.7L303.9,377.2L307.4,377.7L310.5,379.0L314.3,378.3L317.0,379.4L319.4,379.3L324.2,379.4M290.8,337.6L294.4,335.9L297.6,336.1L301.5,333.7L304.4,331.7L309.0,332.3L311.9,330.7L315.0,331.3L318.6,329.9M290.8,337.6L291.2,341.4L292.9,344.0L293.6,347.8L295.5,350.7L295.7,353.7L298.2,358.8L299.0,360.9M299.0,360.9L303.0,358.7L306.2,359.5L308.9,357.1L315.1,356.2L316.3,355.5L319.4,353.4L323.3,349.8L326.3,351.0M318.6,329.9L321.2,331.2L324.1,333.9L325.8,336.1L329.2,340.2M326.3,351.0L328.2,347.3L327.5,343.5L329.2,340.2M288.4,336.2L289.8,337.3L290.8,337.6M296.0,371.1L297.4,368.4L298.9,364.3L299.0,360.9M332.4,366.0L331.7,362.8L331.0,357.4L326.6,355.5L326.3,351.0M593.6,304.2L589.7,300.8L590.7,298.3L588.2,294.3L585.8,291.4M523.8,310.6L527.0,307.3L529.8,306.4L531.1,304.2L536.2,302.4L538.4,298.9L540.0,296.5L543.4,295.4M523.8,310.6L523.2,314.6L524.6,315.8L523.6,320.9L525.0,326.4L526.4,328.3M553.6,312.3L550.6,309.7L550.0,307.0L548.0,301.8L546.0,298.9L543.4,295.4M540.1,331.7L536.3,331.5L531.6,332.6M540.1,331.7L541.8,327.6L545.7,324.9L546.2,323.1L549.9,316.1L551.0,316.3L553.6,312.3M526.4,328.3L528.8,330.6L531.6,332.6M546.7,405.9L545.5,405.2L541.6,405.9M540.7,444.3L538.2,441.2L536.4,438.8L534.1,435.8L533.0,434.2L530.3,430.8L529.1,426.2L526.0,424.4M541.6,405.9L539.4,407.4L535.0,411.1L532.3,414.2L530.4,416.0L530.4,420.0L525.8,420.5M526.0,424.4L526.3,423.9L525.8,420.5M470.3,294.5L470.9,291.7L471.7,285.8M470.3,294.5L472.4,299.3L471.9,301.1M504.7,286.4L503.9,285.7L504.6,286.7M471.9,301.1L475.8,302.2L477.6,304.8L481.0,308.1M481.0,308.1L483.1,304.8L486.1,302.8L489.1,299.8L491.7,299.1L495.4,297.3L496.9,293.2L497.6,291.5L503.4,290.8L504.6,286.7M544.0,288.8L543.9,292.1L543.4,295.4M523.8,310.6L519.6,309.6L515.5,306.7L514.6,305.0L510.5,303.2M510.5,303.2L511.2,299.8L509.0,295.0L506.2,292.4L504.6,286.7M396.6,385.2L398.1,388.7L396.8,394.2L394.5,397.9L393.2,402.2M396.6,385.2L393.7,383.2L390.9,379.7L386.4,374.6L383.8,373.4M383.8,373.4L379.6,374.8L373.4,377.1L371.6,377.3L367.6,379.5M367.6,379.5L369.4,383.9L370.4,387.1L370.8,392.2L371.5,394.1L372.4,396.4L371.1,398.3L374.5,403.6M374.5,403.6L378.9,402.4L383.8,402.0L385.0,400.0L391.0,402.6L393.2,402.2M399.1,408.8L396.4,407.6L393.2,402.2M418.2,379.6L417.8,379.2L414.6,377.7M414.6,377.7L412.6,378.2L407.5,381.5L402.5,382.1L398.5,383.1L396.6,385.2M423.9,403.6L422.9,397.8L423.9,396.5L420.4,392.7L421.0,388.9L419.4,386.0L419.6,382.3L418.2,379.6M358.0,376.1L362.8,376.6L367.6,379.5M364.2,414.1L362.7,412.7L356.5,410.8M364.2,414.1L366.0,410.3L369.9,409.6L370.4,405.5L374.5,403.6M368.0,432.5L368.1,428.3L366.0,424.6L364.4,421.5L365.2,416.4L364.2,414.1M383.8,373.4L384.1,371.1L384.7,368.0L385.9,361.8L386.4,358.4L388.1,355.2M414.6,377.7L414.8,373.8L414.4,369.5L411.3,365.8L412.2,361.9L409.5,361.1L410.1,356.3M388.1,355.2L392.6,355.5L393.8,355.2L397.4,354.5L404.9,356.6L405.0,354.6L410.1,356.3M441.1,354.2L441.9,355.9L443.2,357.1M438.0,373.9L438.8,370.5L440.0,367.7L440.2,365.2L444.1,360.8L443.2,357.1M438.0,373.9L433.9,374.3L428.9,376.9L427.3,376.3L422.1,378.7L418.2,379.6M441.1,354.2L437.4,353.2L436.0,353.8L429.9,352.2L428.4,353.2L423.2,350.9L418.0,350.0L415.9,349.7M415.9,349.7L412.8,353.4L410.1,356.3M572.0,308.3L568.0,310.2L563.6,311.0L560.0,313.6M572.0,308.3L575.9,312.3L575.4,313.7L577.6,316.6L580.2,322.1L583.1,323.2L585.0,327.1M560.0,313.6L561.8,315.6L561.9,319.1L565.5,324.1L568.8,326.7L566.5,331.9L569.1,334.8M569.1,334.8L573.4,334.6L575.9,334.3L580.3,333.2M580.3,333.2L582.1,329.7L585.0,327.1M583.0,291.3L581.7,294.0L579.0,300.1L576.7,300.7L572.9,305.0L572.0,308.3M553.6,312.3L557.6,311.4L560.0,313.6M591.0,324.7L588.2,326.5L585.0,327.1M558.9,345.0L555.1,343.6L552.3,339.9L548.3,338.0L546.1,334.5L543.5,332.7L540.1,331.7M558.9,345.0L561.4,342.3L564.4,341.2L567.6,337.5L569.1,334.8M558.9,345.0L558.0,347.9L559.0,348.2M591.0,354.3L590.0,352.4L586.1,346.8L589.5,344.6L583.8,340.7L579.4,338.3L580.3,333.2M462.4,358.4L457.5,358.7L455.1,357.4L450.8,356.3L445.6,358.3L443.2,357.1M462.4,358.4L464.7,354.3L468.9,351.5L469.9,349.0L471.9,345.8M444.2,331.7L447.7,328.9L451.1,326.9L454.4,325.9M444.2,331.7L443.9,334.3L443.5,339.6L444.5,342.1L443.0,346.6L442.2,350.2L441.1,354.2M454.4,325.9L457.7,326.9L461.1,329.5L464.0,331.5L467.5,331.7M471.9,345.8L470.7,342.4L469.0,338.2L468.7,336.1L467.5,331.7M481.0,308.1L482.7,314.1L484.3,317.9M454.1,313.9L455.1,318.2L454.1,322.2L454.4,325.9M471.9,301.1L470.4,302.3L465.8,305.9L463.1,306.5L461.1,309.6L456.1,313.7L454.1,313.9M467.5,331.7L470.9,328.7L473.1,327.0L475.0,326.0L478.9,322.3L480.9,319.9L484.3,317.9M526.4,328.3L520.6,328.6L517.3,329.3L514.8,330.5L512.3,331.8L509.1,332.2L505.1,332.6L500.9,332.0M510.5,303.2L508.5,304.0L505.6,308.9L503.7,313.0L499.6,316.1L495.6,319.5L495.3,322.4M500.9,332.0L499.3,327.4L497.8,326.2L495.3,322.4M495.3,322.4L492.1,322.0L487.4,319.6L484.3,317.9M427.1,405.7L429.7,406.2L433.2,404.9M438.0,373.9L440.2,376.2L443.0,379.5L447.0,384.0L447.6,386.3M447.6,386.3L445.8,389.7L443.1,392.2L442.4,395.9L436.7,398.2L433.2,402.6L433.2,404.9M445.8,433.3L447.0,430.7L448.0,425.5L448.6,422.8L449.8,418.6L449.0,414.8M433.2,404.9L436.1,407.5L440.1,410.3L443.9,411.6L444.8,413.5L449.0,414.8M381.1,346.0L380.7,341.9L381.3,338.6L381.5,334.2L383.2,330.4M381.1,346.0L378.2,346.8L374.8,348.8L370.4,347.5L367.8,351.1L363.6,351.7L359.9,352.5M383.2,330.4L379.8,328.6L374.8,329.9L372.6,326.5L367.8,323.0L363.1,324.2L362.1,321.1L356.4,323.9L353.3,320.7M359.9,352.5L357.2,350.5L355.7,345.9L353.9,342.5L349.1,344.6L346.8,339.4L344.7,335.9M344.7,335.9L347.6,333.9L349.9,329.9L350.7,326.0L353.3,320.7M354.6,369.7L357.1,366.9L356.9,362.2L357.7,359.9L359.6,355.4L359.9,352.5M388.1,355.2L385.8,352.0L381.1,347.5L381.1,346.0M329.2,340.2L333.2,338.9L334.9,339.4L340.5,337.6L344.7,335.9M470.3,294.5L467.6,294.4L464.9,292.8L458.6,295.7L455.2,294.4L450.0,296.1L446.1,295.5L444.5,296.0L440.6,295.2M454.1,313.9L449.5,311.7L448.0,308.0L444.4,304.8L442.1,301.6L439.9,298.7M440.6,295.2L440.8,296.6L439.9,298.7M389.5,323.8L392.4,325.2L396.4,327.0L401.2,326.0L403.8,328.5L406.9,328.4L411.8,330.3L414.6,330.9M389.5,323.8L388.7,321.2L388.5,314.9L389.8,309.9L389.7,308.3M389.7,308.3L393.0,305.7L394.4,302.5L396.0,299.6L398.8,298.8L401.4,293.4M401.4,293.4L402.8,294.6L408.6,296.1L409.4,300.6L414.4,300.7L417.2,303.4L420.3,306.3L421.3,308.6L424.5,310.0M424.5,310.0L425.4,313.8L422.2,317.5L423.8,322.9M423.8,322.9L420.4,324.3L417.6,328.5L414.6,330.9M415.9,349.7L414.7,346.0L415.4,340.9L414.2,337.5L415.3,335.1L414.6,330.9M383.2,330.4L386.7,327.8L389.5,323.8M439.9,298.7L436.9,301.6L433.6,303.4L429.2,304.8L427.7,306.5L424.5,310.0M439.3,283.7L438.7,288.9L437.3,290.9L440.6,295.2M401.7,281.6L401.5,285.5L401.4,289.5L401.4,293.4M444.2,331.7L440.4,329.8L435.7,326.7L432.5,327.4L429.8,325.3L429.9,325.3L423.8,322.9M353.2,280.0L354.2,284.1L354.3,286.4L353.8,288.9L352.9,294.4M307.0,276.0L307.6,280.4L306.8,283.2L306.7,287.4L308.0,292.5L308.1,296.8L307.2,300.3M307.2,300.3L310.9,302.2L313.3,306.0L317.9,308.8M317.9,308.8L319.6,308.5L325.2,306.6L328.4,305.0L333.1,304.1L334.0,304.0L338.4,303.0L344.1,302.0L346.3,303.4L349.8,300.4M349.8,300.4L353.5,296.6L352.9,294.4M389.7,308.3L384.7,307.2L383.6,304.6L380.3,303.8L375.2,300.5L373.9,302.6L369.2,300.2L364.8,299.8L362.8,298.6L359.7,295.4L354.6,296.0L352.9,294.4M291.5,308.0L295.2,306.4L298.2,304.2L300.8,303.7L305.8,302.5L307.2,300.3M318.6,329.9L318.3,326.6L319.2,323.4L318.3,319.2L319.4,314.9L318.0,313.6L317.9,308.8M353.3,320.7L353.7,315.0L351.8,312.8L352.0,308.9L352.4,305.5L349.8,300.4M492.7,372.2L493.7,373.9L495.2,376.2M492.7,372.2L492.7,367.7L495.7,364.1L492.8,360.5L494.5,357.3L495.2,352.6L496.2,350.2M495.2,376.2L500.8,374.3L502.6,377.3L508.4,378.2L509.1,375.4L514.4,377.2L517.8,377.2L523.1,377.1M496.2,350.2L496.2,349.6L496.3,350.1M496.3,350.1L501.6,352.5L502.6,352.1L507.4,351.6L511.6,354.1L513.6,354.5L519.0,355.1L521.0,357.8L525.5,357.1M523.1,377.1L523.6,373.2L527.7,369.9L530.4,366.7M530.4,366.7L529.7,364.8L525.2,362.5L525.5,357.1M469.2,372.9L466.2,370.3L466.7,365.6L463.9,362.4L462.4,358.4M469.2,372.9L473.1,371.4L477.4,373.2L482.3,371.9L485.2,374.5L488.4,371.9L492.7,372.2M471.9,345.8L474.5,347.3L478.4,346.0L482.0,347.5L486.1,349.2L491.0,347.7L492.4,347.7L496.2,350.2M500.9,332.0L498.9,334.1L499.7,341.1L497.0,344.5L497.1,345.0L496.3,350.1M531.6,332.6L532.3,335.8L530.4,340.2L528.0,341.2L526.3,346.2L527.5,348.2L525.5,355.1L525.5,357.1M544.7,368.0L539.5,367.9L536.0,368.6L533.0,367.3L530.4,366.7M523.8,391.4L524.1,387.7L525.0,384.5L524.0,381.1L523.1,377.1M541.6,405.9L539.2,403.7L536.4,401.3L532.1,398.5L530.1,393.9L528.1,393.2L523.8,391.4M523.8,391.4L520.1,395.1L518.1,397.2L513.1,398.0L511.4,402.1L507.0,402.9M493.7,389.7L494.8,393.2L500.0,399.3L502.0,399.0L504.6,402.3M493.7,389.7L493.4,383.0L495.0,380.0L495.2,376.2M507.0,402.9L504.9,404.3L504.6,402.3M525.8,420.5L522.2,418.5L521.3,418.1L516.6,417.5L512.7,415.0M507.0,402.9L509.2,406.5L512.1,409.1L512.7,415.0M478.7,397.3L480.1,399.7L477.7,403.3L480.8,408.7L478.8,411.8M478.7,397.3L474.9,394.1L474.3,391.9L469.3,390.9L465.3,389.5L462.6,387.6M462.6,387.6L460.6,387.1L460.8,388.4M460.8,388.4L462.1,391.5L458.5,397.2L458.2,400.1L459.3,403.8L457.3,408.7L457.0,411.6M457.0,411.6L459.2,412.5L463.8,415.5L468.9,417.1M468.9,417.1L470.7,414.9L476.1,414.0L478.8,411.8M493.7,389.7L491.3,392.5L487.1,394.6L485.2,395.7L478.7,397.3M504.6,402.3L501.5,403.5L499.7,406.7L495.1,408.6L492.4,413.5L490.6,414.3L488.2,416.6M488.2,416.6L483.7,416.1L478.8,411.8M469.2,372.9L467.3,378.7L464.6,380.1L462.2,382.6L462.6,387.6M447.6,386.3L451.3,386.5L456.0,388.9L460.8,388.4M449.0,414.8L453.3,413.0L457.0,411.6M503.5,426.3L498.3,424.2L495.8,422.9L490.5,422.7M503.5,426.3L504.8,429.6L507.1,434.9L507.1,438.3L508.8,441.4M490.5,422.7L490.4,426.9L487.1,429.1L486.3,433.7L484.1,436.9M512.7,415.0L511.0,418.6L509.2,421.4L504.7,422.4L503.5,426.3M488.2,416.6L490.2,422.0L490.5,422.7M526.0,424.4L522.1,428.3L521.2,427.9L518.7,433.5L515.6,435.6L511.8,437.5L508.9,441.5M468.9,417.1L468.2,421.8L469.7,422.0L469.1,429.1L467.9,431.5L468.4,435.4"/>
<path fill="none" stroke="#a2a2a2" stroke-width="2.6" stroke-linejoin="round" d="M241.0,319.0L246.7,317.4L252.0,315.0L256.3,314.7L260.1,312.7L264.0,311.0L264.9,306.1L269.7,303.6L271.0,299.0L271.1,294.4L270.0,290.0L270.3,285.8L272.7,282.2L273.0,278.0L277.6,277.7L282.1,276.9L286.5,275.8L291.0,275.0L295.4,276.0L299.9,274.6L304.3,275.6L308.8,275.5L313.1,277.2L317.6,276.8L322.0,277.0L326.3,277.1L330.7,276.8L334.9,278.0L339.1,278.7L343.5,278.8L347.5,281.2L352.0,280.0L356.4,281.5L361.0,276.8L365.4,278.0L369.7,280.3L374.2,280.2L378.6,281.1L383.0,281.0L387.4,281.4L391.8,284.0L396.3,280.0L400.7,281.1L405.1,284.4L409.5,282.7L414.0,282.0L418.2,283.1L422.6,281.9L427.0,280.7L431.1,283.4L435.4,283.6L439.8,282.1L444.0,284.0L448.5,283.4L452.9,284.5L457.4,283.6L461.7,285.0L466.1,285.6L470.6,285.8L475.0,286.0L479.2,285.3L483.3,286.8L487.5,287.2L491.7,286.4L495.8,284.9L500.0,286.0L504.1,287.3L508.4,286.0L512.4,288.1L516.8,285.9L520.7,288.9L525.0,288.0L529.2,288.1L533.4,286.7L537.5,288.1L541.7,288.7L545.8,289.2L550.0,289.0L554.3,288.1L558.4,288.2L562.5,290.3L566.7,289.7L570.8,291.0L575.0,291.0L579.1,292.2L583.4,289.2L587.5,291.8L591.6,293.3L595.8,291.4L600.0,292.0L604.3,291.3L608.3,293.6L612.5,293.3L616.6,294.5L620.9,293.2L625.0,294.0L629.5,292.9L633.4,295.5L637.6,295.9L641.5,298.3L645.8,298.4L650.0,299.0L654.9,298.5L658.9,300.5L662.1,304.6L666.4,305.8L671.1,305.7L675.0,308.0L679.2,309.2L683.2,310.9L687.3,312.1L691.4,313.8L695.7,314.2L700.0,315.0L705.0,314.5L710.0,314.0L715.0,314.0L719.0,318.0L718.0,325.0L717.3,329.2L722.2,332.5L720.0,337.0L721.8,341.3L723.3,345.7L725.0,350.0L727.0,355.0L724.6,359.0L720.0,360.0L715.9,360.6L712.0,362.0L708.2,363.8L703.7,362.9L700.0,365.0L696.1,367.5L691.6,368.9L688.0,372.0L682.9,374.9L680.0,380.0L676.9,383.7L675.6,388.6L672.0,392.0L671.4,397.3L665.3,399.6L665.0,405.0L663.1,408.8L661.8,412.9L658.8,416.2L657.0,420.0L653.1,422.5L648.4,423.7L645.0,427.0L640.0,428.3L635.0,429.6L630.0,431.0L626.1,432.4L621.9,431.4L618.2,433.8L614.0,433.0L609.5,432.7L604.9,432.2L601.1,436.8L596.8,438.6L592.0,436.0L587.7,435.8L583.1,433.9L579.6,439.1L575.4,440.0L571.0,439.0L566.7,439.0L562.8,441.7L558.5,442.0L554.3,442.6L550.0,443.0L545.5,442.9L541.3,444.7L536.8,444.4L532.4,445.6L528.0,446.0L523.5,446.1L519.5,444.4L515.1,444.2L511.2,442.0L507.0,441.0L502.3,441.6L497.9,440.8L494.1,436.7L489.4,437.9L485.0,437.0L480.8,436.7L476.7,435.5L472.3,436.3L468.2,435.7L464.0,435.0L459.9,434.0L455.6,433.8L451.3,435.3L447.3,432.3L443.0,433.0L438.3,433.4L433.7,433.6L429.1,433.0L424.6,431.9L420.0,431.0L416.0,428.9L412.0,432.5L408.0,430.8L404.0,433.8L400.0,431.0L395.6,431.2L391.1,430.2L386.8,431.9L382.4,432.6L378.0,432.0L373.8,431.9L369.6,431.5L365.4,431.7L361.1,430.2L357.0,433.0L352.6,433.3L348.3,435.0L343.8,435.0L339.4,435.5L335.0,436.0L330.8,436.5L326.6,437.2L322.4,437.6L318.5,440.6L314.0,439.0L310.0,438.1L306.0,440.1L302.1,441.0L298.0,438.8L293.9,438.1L290.0,440.0L285.2,440.6L280.7,442.2L276.5,444.8L270.7,441.2L267.0,446.0L264.0,440.0L265.1,435.7L262.5,431.3L264.0,427.0L264.0,421.8L266.1,417.0L267.0,412.0L264.3,407.3L265.9,402.0L265.0,397.0L263.4,392.1L264.6,386.7L262.0,382.0L263.7,378.2L259.5,373.6L263.6,370.0L264.0,366.0L261.4,361.7L264.4,356.8L262.7,352.5L262.0,348.0L261.3,343.8L258.0,340.4L258.0,336.0L256.3,331.0L253.2,327.5L248.0,326.0L243.5,323.5ZM731.0,391.0L735.2,388.4L740.0,387.0L743.7,384.7L747.9,384.1L752.0,383.0L756.2,382.5L760.5,382.2L764.5,380.6L768.6,379.2L772.7,378.2L777.0,378.0L781.1,378.8L785.3,379.6L789.5,378.7L793.7,377.7L797.9,378.1L802.0,379.0L806.7,381.3L812.0,381.2L817.0,382.0L815.0,387.0L810.3,389.4L805.0,389.0L801.0,389.7L797.1,391.1L793.1,391.3L789.1,391.8L785.0,392.0L780.7,393.8L775.9,394.1L771.5,395.8L767.0,397.0L762.8,398.2L758.4,398.2L754.1,398.6L750.0,400.0L745.1,400.6L740.6,398.9L736.0,398.0L732.9,395.0ZM790.0,327.0L795.2,326.3L800.0,324.0L803.8,326.1L808.3,323.3L812.0,326.0L816.4,327.2L820.4,329.4L825.0,330.0L832.0,332.0L828.0,333.1L825.0,336.0L820.7,335.1L816.4,334.1L812.0,335.0L806.9,336.8L802.0,339.0L798.7,336.6L795.0,335.0L792.6,330.9ZM885.0,320.0L890.0,318.0L895.0,316.0L900.0,315.9L905.0,315.1L910.0,315.0L914.9,313.3L919.9,312.6L925.0,312.0L930.2,312.7L935.0,315.0L937.5,318.5L940.0,322.0L934.7,322.5L930.0,325.0L925.0,325.7L920.0,326.2L915.0,326.0L910.0,325.9L905.0,326.4L900.0,327.0L895.0,325.9L890.0,325.0ZM952.0,320.0L956.0,317.6L960.4,317.0L965.0,317.0L970.2,316.9L975.1,318.7L980.0,320.0L985.8,320.8L990.0,325.0L987.6,328.6L985.0,332.0L979.9,332.4L975.0,330.6L970.0,331.0L965.9,328.9L961.7,327.3L957.0,327.0L955.0,323.1ZM990.0,305.0L993.0,300.6L997.0,297.0L1001.5,296.4L1005.8,294.2L1010.6,295.3L1015.0,294.0L1019.5,292.5L1022.8,289.0L1027.0,287.0L1031.1,285.8L1035.0,284.0L1035.5,288.4L1036.6,292.6L1037.0,297.0L1032.1,298.7L1027.3,300.6L1022.0,300.0L1017.6,299.4L1013.5,301.0L1009.0,299.5L1005.0,302.0L999.9,302.4L995.0,303.8ZM1015.0,322.0L1020.0,320.0L1023.0,325.0L1017.0,327.0ZM1060.0,297.0L1062.4,293.0L1065.6,289.5L1067.0,285.0L1070.3,281.5L1072.0,277.0L1076.5,276.3L1081.0,276.3L1085.5,275.8L1090.0,276.0L1092.0,280.0L1086.9,281.2L1082.0,283.4L1077.0,285.0L1074.2,288.0L1073.5,292.5L1070.0,295.0L1064.8,294.8ZM178.0,313.0L182.0,312.0L184.0,315.0L180.0,317.0ZM1069.0,210.0L1073.2,211.0L1077.0,209.0L1081.5,206.5L1086.0,209.8L1090.5,209.1L1095.0,209.0L1099.7,211.5L1105.0,212.0L1106.7,216.1L1109.0,220.0L1104.7,218.0L1100.0,219.0L1095.0,217.0L1090.0,215.0L1085.6,215.1L1081.4,213.9L1077.0,214.0L1070.0,212.0ZM927.0,517.0L928.1,512.9L927.2,508.6L927.3,504.4L926.7,500.1L929.2,496.1L930.0,492.0L935.2,492.0L940.0,490.0L945.0,489.0L950.1,488.4L955.0,487.0L960.1,487.3L965.0,486.0L970.3,487.3L975.0,490.0L979.1,494.4L985.0,495.0L990.0,494.0L995.0,494.6L1000.0,494.0L1004.4,495.5L1008.0,492.6L1012.0,492.0L1016.3,493.1L1020.8,493.6L1025.0,495.0L1019.9,496.4L1015.5,499.9L1010.0,500.0L1005.2,502.2L999.6,502.0L995.0,505.0L990.0,506.2L985.0,507.9L980.0,509.0L976.0,509.3L972.0,509.9L968.0,510.7L963.9,510.9L960.0,512.0L956.3,514.1L951.9,513.1L948.1,514.9L943.9,514.6L940.0,516.0L935.7,516.4L931.4,517.5Z"/>
<path fill="none" stroke="#000" stroke-width="1.2" d="M106.6,67.7L120.3,58.1M120.3,58.1L125.8,62.4M124.0,67.7L137.7,58.2M137.7,58.2L143.3,62.5M141.4,67.7L155.5,58.7M155.5,58.7L160.9,63.2M158.8,67.7L172.6,58.2M172.6,58.2L178.1,62.6M176.2,67.7L190.0,58.3M190.0,58.3L195.5,62.6M193.6,67.7L209.3,61.9M209.3,61.9L213.6,67.4M211.1,67.7L226.9,62.3M226.9,62.3L231.0,67.9M228.5,67.7L245.2,67.2M245.2,67.2L247.4,73.9M245.9,67.7L262.6,67.7M262.6,67.7L264.7,74.3M263.3,67.7L280.0,67.9M280.0,67.9L282.0,74.6M280.7,67.7L297.3,69.2M297.3,69.2L298.8,76.0M298.1,67.7L314.7,69.2M314.7,69.2L316.2,76.0M315.5,67.7L332.1,69.8M332.1,69.8L333.3,76.7M332.9,67.7L349.0,72.2M349.0,72.2L349.2,79.2M350.3,67.7L366.5,72.1M366.5,72.1L366.7,79.0M367.8,67.7L383.6,73.0M383.6,73.0L383.4,80.0M385.2,67.7L400.6,74.2M400.6,74.2L399.9,81.1M402.6,67.7L418.0,74.0M418.0,74.0L417.5,81.0M420.0,67.7L435.1,74.7M435.1,74.7L434.2,81.6M437.4,67.7L452.8,74.1M452.8,74.1L452.1,81.1M454.8,67.7L470.3,74.0M470.3,74.0L469.7,80.9M472.2,67.7L487.2,75.0M487.2,75.0L486.2,82.0M489.6,67.7L503.3,77.2M503.3,77.2L501.2,83.9M507.0,67.7L520.9,77.1M520.9,77.1L518.8,83.8M524.4,67.7L539.9,74.0M539.9,74.0L539.3,81.0M541.9,67.7L557.7,72.9M557.7,72.9L557.6,79.9M555.7,72.2L555.7,75.7M559.3,67.7L575.1,72.9M575.1,72.9L575.0,79.9M576.7,67.7L592.6,72.8M592.6,72.8L592.5,79.8M590.6,72.1L590.6,75.6M594.1,67.7L610.1,72.6M610.1,72.6L610.1,79.6M608.1,72.0L608.1,75.5M611.5,67.7L627.4,72.6M627.4,72.6L627.5,79.6M628.9,67.7L644.8,72.8M644.8,72.8L644.7,79.8M646.3,67.7L662.3,72.6M662.3,72.6L662.3,79.6M663.7,67.7L679.7,72.6M679.7,72.6L679.7,79.6M681.1,67.7L697.1,72.6M697.1,72.6L697.1,79.6M695.1,72.0L695.1,75.5M698.5,67.7L714.5,72.7M714.5,72.7L714.5,79.7M716.0,67.7L731.9,72.6M731.9,72.6L732.0,79.6M733.4,67.7L749.3,72.6M749.3,72.6L749.4,79.6M747.3,72.0L747.4,75.5M750.8,67.7L766.7,72.6M766.7,72.6L766.8,79.6M768.2,67.7L784.1,72.7M784.1,72.7L784.1,79.7M782.1,72.1L782.1,75.6M785.6,67.7L801.6,72.6M801.6,72.6L801.6,79.6M803.0,67.7L819.0,72.6M819.0,72.6L819.0,79.6M820.4,67.7L836.4,72.6M836.4,72.6L836.4,79.6M837.8,67.7L853.7,72.9M853.7,72.9L853.6,79.9M855.2,67.7L871.2,72.6M871.2,72.6L871.2,79.6M872.6,67.7L888.6,72.6M888.6,72.6L888.7,79.6M886.6,72.0L886.6,75.5M890.1,67.7L906.0,72.6M906.0,72.6L906.0,79.6M904.0,72.0L904.0,75.5M907.5,67.7L923.3,72.9M923.3,72.9L923.3,79.9M924.9,67.7L940.8,72.6M940.8,72.6L940.9,79.6M942.3,67.7L958.3,72.6M958.3,72.6L958.3,79.6M959.7,67.7L975.7,72.6M975.7,72.6L975.7,79.6M973.7,72.0L973.7,75.5M977.1,67.7L993.0,72.7M993.0,72.7L993.0,79.7M994.5,67.7L1010.5,72.6M1010.5,72.6L1010.5,79.6M1008.5,72.0L1008.5,75.5M1011.9,67.7L1027.9,72.6M1027.9,72.6L1027.9,79.6M1029.3,67.7L1045.3,72.6M1045.3,72.6L1045.3,79.6M1046.7,67.7L1062.7,72.6M1062.7,72.6L1062.7,79.6M1060.7,72.0L1060.7,75.5M1064.1,67.7L1080.1,72.6M1080.1,72.6L1080.2,79.6M1078.1,72.0L1078.1,75.5M1081.6,67.7L1097.5,72.6M1097.5,72.6L1097.6,79.6M1099.0,67.7L1114.9,72.6M1114.9,72.6L1115.0,79.6M1116.4,67.7L1132.3,72.6M1132.3,72.6L1132.4,79.6M1133.8,67.7L1149.8,72.6M1149.8,72.6L1149.8,79.6M1151.2,67.7L1167.2,72.6M1167.2,72.6L1167.2,79.6M1168.6,67.7L1184.6,72.6M1184.6,72.6L1184.6,79.6M1182.6,72.0L1182.6,75.5M1186.0,67.7L1202.0,72.6M1202.0,72.6L1202.0,79.6M1203.4,67.7L1219.4,72.6M1219.4,72.6L1219.4,79.6M1220.8,67.7L1236.8,72.6M1236.8,72.6L1236.9,79.6M1234.8,72.0L1234.8,75.5M1238.2,67.7L1254.2,72.6M1254.2,72.6L1254.3,79.6M1255.7,67.7L1271.6,72.6M1271.6,72.6L1271.6,79.6M106.6,85.0L120.3,75.5M120.3,75.5L125.8,79.8M124.0,85.0L137.8,75.6M137.8,75.6L143.3,80.0M141.4,85.0L155.6,76.2M152.9,77.8L155.6,80.1M158.8,85.0L172.7,75.7M172.7,75.7L178.2,80.1M176.2,85.0L190.2,75.8M190.2,75.8L195.6,80.3M193.6,85.0L209.4,79.4M209.4,79.4L213.6,84.9M211.1,85.0L227.2,80.6M227.2,80.6L230.9,86.5M228.5,85.0L245.1,83.9M245.1,83.9L247.7,90.4M245.9,85.0L262.6,84.9M262.6,84.9L264.7,91.6M263.3,85.0L280.0,85.1M280.0,85.1L282.0,91.8M280.7,85.0L297.4,86.3M297.4,86.3L298.9,93.1M298.1,85.0L314.8,86.4M314.8,86.4L316.3,93.2M315.5,85.0L332.0,87.6M332.0,87.6L333.0,94.5M332.9,85.0L349.0,89.4M349.0,89.4L349.3,96.4M350.3,85.0L366.4,89.6M366.4,89.6L366.6,96.6M367.8,85.0L383.4,90.9M383.4,90.9L382.9,97.9M385.2,85.0L400.6,91.4M400.6,91.4L400.0,98.4M402.6,85.0L418.0,91.5M418.0,91.5L417.3,98.4M420.0,85.0L434.6,93.1M434.6,93.1L433.2,99.9M437.4,85.0L452.3,92.5M452.3,92.5L451.1,99.4M454.8,85.0L469.9,92.1M469.9,92.1L469.0,99.0M472.2,85.0L486.3,93.9M486.3,93.9L484.5,100.7M489.6,85.0L502.7,95.4M502.7,95.4L500.2,101.9M507.0,85.0L519.4,96.3M519.4,96.3L516.4,102.6M524.4,85.0L539.3,92.7M539.3,92.7L538.0,99.6M537.4,91.7L536.8,95.2M541.9,85.0L557.4,91.1M557.4,91.1L556.9,98.1M559.3,85.0L574.8,91.0M574.8,91.0L574.4,98.0M576.7,85.0L592.4,90.6M592.4,90.6L592.1,97.6M590.4,89.9L590.3,93.4M594.1,85.0L610.0,90.0M610.0,90.0L610.0,97.0M608.0,89.4L608.0,92.9M611.5,85.0L627.4,90.1M627.4,90.1L627.3,97.1M625.4,89.5L625.4,93.0M628.9,85.0L644.8,90.2M644.8,90.2L644.6,97.2M642.8,89.6L642.7,93.1M646.3,85.0L662.3,90.0M662.3,90.0L662.3,97.0M663.7,85.0L679.7,89.9M679.7,89.9L679.7,96.9M677.7,89.3L677.7,92.8M681.1,85.0L697.1,89.9M697.1,89.9L697.1,96.9M698.5,85.0L714.5,90.0M714.5,90.0L714.5,97.0M716.0,85.0L731.9,89.9M731.9,89.9L731.9,96.9M729.9,89.3L729.9,92.8M733.4,85.0L749.3,89.9M749.3,89.9L749.4,96.9M747.3,89.3L747.3,92.8M750.8,85.0L766.7,89.9M766.7,89.9L766.7,96.9M764.7,89.3L764.7,92.8M768.2,85.0L784.1,90.1M784.1,90.1L784.1,97.1M785.6,85.0L801.5,90.0M801.5,90.0L801.5,97.0M803.0,85.0L819.0,89.9M819.0,89.9L819.0,96.9M820.4,85.0L836.3,90.0M836.3,90.0L836.3,97.0M834.3,89.4L834.3,92.9M837.8,85.0L853.6,90.6M853.6,90.6L853.3,97.6M855.2,85.0L871.0,90.5M871.0,90.5L870.8,97.4M872.6,85.0L888.5,90.1M888.5,90.1L888.5,97.1M890.1,85.0L905.8,90.5M905.8,90.5L905.6,97.5M907.5,85.0L923.2,90.6M923.2,90.6L922.9,97.6M921.2,89.9L921.1,93.4M924.9,85.0L940.8,90.0M940.8,90.0L940.8,97.0M938.8,89.4L938.8,92.9M942.3,85.0L958.2,89.9M958.2,89.9L958.3,96.9M959.7,85.0L975.6,90.0M975.6,90.0L975.6,97.0M977.1,85.0L993.0,90.0M993.0,90.0L993.0,97.0M994.5,85.0L1010.5,89.9M1010.5,89.9L1010.5,96.9M1008.5,89.3L1008.5,92.8M1011.9,85.0L1027.9,89.9M1027.9,89.9L1027.9,96.9M1029.3,85.0L1045.3,89.9M1045.3,89.9L1045.3,96.9M1046.7,85.0L1062.7,90.0M1062.7,90.0L1062.7,97.0M1064.1,85.0L1080.1,89.9M1080.1,89.9L1080.1,96.9M1078.1,89.3L1078.1,92.8M1081.6,85.0L1097.5,89.9M1097.5,89.9L1097.6,96.9M1095.5,89.3L1095.6,92.8M1099.0,85.0L1114.9,89.9M1114.9,89.9L1115.0,96.9M1116.4,85.0L1132.3,89.9M1132.3,89.9L1132.4,96.9M1130.3,89.3L1130.3,92.8M1133.8,85.0L1149.8,89.9M1149.8,89.9L1149.8,96.9M1151.2,85.0L1167.2,89.9M1167.2,89.9L1167.2,96.9M1168.6,85.0L1184.6,89.9M1184.6,89.9L1184.6,96.9M1186.0,85.0L1202.0,89.9M1202.0,89.9L1202.0,96.9M1203.4,85.0L1219.4,89.9M1219.4,89.9L1219.4,96.9M1217.4,89.3L1217.4,92.8M1220.8,85.0L1236.8,89.9M1236.8,89.9L1236.8,96.9M1238.2,85.0L1254.2,89.9M1254.2,89.9L1254.3,96.9M1255.7,85.0L1271.6,90.0M1271.6,90.0L1271.6,96.9M1269.6,89.3L1269.6,92.8M106.6,102.3L120.6,93.2M120.6,93.2L126.0,97.7M124.0,102.3L138.1,93.3M138.1,93.3L143.4,97.8M141.4,102.3L155.8,93.8M155.8,93.8L161.0,98.4M158.8,102.3L172.9,93.3M172.9,93.3L178.3,97.8M176.2,102.3L190.3,93.3M190.3,93.3L195.7,97.8M193.6,102.3L209.6,97.4M209.6,97.4L213.6,103.1M211.1,102.3L227.5,99.3M227.5,99.3L230.7,105.5M228.5,102.3L245.0,99.7M245.0,99.7L248.1,106.0M245.9,102.3L262.6,102.3M262.6,102.3L264.7,109.0M263.3,102.3L280.0,102.3M280.0,102.3L282.1,109.0M280.7,102.3L297.4,103.4M297.4,103.4L299.0,110.1M298.1,102.3L314.8,102.9M314.8,102.9L316.6,109.6M315.5,102.3L331.9,105.5M331.9,105.5L332.7,112.5M332.9,102.3L348.8,107.4M348.8,107.4L348.8,114.4M350.3,102.3L365.9,108.2M365.9,108.2L365.5,115.2M367.8,102.3L383.5,107.8M383.5,107.8L383.3,114.8M385.2,102.3L400.9,107.9M400.9,107.9L400.7,114.8M402.6,102.3L416.2,111.9M416.2,111.9L414.1,118.6M420.0,102.3L432.8,113.0M432.8,113.0L430.1,119.5M437.4,102.3L451.8,110.7M451.8,110.7L450.3,117.5M454.8,102.3L469.7,109.8M469.7,109.8L468.6,116.7M472.2,102.3L485.8,112.0M485.8,112.0L483.7,118.6M489.6,102.3L502.9,112.4M502.9,112.4L500.5,119.0M507.0,102.3L515.7,116.6M515.7,116.6L511.1,121.8M514.6,114.8L512.3,117.4M524.4,102.3L536.2,114.1M536.2,114.1L533.0,120.3M541.9,102.3L557.2,108.8M557.2,108.8L556.5,115.8M559.3,102.3L574.7,108.7M574.7,108.7L574.1,115.6M576.7,102.3L592.3,108.2M592.3,108.2L591.9,115.2M590.3,107.5L590.1,111.0M594.1,102.3L610.0,107.4M610.0,107.4L610.0,114.4M611.5,102.3L627.4,107.5M627.4,107.5L627.3,114.5M625.4,106.8L625.3,110.3M628.9,102.3L644.7,107.6M644.7,107.6L644.6,114.6M642.8,106.9L642.7,110.4M646.3,102.3L662.2,107.3M662.2,107.3L662.2,114.3M660.3,106.7L660.3,110.2M663.7,102.3L679.7,107.2M679.7,107.2L679.7,114.2M681.1,102.3L697.1,107.2M697.1,107.2L697.1,114.2M695.1,106.6L695.1,110.1M698.5,102.3L714.5,107.3M714.5,107.3L714.5,114.3M716.0,102.3L731.9,107.2M731.9,107.2L731.9,114.2M733.4,102.3L749.3,107.2M749.3,107.2L749.4,114.2M747.3,106.6L747.3,110.1M750.8,102.3L766.7,107.3M766.7,107.3L766.7,114.3M768.2,102.3L784.1,107.4M784.1,107.4L784.0,114.4M785.6,102.3L801.5,107.3M801.5,107.3L801.5,114.3M799.5,106.7L799.5,110.2M803.0,102.3L819.0,107.2M819.0,107.2L819.0,114.2M817.0,106.6L817.0,110.1M820.4,102.3L836.3,107.5M836.3,107.5L836.2,114.5M834.3,106.8L834.3,110.3M837.8,102.3L853.2,108.8M853.2,108.8L852.5,115.8M851.3,108.0L850.9,111.5M855.2,102.3L870.0,110.1M870.0,110.1L868.7,117.0M868.1,109.1L867.5,112.6M872.6,102.3L887.2,110.4M887.2,110.4L885.8,117.3M885.4,109.4L884.7,112.8M890.1,102.3L904.8,110.1M904.8,110.1L903.5,117.0M903.0,109.1L902.3,112.6M907.5,102.3L922.9,108.8M922.9,108.8L922.2,115.7M920.9,108.0L920.6,111.5M924.9,102.3L940.8,107.5M940.8,107.5L940.7,114.5M938.8,106.8L938.7,110.3M942.3,102.3L958.2,107.2M958.2,107.2L958.3,114.2M959.7,102.3L975.6,107.3M975.6,107.3L975.6,114.3M977.1,102.3L993.0,107.4M993.0,107.4L992.9,114.4M991.0,106.8L991.0,110.3M994.5,102.3L1010.5,107.3M1010.5,107.3L1010.5,114.3M1008.5,106.6L1008.5,110.1M1011.9,102.3L1027.9,107.2M1027.9,107.2L1027.9,114.2M1025.9,106.6L1025.9,110.1M1029.3,102.3L1045.3,107.2M1045.3,107.2L1045.3,114.2M1046.7,102.3L1062.7,107.3M1062.7,107.3L1062.7,114.3M1060.7,106.7L1060.7,110.2M1064.1,102.3L1080.1,107.2M1080.1,107.2L1080.1,114.2M1081.6,102.3L1097.5,107.2M1097.5,107.2L1097.6,114.2M1099.0,102.3L1114.9,107.2M1114.9,107.2L1115.0,114.2M1116.4,102.3L1132.3,107.3M1132.3,107.3L1132.3,114.3M1133.8,102.3L1149.8,107.2M1149.8,107.2L1149.8,114.2M1147.8,106.6L1147.8,110.1M1151.2,102.3L1167.2,107.2M1167.2,107.2L1167.2,114.2M1165.2,106.6L1165.2,110.1M1168.6,102.3L1184.6,107.2M1184.6,107.2L1184.6,114.2M1182.6,106.6L1182.6,110.1M1186.0,102.3L1202.0,107.3M1202.0,107.3L1202.0,114.3M1203.4,102.3L1219.4,107.2M1219.4,107.2L1219.4,114.2M1217.4,106.6L1217.4,110.1M1220.8,102.3L1236.8,107.2M1236.8,107.2L1236.8,114.2M1238.2,102.3L1254.2,107.2M1254.2,107.2L1254.2,114.2M1252.2,106.6L1252.2,110.1M1255.7,102.3L1271.6,107.3M1271.6,107.3L1271.6,114.3M106.6,119.6L120.7,110.6M120.7,110.6L126.0,115.1M124.0,119.6L138.3,110.9M138.3,110.9L143.5,115.5M141.4,119.6L155.9,111.3M153.2,112.9L155.8,115.2M158.8,119.6L173.2,111.2M170.5,112.8L173.1,115.1M176.2,119.6L190.7,111.2M190.7,111.2L195.8,115.9M193.6,119.6L208.8,112.5M205.9,113.9L208.3,116.5M211.1,119.6L227.1,115.0M227.1,115.0L231.0,120.9M228.5,119.6L244.9,116.7M244.9,116.7L248.1,122.9M245.9,119.6L262.6,119.1M262.6,119.1L264.9,125.7M263.3,119.6L280.0,119.8M280.0,119.8L282.0,126.5M280.7,119.6L297.3,121.4M297.3,121.4L298.6,128.3M298.1,119.6L314.6,122.0M314.6,122.0L315.7,128.9M315.5,119.6L331.1,125.5M331.1,125.5L330.7,132.5M332.9,119.6L348.9,124.5M348.9,124.5L348.9,131.5M350.3,119.6L365.2,127.2M365.2,127.2L364.0,134.1M367.8,119.6L380.5,130.3M380.5,130.3L377.8,136.8M385.2,119.6L396.8,131.6M396.8,131.6L393.4,137.8M402.6,119.6L413.3,132.4M413.3,132.4L409.5,138.3M420.0,119.6L428.7,133.9M428.7,133.9L424.0,139.1M437.4,119.6L436.8,136.3M436.8,136.3L430.0,138.1M436.9,134.2L430.1,136.0M454.8,119.6L460.2,135.4M460.2,135.4L454.5,139.5M459.5,133.4L456.7,135.5M472.2,119.6L481.1,133.7M481.1,133.7L476.6,139.1M489.6,119.6L488.5,136.3M488.5,136.3L481.7,137.9M488.6,134.2L481.8,135.8M507.0,119.6L508.8,136.2M508.8,136.2L502.4,139.0M508.6,134.1L505.4,135.5M524.4,119.6L530.3,135.2M530.3,135.2L524.8,139.5M529.6,133.3L526.8,135.4M541.9,119.6L549.2,134.6M549.2,134.6L544.1,139.4M548.3,132.7L545.7,135.1M559.3,119.6L572.6,129.6M572.6,129.6L570.3,136.2M576.7,119.6L592.5,125.0M592.5,125.0L592.3,132.0M594.1,119.6L610.1,124.5M610.1,124.5L610.1,131.5M608.1,123.9L608.1,127.4M611.5,119.6L627.4,124.6M627.4,124.6L627.4,131.6M625.4,124.0L625.4,127.5M628.9,119.6L644.7,124.9M644.7,124.9L644.6,131.9M646.3,119.6L662.3,124.5M662.3,124.5L662.3,131.5M663.7,119.6L679.7,124.5M679.7,124.5L679.7,131.5M677.7,123.9L677.7,127.4M681.1,119.6L697.1,124.5M697.1,124.5L697.1,131.5M695.1,123.9L695.1,127.4M698.5,119.6L714.5,124.6M714.5,124.6L714.5,131.6M716.0,119.6L731.9,124.5M731.9,124.5L732.0,131.5M733.4,119.6L749.3,124.5M749.3,124.5L749.4,131.5M750.8,119.6L766.7,124.5M766.7,124.5L766.8,131.5M764.7,123.9L764.7,127.4M768.2,119.6L784.0,124.8M784.0,124.8L783.9,131.8M785.6,119.6L801.5,124.6M801.5,124.6L801.5,131.6M803.0,119.6L819.0,124.5M819.0,124.5L819.0,131.5M820.4,119.6L836.3,124.6M836.3,124.6L836.3,131.6M837.8,119.6L853.0,126.7M853.0,126.7L852.0,133.6M851.1,125.8L850.6,129.2M855.2,119.6L869.7,127.9M869.7,127.9L868.2,134.8M867.9,126.9L867.1,130.3M872.6,119.6L887.1,128.0M887.1,128.0L885.6,134.8M885.3,126.9L884.5,130.3M890.1,119.6L904.5,127.9M904.5,127.9L903.0,134.8M902.7,126.9L902.0,130.3M907.5,119.6L922.6,126.6M922.6,126.6L921.7,133.6M920.7,125.8L920.2,129.2M924.9,119.6L940.8,124.6M940.8,124.6L940.8,131.6M938.8,124.0L938.8,127.5M942.3,119.6L958.3,124.5M958.3,124.5L958.3,131.5M956.3,123.9L956.3,127.4M959.7,119.6L975.6,124.6M975.6,124.6L975.6,131.6M977.1,119.6L992.9,124.9M992.9,124.9L992.8,131.9M991.0,124.2L990.9,127.7M994.5,119.6L1010.5,124.5M1010.5,124.5L1010.5,131.5M1008.5,123.9L1008.5,127.4M1011.9,119.6L1027.9,124.5M1027.9,124.5L1027.9,131.5M1029.3,119.6L1045.3,124.5M1045.3,124.5L1045.3,131.5M1043.3,123.9L1043.3,127.4M1046.7,119.6L1062.7,124.6M1062.7,124.6L1062.7,131.6M1064.1,119.6L1080.1,124.5M1080.1,124.5L1080.2,131.5M1081.6,119.6L1097.5,124.5M1097.5,124.5L1097.6,131.5M1099.0,119.6L1114.9,124.5M1114.9,124.5L1115.0,131.5M1116.4,119.6L1132.3,124.6M1132.3,124.6L1132.3,131.6M1130.3,124.0L1130.3,127.5M1133.8,119.6L1149.8,124.5M1149.8,124.5L1149.8,131.5M1147.8,123.9L1147.8,127.4M1151.2,119.6L1167.2,124.5M1167.2,124.5L1167.2,131.5M1165.2,123.9L1165.2,127.4M1168.6,119.6L1184.6,124.5M1184.6,124.5L1184.6,131.5M1186.0,119.6L1202.0,124.6M1202.0,124.6L1202.0,131.6M1203.4,119.6L1219.4,124.5M1219.4,124.5L1219.4,131.5M1217.4,123.9L1217.4,127.4M1220.8,119.6L1236.8,124.5M1236.8,124.5L1236.9,131.5M1234.8,123.9L1234.8,127.4M1238.2,119.6L1254.2,124.5M1254.2,124.5L1254.3,131.5M1252.2,123.9L1252.2,127.4M1255.7,119.6L1271.6,124.6M1271.6,124.6L1271.6,131.6M1269.6,124.0L1269.6,127.5M106.6,136.9L120.6,127.8M120.6,127.8L126.0,132.3M124.0,136.9L138.3,128.2M135.6,129.9L138.2,132.2M141.4,136.9L155.9,128.6M153.2,130.1L155.7,132.5M158.8,136.9L173.3,128.6M170.6,130.1L173.2,132.5M176.2,136.9L190.7,128.6M188.0,130.1L190.6,132.5M193.6,136.9L208.1,128.6M205.4,130.1L208.0,132.5M211.1,136.9L227.2,132.8M227.2,132.8L230.9,138.8M228.5,136.9L244.8,133.5M244.8,133.5L248.2,139.6M245.9,136.9L262.6,136.9M262.6,136.9L264.7,143.6M263.3,136.9L280.0,137.0M280.0,137.0L282.0,143.7M280.7,136.9L297.3,138.9M297.3,138.9L298.6,145.8M298.1,136.9L314.7,138.4M314.7,138.4L316.2,145.2M315.5,136.9L330.3,144.7M330.3,144.7L329.0,151.6M332.9,136.9L343.4,149.9M343.4,149.9L339.6,155.7M350.3,136.9L356.4,152.5M356.4,152.5L350.9,156.8M367.8,136.9L370.2,153.4M370.2,153.4L363.9,156.5M385.2,136.9L387.0,153.5M387.0,153.5L380.6,156.3M402.6,136.9L409.6,152.0M409.6,152.0L404.5,156.7M408.8,150.1L406.2,152.5M420.0,136.9L426.5,152.3M426.5,152.3L421.1,156.8M425.7,150.4L423.0,152.6M437.4,136.9L436.9,153.6M436.9,153.6L430.1,155.5M436.9,151.5L433.6,152.4M454.8,136.9L455.8,153.6M455.8,153.6L449.2,156.0M455.7,151.5L452.4,152.7M472.2,136.9L473.5,153.5M473.5,153.5L467.0,156.2M473.3,151.5L470.1,152.8M489.6,136.9L488.5,153.6M488.5,153.6L481.7,155.2M488.7,151.5L481.9,153.1M507.0,136.9L508.5,153.5M508.5,153.5L502.1,156.2M508.4,151.5L501.9,154.1M524.4,136.9L530.1,152.6M530.1,152.6L524.5,156.8M529.4,150.6L526.6,152.8M541.9,136.9L547.4,152.6M547.4,152.6L541.9,156.8M546.7,150.7L543.9,152.8M559.3,136.9L567.6,151.4M567.6,151.4L562.9,156.5M566.6,149.5L564.2,152.1M576.7,136.9L591.8,144.0M591.8,144.0L590.8,151.0M589.9,143.1L589.4,146.6M594.1,136.9L610.0,142.0M610.0,142.0L609.9,149.0M611.5,136.9L627.3,142.2M627.3,142.2L627.2,149.2M625.4,141.5L625.3,145.0M628.9,136.9L644.7,142.3M644.7,142.3L644.5,149.3M646.3,136.9L662.3,141.9M662.3,141.9L662.3,148.9M663.7,136.9L679.7,141.8M679.7,141.8L679.7,148.8M681.1,136.9L697.1,141.8M697.1,141.8L697.1,148.8M695.1,141.2L695.1,144.7M698.5,136.9L714.5,141.8M714.5,141.8L714.5,148.8M716.0,136.9L731.9,141.8M731.9,141.8L732.0,148.8M733.4,136.9L749.3,141.8M749.3,141.8L749.4,148.8M750.8,136.9L766.7,141.9M766.7,141.9L766.7,148.9M764.7,141.3L764.7,144.8M768.2,136.9L783.8,142.7M783.8,142.7L783.4,149.7M785.6,136.9L801.2,142.7M801.2,142.7L800.9,149.7M803.0,136.9L818.8,142.2M818.8,142.2L818.7,149.2M816.8,141.6L816.8,145.1M820.4,136.9L836.0,143.0M836.0,143.0L835.5,150.0M837.8,136.9L852.3,145.2M852.3,145.2L850.8,152.0M855.2,136.9L869.3,145.9M869.3,145.9L867.4,152.7M867.5,144.8L866.6,148.2M872.6,136.9L886.9,145.6M886.9,145.6L885.2,152.4M885.1,144.5L884.3,147.9M890.1,136.9L904.1,145.9M904.1,145.9L902.2,152.7M902.3,144.8L901.4,148.2M907.5,136.9L922.0,145.2M922.0,145.2L920.5,152.0M920.2,144.1L919.4,147.6M924.9,136.9L940.4,143.0M940.4,143.0L939.9,150.0M938.5,142.2L938.2,145.7M942.3,136.9L958.1,142.2M958.1,142.2L958.0,149.2M959.7,136.9L975.3,142.7M975.3,142.7L975.0,149.7M977.1,136.9L992.7,142.8M992.7,142.8L992.3,149.8M990.8,142.1L990.6,145.6M994.5,136.9L1010.4,142.0M1010.4,142.0L1010.4,149.0M1011.9,136.9L1027.9,141.8M1027.9,141.8L1027.9,148.8M1029.3,136.9L1045.3,141.9M1045.3,141.9L1045.3,148.9M1046.7,136.9L1062.6,142.0M1062.6,142.0L1062.6,149.0M1064.1,136.9L1080.1,141.9M1080.1,141.9L1080.1,148.9M1081.6,136.9L1097.5,141.8M1097.5,141.8L1097.5,148.8M1099.0,136.9L1114.9,141.9M1114.9,141.9L1114.9,148.9M1112.9,141.3L1112.9,144.8M1116.4,136.9L1132.3,142.0M1132.3,142.0L1132.2,149.0M1133.8,136.9L1149.7,141.9M1149.7,141.9L1149.7,148.9M1151.2,136.9L1167.2,141.8M1167.2,141.8L1167.2,148.8M1168.6,136.9L1184.6,141.9M1184.6,141.9L1184.6,148.9M1186.0,136.9L1201.9,142.0M1201.9,142.0L1201.9,149.0M1203.4,136.9L1219.4,141.9M1219.4,141.9L1219.4,148.9M1220.8,136.9L1236.8,141.8M1236.8,141.8L1236.8,148.8M1238.2,136.9L1254.2,141.9M1254.2,141.9L1254.2,148.9M1255.7,136.9L1271.6,142.0M1271.6,142.0L1271.5,149.0M106.6,154.2L121.0,145.8M121.0,145.8L126.2,150.5M124.0,154.2L138.7,146.3M138.7,146.3L143.7,151.2M141.4,154.2L156.2,146.4M153.4,147.8L155.9,150.3M158.8,154.2L173.6,146.4M170.8,147.8L173.3,150.3M176.2,154.2L191.0,146.4M188.2,147.8L190.7,150.3M193.6,154.2L208.4,146.4M205.6,147.8L208.1,150.3M211.1,154.2L226.9,148.9M223.9,149.9L226.0,152.8M228.5,154.2L245.0,151.5M245.0,151.5L248.1,157.8M245.9,154.2L262.6,154.0M262.6,154.0L264.7,160.7M263.3,154.2L280.0,154.8M280.0,154.8L281.8,161.5M280.7,154.2L297.2,156.5M297.2,156.5L298.4,163.4M298.1,154.2L314.6,157.1M314.6,157.1L315.4,164.1M315.5,154.2L327.9,165.4M327.9,165.4L325.0,171.7M332.9,154.2L340.8,168.9M340.8,168.9L335.9,173.9M350.3,154.2L357.7,169.2M357.7,169.2L352.6,174.0M367.8,154.2L374.0,169.7M374.0,169.7L368.6,174.1M385.2,154.2L393.0,169.0M393.0,169.0L388.1,173.9M392.0,167.1L389.5,169.6M402.6,154.2L410.4,169.0M410.4,169.0L405.5,173.9M409.4,167.1L404.5,172.1M420.0,154.2L424.9,170.1M424.9,170.1L419.2,174.1M424.3,168.2L418.6,172.1M437.4,154.2L434.6,170.7M434.6,170.7L427.7,171.6M434.9,168.6L428.0,169.5M454.8,154.2L452.9,170.8M452.9,170.8L446.0,172.1M453.1,168.7L449.7,169.4M472.2,154.2L470.5,170.8M470.5,170.8L463.6,172.2M470.7,168.7L463.8,170.1M489.6,154.2L486.7,170.7M486.7,170.7L479.8,171.6M487.1,168.6L480.2,169.5M507.0,154.2L505.7,170.8M505.7,170.8L498.9,172.4M505.9,168.8L499.0,170.3M524.4,154.2L527.7,170.6M527.7,170.6L521.5,173.9M527.3,168.5L524.2,170.2M541.9,154.2L544.8,170.6M544.8,170.6L538.6,173.9M544.4,168.6L541.3,170.2M559.3,154.2L564.0,170.2M564.0,170.2L558.2,174.1M563.4,168.2L560.5,170.2M576.7,154.2L591.4,162.1M591.4,162.1L590.1,168.9M594.1,154.2L610.1,159.0M610.1,159.0L610.2,166.0M608.1,158.4L608.1,161.9M611.5,154.2L627.4,159.2M627.4,159.2L627.4,166.2M628.9,154.2L644.8,159.4M644.8,159.4L644.6,166.4M646.3,154.2L662.4,158.8M662.4,158.8L662.5,165.8M663.7,154.2L679.8,158.6M679.8,158.6L680.1,165.6M681.1,154.2L697.2,158.7M697.2,158.7L697.4,165.7M695.2,158.2L695.3,161.7M698.5,154.2L714.6,158.9M714.6,158.9L714.7,165.9M716.0,154.2L732.0,158.7M732.0,158.7L732.2,165.7M730.0,158.2L730.1,161.7M733.4,154.2L749.5,158.6M749.5,158.6L749.7,165.6M750.8,154.2L766.8,158.9M766.8,158.9L766.9,165.9M768.2,154.2L783.3,161.2M783.3,161.2L782.4,168.2M781.4,160.3L781.0,163.8M785.6,154.2L799.2,163.9M799.2,163.9L797.0,170.5M797.5,162.7L796.4,166.0M803.0,154.2L816.1,164.6M816.1,164.6L813.6,171.1M814.5,163.3L813.2,166.5M820.4,154.2L833.8,164.2M833.8,164.2L831.4,170.8M832.1,163.0L830.9,166.3M837.8,154.2L850.7,164.9M850.7,164.9L848.0,171.3M849.1,163.5L847.7,166.8M855.2,154.2L866.1,166.9M866.1,166.9L862.3,172.8M864.7,165.3L862.8,168.3M872.6,154.2L882.7,167.5M882.7,167.5L878.6,173.2M881.4,165.9L877.4,171.6M890.1,154.2L900.9,166.9M900.9,166.9L897.2,172.8M899.5,165.3L895.8,171.2M907.5,154.2L920.3,164.8M920.3,164.8L917.7,171.3M918.7,163.5L917.4,166.8M924.9,154.2L938.2,164.2M938.2,164.2L935.9,170.8M936.6,163.0L935.4,166.3M942.3,154.2L955.4,164.6M955.4,164.6L952.9,171.1M953.7,163.3L952.5,166.5M959.7,154.2L973.3,163.9M973.3,163.9L971.1,170.5M971.6,162.7L970.5,166.0M977.1,154.2L992.2,161.4M992.2,161.4L991.1,168.4M994.5,154.2L1010.3,159.6M1010.3,159.6L1010.1,166.6M1011.9,154.2L1027.8,159.4M1027.8,159.4L1027.7,166.4M1025.8,158.7L1025.8,162.2M1029.3,154.2L1045.2,159.4M1045.2,159.4L1045.1,166.4M1043.2,158.7L1043.2,162.2M1046.7,154.2L1062.6,159.4M1062.6,159.4L1062.5,166.4M1060.6,158.8L1060.6,162.3M1064.1,154.2L1080.0,159.4M1080.0,159.4L1079.9,166.4M1081.6,154.2L1097.4,159.4M1097.4,159.4L1097.4,166.4M1099.0,154.2L1114.9,159.4M1114.9,159.4L1114.8,166.4M1112.9,158.7L1112.8,162.2M1116.4,154.2L1132.2,159.4M1132.2,159.4L1132.1,166.4M1130.3,158.8L1130.2,162.3M1133.8,154.2L1149.7,159.4M1149.7,159.4L1149.6,166.4M1147.7,158.7L1147.6,162.2M1151.2,154.2L1167.1,159.4M1167.1,159.4L1167.0,166.4M1165.1,158.7L1165.1,162.2M1168.6,154.2L1184.5,159.4M1184.5,159.4L1184.4,166.4M1186.0,154.2L1201.9,159.5M1201.9,159.5L1201.8,166.4M1203.4,154.2L1219.3,159.4M1219.3,159.4L1219.2,166.4M1217.3,158.7L1217.3,162.2M1220.8,154.2L1236.7,159.4M1236.7,159.4L1236.6,166.4M1234.7,158.7L1234.7,162.2M1238.2,154.2L1254.1,159.4M1254.1,159.4L1254.0,166.4M1255.7,154.2L1271.5,159.5M1271.5,159.5L1271.4,166.5M1269.5,158.8L1269.5,162.3M106.6,171.5L122.1,165.2M122.1,165.2L126.5,170.6M124.0,171.5L139.3,164.7M136.4,166.0L138.7,168.6M141.4,171.5L156.4,164.2M153.6,165.6L156.0,168.1M158.8,171.5L173.8,164.2M171.0,165.6L173.4,168.1M176.2,171.5L191.3,164.2M188.4,165.6L190.8,168.1M193.6,171.5L208.7,164.2M205.8,165.6L208.2,168.1M211.1,171.5L227.7,170.1M227.7,170.1L230.3,176.6M228.5,171.5L245.2,171.3M245.2,171.3L247.3,177.9M245.9,171.5L262.6,172.3M262.6,172.3L264.3,179.1M263.3,171.5L279.9,172.9M279.9,172.9L281.4,179.8M280.7,171.5L297.3,173.0M297.3,173.0L298.8,179.8M298.1,171.5L314.2,175.8M314.2,175.8L314.5,182.8M315.5,171.5L329.7,180.3M329.7,180.3L328.0,187.0M332.9,171.5L344.5,183.5M344.5,183.5L341.1,189.7M350.3,171.5L357.9,186.4M357.9,186.4L352.9,191.3M367.8,171.5L375.3,186.4M375.3,186.4L370.3,191.3M385.2,171.5L391.2,187.1M391.2,187.1L385.7,191.4M390.4,185.1L387.7,187.3M402.6,171.5L405.6,187.9M405.6,187.9L399.4,191.2M405.2,185.9L399.0,189.1M420.0,171.5L422.7,188.0M422.7,188.0L416.5,191.1M422.4,185.9L416.1,189.1M437.4,171.5L434.9,188.0M434.9,188.0L428.0,189.1M435.2,186.0L428.3,187.0M454.8,171.5L452.8,188.1M452.8,188.1L445.9,189.3M453.0,186.0L446.1,187.3M472.2,171.5L469.8,188.0M469.8,188.0L462.9,189.1M470.1,186.0L463.2,187.1M489.6,171.5L486.8,188.0M486.8,188.0L479.9,188.9M487.2,185.9L480.2,186.9M507.0,171.5L505.4,188.1M505.4,188.1L498.6,189.6M505.6,186.0L498.8,187.5M524.4,171.5L526.5,188.1M526.5,188.1L520.2,191.0M526.3,186.0L523.1,187.5M541.9,171.5L544.8,187.9M544.8,187.9L538.6,191.2M544.5,185.9L541.4,187.5M559.3,171.5L564.9,187.2M564.9,187.2L559.3,191.4M564.2,185.3L561.4,187.4M576.7,171.5L592.2,177.7M592.2,177.7L591.6,184.7M590.2,176.9L590.0,180.4M594.1,171.5L610.2,175.8M610.2,175.8L610.5,182.8M608.2,175.3L608.3,178.8M611.5,171.5L627.5,176.1M627.5,176.1L627.7,183.1M628.9,171.5L644.8,176.5M644.8,176.5L644.8,183.5M646.3,171.5L662.4,175.9M662.4,175.9L662.7,182.9M663.7,171.5L679.9,175.8M679.9,175.8L680.1,182.8M681.1,171.5L697.2,175.9M697.2,175.9L697.5,182.9M695.2,175.3L695.4,178.8M698.5,171.5L714.6,176.1M714.6,176.1L714.8,183.1M716.0,171.5L732.1,175.9M732.1,175.9L732.3,182.9M733.4,171.5L749.5,175.8M749.5,175.8L749.8,182.8M750.8,171.5L766.9,176.0M766.9,176.0L767.1,183.0M768.2,171.5L783.1,179.1M783.1,179.1L781.9,186.0M781.2,178.1L780.6,181.6M785.6,171.5L798.5,182.1M798.5,182.1L795.9,188.6M796.9,180.8L795.6,184.0M803.0,171.5L815.8,182.2M815.8,182.2L813.1,188.7M814.2,180.9L812.8,184.1M820.4,171.5L833.2,182.2M833.2,182.2L830.5,188.7M831.6,180.9L830.3,184.1M837.8,171.5L849.7,183.2M849.7,183.2L846.5,189.4M848.2,181.7L845.0,188.0M855.2,171.5L865.0,185.0M865.0,185.0L860.8,190.6M863.8,183.3L859.6,188.9M872.6,171.5L882.2,185.2M882.2,185.2L877.9,190.7M881.0,183.5L876.7,189.0M890.1,171.5L899.9,185.0M899.9,185.0L895.7,190.6M898.6,183.3L894.4,188.9M907.5,171.5L919.4,183.2M919.4,183.2L916.2,189.4M917.9,181.7L916.3,184.8M924.9,171.5L937.7,182.2M937.7,182.2L935.0,188.7M936.1,180.9L934.8,184.1M942.3,171.5L955.1,182.2M955.1,182.2L952.4,188.7M953.5,180.9L952.1,184.1M959.7,171.5L972.6,182.1M972.6,182.1L970.0,188.6M971.0,180.8L969.7,184.0M977.1,171.5L991.8,179.3M991.8,179.3L990.6,186.2M990.0,178.4L989.4,181.8M994.5,171.5L1010.4,176.8M1010.4,176.8L1010.2,183.8M1011.9,171.5L1027.8,176.7M1027.8,176.7L1027.7,183.7M1029.3,171.5L1045.2,176.7M1045.2,176.7L1045.1,183.7M1043.2,176.0L1043.2,179.5M1046.7,171.5L1062.6,176.7M1062.6,176.7L1062.5,183.7M1064.1,171.5L1080.0,176.7M1080.0,176.7L1079.9,183.7M1078.0,176.0L1078.0,179.5M1081.6,171.5L1097.4,176.7M1097.4,176.7L1097.4,183.7M1099.0,171.5L1114.8,176.7M1114.8,176.7L1114.8,183.7M1112.9,176.0L1112.8,179.5M1116.4,171.5L1132.2,176.7M1132.2,176.7L1132.1,183.7M1130.3,176.1L1130.2,179.6M1133.8,171.5L1149.7,176.7M1149.7,176.7L1149.6,183.7M1147.7,176.0L1147.6,179.5M1151.2,171.5L1167.1,176.7M1167.1,176.7L1167.0,183.7M1165.1,176.0L1165.1,179.5M1168.6,171.5L1184.5,176.7M1184.5,176.7L1184.4,183.7M1186.0,171.5L1201.8,176.9M1201.8,176.9L1201.7,183.9M1203.4,171.5L1219.3,176.7M1219.3,176.7L1219.2,183.7M1220.8,171.5L1236.7,176.7M1236.7,176.7L1236.6,183.7M1238.2,171.5L1254.1,176.7M1254.1,176.7L1254.0,183.7M1255.7,171.5L1271.5,176.8M1271.5,176.8L1271.3,183.8M106.6,188.8L122.1,182.6M119.2,183.7L121.4,186.4M124.0,188.8L139.4,182.2M139.4,182.2L143.9,187.5M141.4,188.8L156.7,182.0M153.8,183.3L156.1,185.9M158.8,188.8L174.1,182.0M171.2,183.3L173.5,185.9M176.2,188.8L191.5,182.0M188.6,183.3L190.9,185.9M193.6,188.8L208.9,182.0M206.0,183.3L208.4,185.9M211.1,188.8L227.4,185.3M227.4,185.3L230.8,191.4M228.5,188.8L245.2,188.3M245.2,188.3L247.4,195.0M245.9,188.8L262.6,189.7M262.6,189.7L264.3,196.5M263.3,188.8L279.7,191.7M279.7,191.7L280.7,198.6M280.7,188.8L297.2,191.2M297.2,191.2L298.3,198.1M298.1,188.8L314.1,193.5M314.1,193.5L314.3,200.5M315.5,188.8L330.1,196.9M330.1,196.9L328.7,203.7M332.9,188.8L344.7,200.7M344.7,200.7L341.4,206.9M350.3,188.8L360.0,202.5M360.0,202.5L355.7,208.0M367.8,188.8L376.4,203.1M376.4,203.1L371.7,208.3M385.2,188.8L391.5,204.2M391.5,204.2L386.1,208.7M390.7,202.3L388.0,204.6M402.6,188.8L405.1,205.3M405.1,205.3L398.9,208.4M404.8,203.2L398.5,206.3M420.0,188.8L416.5,205.1M416.5,205.1L409.6,205.8M417.0,203.1L413.5,203.4M437.4,188.8L435.6,205.4M435.6,205.4L428.7,206.8M435.8,203.3L432.4,204.0M454.8,188.8L450.8,205.0M450.8,205.0L443.9,205.5M451.3,203.0L447.8,203.2M472.2,188.8L466.7,204.6M466.7,204.6L459.7,204.4M467.4,202.6L460.4,202.4M489.6,188.8L486.0,205.1M486.0,205.1L479.1,205.7M486.5,203.1L479.5,203.7M507.0,188.8L504.6,205.3M504.6,205.3L497.7,206.4M504.9,203.3L498.0,204.3M524.4,188.8L521.9,205.3M521.9,205.3L514.9,206.3M522.2,203.2L515.3,204.3M541.9,188.8L544.9,205.2M544.9,205.2L538.8,208.5M544.6,203.2L541.5,204.8M559.3,188.8L565.1,204.5M565.1,204.5L559.5,208.7M564.3,202.5L561.6,204.6M576.7,188.8L586.8,202.0M586.8,202.0L582.8,207.8M585.6,200.4L583.6,203.3M594.1,188.8L609.9,194.1M609.9,194.1L609.8,201.1M611.5,188.8L627.3,194.1M627.3,194.1L627.2,201.1M625.4,193.4L625.3,196.9M628.9,188.8L644.9,193.5M644.9,193.5L645.0,200.5M642.9,192.9L643.0,196.4M646.3,188.8L662.4,193.1M662.4,193.1L662.7,200.1M663.7,188.8L679.8,193.2M679.8,193.2L680.1,200.2M681.1,188.8L697.2,193.3M697.2,193.3L697.5,200.2M698.5,188.8L714.6,193.5M714.6,193.5L714.7,200.5M716.0,188.8L732.0,193.3M732.0,193.3L732.2,200.3M730.0,192.7L730.1,196.2M733.4,188.8L749.5,193.2M749.5,193.2L749.7,200.2M747.5,192.6L747.6,196.1M750.8,188.8L766.8,193.6M766.8,193.6L766.8,200.6M768.2,188.8L782.9,196.7M782.9,196.7L781.6,203.6M781.1,195.7L780.4,199.1M785.6,188.8L798.5,199.4M798.5,199.4L795.9,205.9M796.9,198.1L795.6,201.3M803.0,188.8L815.7,199.6M815.7,199.6L813.0,206.0M814.1,198.3L812.8,201.5M820.4,188.8L833.0,199.8M833.0,199.8L830.2,206.2M831.4,198.4L830.0,201.6M837.8,188.8L849.5,200.7M849.5,200.7L846.2,206.9M848.1,199.2L846.4,202.3M855.2,188.8L865.4,202.0M865.4,202.0L861.4,207.8M864.1,200.4L862.1,203.2M872.6,188.8L882.4,202.3M882.4,202.3L878.2,207.9M881.2,200.6L877.0,206.2M890.1,188.8L900.3,202.0M900.3,202.0L896.2,207.8M899.0,200.4L895.0,206.1M907.5,188.8L919.3,200.6M919.3,200.6L916.1,206.8M917.8,199.1L916.2,202.2M924.9,188.8L937.6,199.6M937.6,199.6L934.8,206.1M936.0,198.3L934.6,201.5M942.3,188.8L955.1,199.5M955.1,199.5L952.4,206.0M953.5,198.2L952.1,201.4M959.7,188.8L972.7,199.3M972.7,199.3L970.1,205.8M971.1,198.0L969.8,201.2M977.1,188.8L991.7,196.8M991.7,196.8L990.4,203.7M989.9,195.8L989.2,199.3M994.5,188.8L1010.3,194.3M1010.3,194.3L1010.0,201.3M1008.3,193.6L1008.2,197.1M1011.9,188.8L1027.8,194.0M1027.8,194.0L1027.7,201.0M1025.8,193.4L1025.8,196.9M1029.3,188.8L1045.2,194.0M1045.2,194.0L1045.1,201.0M1046.7,188.8L1062.6,194.0M1062.6,194.0L1062.5,201.0M1060.6,193.4L1060.6,196.9M1064.1,188.8L1080.0,194.0M1080.0,194.0L1079.9,201.0M1081.6,188.8L1097.4,194.0M1097.4,194.0L1097.4,201.0M1095.5,193.3L1095.4,196.8M1099.0,188.8L1114.9,194.0M1114.9,194.0L1114.8,201.0M1116.4,188.8L1132.3,194.0M1132.3,194.0L1132.2,201.0M1130.3,193.3L1130.2,196.8M1133.8,188.8L1149.6,194.1M1149.6,194.1L1149.5,201.1M1151.2,188.8L1167.1,194.0M1167.1,194.0L1167.0,201.0M1165.1,193.4L1165.0,196.9M1168.6,188.8L1184.4,194.2M1184.4,194.2L1184.2,201.2M1182.4,193.5L1182.4,197.0M1186.0,188.8L1201.7,194.4M1201.7,194.4L1201.4,201.4M1199.8,193.7L1199.6,197.2M1203.4,188.8L1219.3,194.1M1219.3,194.1L1219.1,201.1M1217.3,193.5L1217.2,197.0M1220.8,188.8L1236.7,194.0M1236.7,194.0L1236.6,201.0M1234.7,193.4L1234.7,196.9M1238.2,188.8L1254.1,194.1M1254.1,194.1L1254.0,201.1M1255.7,188.8L1271.4,194.3M1271.4,194.3L1271.2,201.3M106.6,206.1L122.3,200.4M122.3,200.4L126.5,205.9M124.0,206.1L139.6,200.1M139.6,200.1L143.9,205.6M141.4,206.1L156.9,199.8M154.0,201.0L156.2,203.7M158.8,206.1L174.3,199.8M171.4,201.0L173.6,203.7M176.2,206.1L191.7,199.8M188.8,201.0L191.0,203.7M193.6,206.1L209.1,199.8M206.2,201.0L208.5,203.7M211.1,206.1L227.7,204.5M227.7,204.5L230.4,210.9M228.5,206.1L244.9,208.8M244.9,208.8L245.9,215.8M245.9,206.1L262.3,209.1M262.3,209.1L263.1,216.1M263.3,206.1L278.8,212.2M278.8,212.2L278.3,219.2M280.7,206.1L296.3,212.2M296.3,212.2L295.8,219.1M298.1,206.1L313.0,213.6M313.0,213.6L311.9,220.5M315.5,206.1L330.3,214.0M330.3,214.0L328.9,220.8M332.9,206.1L345.8,216.8M345.8,216.8L343.1,223.2M350.3,206.1L362.5,217.5M362.5,217.5L359.5,223.8M367.8,206.1L377.4,219.8M377.4,219.8L373.1,225.3M385.2,206.1L395.3,219.4M395.3,219.4L391.3,225.1M402.6,206.1L404.1,222.7M404.1,222.7L397.6,225.4M403.9,220.7L397.4,223.3M420.0,206.1L415.8,222.3M415.8,222.3L408.8,222.6M416.3,220.2L409.3,220.6M437.4,206.1L436.1,222.7M436.1,222.7L429.3,224.3M436.2,220.7L429.4,222.2M454.8,206.1L450.6,222.3M450.6,222.3L443.6,222.6M451.1,220.2L447.6,220.4M472.2,206.1L466.5,221.8M466.5,221.8L459.5,221.5M467.2,219.8L460.3,219.5M489.6,206.1L485.4,222.3M485.4,222.3L478.4,222.6M486.0,220.2L479.0,220.6M507.0,206.1L504.3,222.6M504.3,222.6L497.3,223.5M504.6,220.5L497.7,221.5M524.4,206.1L521.6,222.6M521.6,222.6L514.6,223.5M521.9,220.5L515.0,221.4M541.9,206.1L545.0,222.5M545.0,222.5L538.8,225.8M544.6,220.5L538.4,223.8M559.3,206.1L565.0,221.8M565.0,221.8L559.4,226.0M564.3,219.8L561.5,222.0M576.7,206.1L585.6,220.2M585.6,220.2L581.1,225.5M584.5,218.4L582.3,221.1M594.1,206.1L609.9,211.6M609.9,211.6L609.6,218.6M607.9,210.9L607.8,214.4M611.5,206.1L627.3,211.5M627.3,211.5L627.1,218.5M625.3,210.8L625.2,214.3M628.9,206.1L644.9,210.8M644.9,210.8L645.1,217.8M646.3,206.1L662.4,210.4M662.4,210.4L662.7,217.4M663.7,206.1L679.8,210.4M679.8,210.4L680.1,217.4M677.8,209.9L678.0,213.4M681.1,206.1L697.2,210.6M697.2,210.6L697.5,217.6M698.5,206.1L714.6,210.8M714.6,210.8L714.7,217.8M716.0,206.1L732.0,210.6M732.0,210.6L732.2,217.6M733.4,206.1L749.5,210.5M749.5,210.5L749.7,217.5M750.8,206.1L766.7,211.0M766.7,211.0L766.8,218.0M768.2,206.1L782.6,214.5M782.6,214.5L781.1,221.3M785.6,206.1L797.2,218.1M797.2,218.1L793.9,224.2M795.8,216.6L794.1,219.7M803.0,206.1L814.0,218.7M814.0,218.7L810.3,224.6M812.6,217.1L810.8,220.1M820.4,206.1L831.7,218.4M831.7,218.4L828.2,224.5M830.3,216.9L828.5,219.9M837.8,206.1L849.3,218.2M849.3,218.2L845.9,224.3M847.9,216.7L846.2,219.8M855.2,206.1L866.1,218.8M866.1,218.8L862.4,224.7M864.7,217.2L861.0,223.1M872.6,206.1L883.4,218.9M883.4,218.9L879.6,224.8M882.0,217.3L880.2,220.2M890.1,206.1L901.0,218.7M901.0,218.7L897.3,224.7M899.6,217.2L897.7,220.1M907.5,206.1L919.2,217.9M919.2,217.9L916.0,224.1M917.8,216.4L916.1,219.5M924.9,206.1L936.9,217.6M936.9,217.6L933.8,223.9M935.4,216.2L933.9,219.3M942.3,206.1L954.2,217.8M954.2,217.8L951.1,224.0M952.7,216.3L951.1,219.4M959.7,206.1L972.1,217.3M972.1,217.3L969.1,223.7M970.5,215.9L969.1,219.1M977.1,206.1L991.6,214.4M991.6,214.4L990.1,221.3M994.5,206.1L1010.3,211.7M1010.3,211.7L1010.0,218.7M1008.3,211.0L1008.2,214.5M1011.9,206.1L1027.8,211.3M1027.8,211.3L1027.7,218.3M1029.3,206.1L1045.2,211.3M1045.2,211.3L1045.1,218.3M1046.7,206.1L1062.6,211.3M1062.6,211.3L1062.5,218.3M1064.1,206.1L1080.0,211.3M1080.0,211.3L1079.9,218.3M1081.6,206.1L1097.4,211.3M1097.4,211.3L1097.3,218.3M1099.0,206.1L1114.8,211.3M1114.8,211.3L1114.7,218.3M1116.4,206.1L1132.2,211.5M1132.2,211.5L1132.0,218.5M1133.8,206.1L1149.6,211.6M1149.6,211.6L1149.3,218.6M1151.2,206.1L1167.0,211.4M1167.0,211.4L1166.9,218.4M1168.6,206.1L1184.3,211.7M1184.3,211.7L1184.0,218.7M1186.0,206.1L1201.5,212.3M1201.5,212.3L1201.0,219.2M1203.4,206.1L1219.2,211.6M1219.2,211.6L1219.0,218.6M1220.8,206.1L1236.7,211.3M1236.7,211.3L1236.6,218.3M1234.7,210.7L1234.7,214.2M1238.2,206.1L1254.1,211.4M1254.1,211.4L1253.9,218.4M1255.7,206.1L1271.4,211.8M1271.4,211.8L1271.0,218.8M106.6,223.4L122.3,217.7M122.3,217.7L126.5,223.3M124.0,223.4L139.7,217.7M136.8,218.8L138.9,221.5M141.4,223.4L157.1,217.7M154.2,218.8L156.3,221.5M158.8,223.4L174.5,217.7M171.6,218.8L173.7,221.5M176.2,223.4L191.9,217.7M189.0,218.8L191.1,221.5M193.6,223.4L209.3,217.7M206.4,218.8L208.5,221.5M211.1,223.4L227.3,219.6M224.3,220.3L226.0,223.3M228.5,223.4L245.0,221.1M245.0,221.1L248.0,227.5M245.9,223.4L262.6,223.4M262.6,223.4L264.7,230.1M263.3,223.4L279.3,228.2M279.3,228.2L279.4,235.2M280.7,223.4L296.3,229.2M296.3,229.2L296.0,236.2M298.1,223.4L313.2,230.6M313.2,230.6L312.2,237.5M315.5,223.4L330.1,231.5M330.1,231.5L328.7,238.3M332.9,223.4L347.1,232.3M347.1,232.3L345.3,239.0M350.3,223.4L364.5,232.2M364.5,232.2L362.8,239.0M367.8,223.4L380.2,234.5M380.2,234.5L377.3,240.9M385.2,223.4L398.6,233.3M398.6,233.3L396.3,240.0M402.6,223.4L415.5,234.0M415.5,234.0L412.8,240.5M420.0,223.4L430.2,236.6M430.2,236.6L426.2,242.3M437.4,223.4L449.2,235.2M449.2,235.2L446.0,241.4M454.8,223.4L463.2,237.9M463.2,237.9L458.4,243.0M462.1,236.1L459.7,238.6M472.2,223.4L470.9,240.1M470.9,240.1L464.1,241.6M471.1,238.0L464.3,239.5M489.6,223.4L487.4,239.9M487.4,239.9L480.5,241.1M487.6,237.9L484.2,238.5M507.0,223.4L503.0,239.6M503.0,239.6L496.0,240.0M503.5,237.6L500.0,237.8M524.4,223.4L520.2,239.5M520.2,239.5L513.2,239.9M520.7,237.5L517.2,237.7M541.9,223.4L545.0,239.8M545.0,239.8L538.9,243.1M544.6,237.7L541.6,239.4M559.3,223.4L567.2,238.1M567.2,238.1L562.3,243.1M566.2,236.2L563.8,238.8M576.7,223.4L591.1,231.9M591.1,231.9L589.5,238.7M589.3,230.8L588.5,234.2M594.1,223.4L610.2,227.7M610.2,227.7L610.5,234.7M611.5,223.4L627.5,228.2M627.5,228.2L627.6,235.1M628.9,223.4L644.8,228.5M644.8,228.5L644.7,235.5M646.3,223.4L662.4,227.8M662.4,227.8L662.7,234.8M663.7,223.4L679.9,227.7M679.9,227.7L680.1,234.7M677.8,227.2L678.0,230.7M681.1,223.4L697.2,227.8M697.2,227.8L697.5,234.8M695.2,227.2L695.4,230.7M698.5,223.4L714.6,228.0M714.6,228.0L714.8,235.0M716.0,223.4L732.1,227.8M732.1,227.8L732.3,234.8M730.0,227.2L730.2,230.7M733.4,223.4L749.5,227.7M749.5,227.7L749.8,234.7M750.8,223.4L766.8,227.9M766.8,227.9L767.0,234.9M768.2,223.4L782.5,232.0M782.5,232.0L780.9,238.8M780.7,230.9L779.9,234.3M785.6,223.4L796.6,236.0M796.6,236.0L792.9,241.9M795.2,234.4L793.4,237.4M803.0,223.4L813.7,236.2M813.7,236.2L810.0,242.1M812.4,234.6L810.5,237.5M820.4,223.4L831.3,236.1M831.3,236.1L827.6,242.0M829.9,234.5L828.1,237.5M837.8,223.4L849.3,235.6M849.3,235.6L845.8,241.7M855.2,223.4L866.1,236.1M866.1,236.1L862.3,242.0M864.7,234.5L862.9,237.5M872.6,223.4L883.4,236.2M883.4,236.2L879.6,242.1M882.0,234.6L880.1,237.5M890.1,223.4L900.9,236.1M900.9,236.1L897.2,242.0M899.5,234.5L897.7,237.5M907.5,223.4L919.2,235.2M919.2,235.2L916.0,241.4M917.8,233.8L916.1,236.9M924.9,223.4L936.7,235.1M936.7,235.1L933.5,241.4M935.3,233.7L933.7,236.8M942.3,223.4L954.1,235.2M954.1,235.2L950.8,241.4M952.6,233.7L951.0,236.8M959.7,223.4L971.7,235.0M971.7,235.0L968.5,241.3M970.2,233.6L968.6,236.7M977.1,223.4L991.5,231.9M991.5,231.9L989.9,238.7M989.7,230.8L988.9,234.2M994.5,223.4L1010.3,228.7M1010.3,228.7L1010.2,235.7M1011.9,223.4L1027.8,228.6M1027.8,228.6L1027.7,235.6M1025.8,227.9L1025.8,231.4M1029.3,223.4L1045.2,228.6M1045.2,228.6L1045.1,235.6M1046.7,223.4L1062.6,228.6M1062.6,228.6L1062.5,235.6M1060.6,227.9L1060.6,231.4M1064.1,223.4L1080.0,228.6M1080.0,228.6L1079.9,235.6M1081.6,223.4L1097.4,228.6M1097.4,228.6L1097.4,235.6M1099.0,223.4L1114.8,228.7M1114.8,228.7L1114.7,235.7M1116.4,223.4L1132.0,229.3M1132.0,229.3L1131.6,236.3M1130.0,228.6L1129.8,232.1M1133.8,223.4L1149.6,228.9M1149.6,228.9L1149.4,235.9M1151.2,223.4L1167.1,228.6M1167.1,228.6L1167.0,235.6M1168.6,223.4L1184.3,229.0M1184.3,229.0L1184.1,236.0M1186.0,223.4L1201.2,230.4M1201.2,230.4L1200.3,237.3M1199.3,229.5L1198.8,233.0M1203.4,223.4L1219.2,228.8M1219.2,228.8L1219.1,235.8M1220.8,223.4L1236.7,228.6M1236.7,228.6L1236.6,235.6M1238.2,223.4L1254.1,228.7M1254.1,228.7L1254.0,235.7M1255.7,223.4L1271.3,229.2M1271.3,229.2L1270.9,236.2M106.6,240.7L122.5,235.5M122.5,235.5L126.5,241.2M124.0,240.7L139.9,235.5M139.9,235.5L143.9,241.1M141.4,240.7L157.3,235.5M154.3,236.5L156.3,239.4M158.8,240.7L174.7,235.5M171.7,236.5L173.8,239.4M176.2,240.7L192.1,235.5M189.1,236.5L191.2,239.4M193.6,240.7L209.5,235.5M206.6,236.5L208.6,239.4M211.1,240.7L227.1,236.0M224.1,236.8L226.0,239.7M228.5,240.7L241.3,230.1M238.9,232.0L241.9,234.0M245.9,240.7L262.2,244.0M262.2,244.0L262.9,251.0M263.3,240.7L279.6,244.1M279.6,244.1L280.3,251.0M280.7,240.7L296.2,246.9M296.2,246.9L295.6,253.9M298.1,240.7L313.4,247.5M313.4,247.5L312.5,254.5M315.5,240.7L329.4,250.0M329.4,250.0L327.4,256.7M332.9,240.7L347.9,248.0M347.9,248.0L346.9,254.9M350.3,240.7L366.5,245.0M366.5,245.0L366.7,252.0M367.8,240.7L383.0,247.5M383.0,247.5L382.2,254.4M385.2,240.7L398.7,250.5M398.7,250.5L396.5,257.1M402.6,240.7L416.1,250.5M416.1,250.5L413.9,257.1M420.0,240.7L434.5,248.9M434.5,248.9L433.0,255.8M437.4,240.7L450.2,251.4M450.2,251.4L447.5,257.9M454.8,240.7L468.0,250.9M468.0,250.9L465.6,257.5M472.2,240.7L478.8,256.1M478.8,256.1L473.5,260.6M478.0,254.1L475.3,256.4M489.6,240.7L486.9,257.2M486.9,257.2L480.0,258.1M507.0,240.7L501.5,256.5M501.5,256.5L494.5,256.2M502.2,254.5L498.7,254.4M524.4,240.7L518.7,256.4M518.7,256.4L511.8,256.1M519.5,254.4L516.0,254.3M541.9,240.7L545.7,256.9M545.7,256.9L539.7,260.5M545.2,254.9L542.2,256.7M559.3,240.7L567.6,255.2M567.6,255.2L562.9,260.3M566.6,253.4L564.2,255.9M576.7,240.7L586.9,253.9M586.9,253.9L582.9,259.7M585.6,252.3L583.6,255.1M594.1,240.7L609.8,246.4M609.8,246.4L609.5,253.4M611.5,240.7L627.1,246.7M627.1,246.7L626.7,253.6M628.9,240.7L644.5,246.6M644.5,246.6L644.1,253.6M642.6,245.9L642.4,249.4M646.3,240.7L662.3,245.5M662.3,245.5L662.4,252.5M663.7,240.7L679.8,245.1M679.8,245.1L680.1,252.1M681.1,240.7L697.2,245.2M697.2,245.2L697.4,252.2M698.5,240.7L714.6,245.1M714.6,245.1L714.9,252.1M712.6,244.6L712.7,248.1M716.0,240.7L732.0,245.2M732.0,245.2L732.2,252.2M733.4,240.7L749.5,245.2M749.5,245.2L749.7,252.2M747.4,244.6L747.6,248.1M750.8,240.7L766.7,245.6M766.7,245.6L766.7,252.6M764.7,245.0L764.7,248.5M768.2,240.7L782.7,248.9M782.7,248.9L781.3,255.7M780.9,247.9L780.2,251.3M785.6,240.7L797.5,252.4M797.5,252.4L794.2,258.7M796.0,251.0L794.4,254.1M803.0,240.7L814.1,253.2M814.1,253.2L810.5,259.2M812.7,251.6L810.9,254.6M820.4,240.7L832.0,252.7M832.0,252.7L828.6,258.9M830.6,251.2L828.9,254.3M837.8,240.7L850.0,252.1M850.0,252.1L847.0,258.4M848.5,250.7L847.0,253.8M855.2,240.7L866.8,252.8M866.8,252.8L863.4,258.9M865.3,251.3L863.6,254.3M872.6,240.7L883.7,253.2M883.7,253.2L880.1,259.2M882.3,251.6L880.5,254.6M890.1,240.7L901.6,252.8M901.6,252.8L898.2,258.9M900.1,251.3L898.4,254.3M907.5,240.7L919.8,252.0M919.8,252.0L916.8,258.3M918.2,250.6L916.7,253.7M924.9,240.7L937.0,252.2M937.0,252.2L933.9,258.5M935.5,250.7L933.9,253.9M942.3,240.7L954.2,252.4M954.2,252.4L951.1,258.6M952.7,250.9L951.2,254.0M959.7,240.7L972.1,251.9M972.1,251.9L969.1,258.3M970.5,250.5L969.1,253.7M977.1,240.7L991.5,249.1M991.5,249.1L990.0,255.9M994.5,240.7L1010.2,246.4M1010.2,246.4L1009.9,253.4M1011.9,240.7L1027.8,246.0M1027.8,246.0L1027.6,253.0M1029.3,240.7L1045.1,246.1M1045.1,246.1L1045.0,253.1M1046.7,240.7L1062.5,246.1M1062.5,246.1L1062.4,253.1M1060.6,245.4L1060.5,248.9M1064.1,240.7L1080.0,246.1M1080.0,246.1L1079.8,253.0M1081.6,240.7L1097.4,246.0M1097.4,246.0L1097.3,253.0M1099.0,240.7L1114.7,246.4M1114.7,246.4L1114.4,253.4M1112.7,245.7L1112.6,249.2M1116.4,240.7L1131.4,248.0M1131.4,248.0L1130.4,254.9M1129.5,247.0L1129.0,250.5M1133.8,240.7L1148.7,248.3M1148.7,248.3L1147.5,255.2M1146.8,247.3L1146.2,250.8M1151.2,240.7L1166.5,247.4M1166.5,247.4L1165.7,254.3M1164.6,246.5L1164.2,250.0M1168.6,240.7L1182.6,249.9M1182.6,249.9L1180.7,256.6M1180.8,248.7L1179.9,252.1M1186.0,240.7L1199.3,250.8M1199.3,250.8L1196.9,257.4M1197.6,249.6L1196.4,252.8M1203.4,240.7L1218.7,247.5M1218.7,247.5L1217.9,254.4M1216.8,246.6L1216.4,250.1M1220.8,240.7L1236.6,246.2M1236.6,246.2L1236.4,253.2M1238.2,240.7L1253.9,246.5M1253.9,246.5L1253.6,253.4M1255.7,240.7L1271.1,247.1M1271.1,247.1L1270.4,254.1M106.6,258.0L122.7,253.4M122.7,253.4L126.5,259.3M124.0,258.0L140.0,253.3M137.0,254.2L139.0,257.1M141.4,258.0L157.3,252.8M154.3,253.8L156.3,256.6M158.8,258.0L174.7,252.9M171.8,253.9L173.8,256.7M176.2,258.0L192.1,252.6M189.1,253.6L191.1,256.5M193.6,258.0L207.7,249.0M205.1,250.7L207.8,253.0M211.1,258.0L222.0,245.4M220.0,247.8L223.2,249.2M228.5,258.0L226.8,241.4M227.1,244.5L230.3,243.1M245.9,258.0L235.0,245.3M237.0,247.7L238.9,244.7M280.7,258.0L296.4,263.7M293.5,262.6L293.3,266.1M298.1,258.0L313.4,264.8M313.4,264.8L312.6,271.7M315.5,258.0L331.1,264.0M331.1,264.0L330.7,271.0M332.9,258.0L348.1,265.0M348.1,265.0L347.2,272.0M350.3,258.0L365.9,264.0M365.9,264.0L365.5,271.0M367.8,258.0L383.8,262.6M383.8,262.6L383.9,269.6M385.2,258.0L399.5,266.6M399.5,266.6L397.8,273.4M402.6,258.0L415.9,268.0M415.9,268.0L413.6,274.6M420.0,258.0L436.4,261.2M436.4,261.2L437.1,268.2M437.4,258.0L453.1,263.7M453.1,263.7L452.8,270.7M454.8,258.0L469.5,265.9M469.5,265.9L468.2,272.7M472.2,258.0L465.8,273.4M465.8,273.4L458.9,272.8M489.6,258.0L480.8,272.2M480.8,272.2L474.0,270.4M507.0,258.0L501.7,273.8M501.7,273.8L494.8,273.7M524.4,258.0L520.4,274.2M520.4,274.2L513.5,274.6M541.9,258.0L541.4,274.7M541.4,274.7L534.7,276.6M559.3,258.0L566.9,272.8M566.9,272.8L561.9,277.8M565.9,271.0L563.5,273.4M576.7,258.0L588.1,270.2M588.1,270.2L584.6,276.3M594.1,258.0L607.9,267.4M607.9,267.4L605.8,274.1M611.5,258.0L626.4,265.6M626.4,265.6L625.2,272.5M628.9,258.0L644.4,264.2M644.4,264.2L643.9,271.2M646.3,258.0L662.2,263.0M662.2,263.0L662.2,270.0M663.7,258.0L679.8,262.5M679.8,262.5L680.0,269.4M681.1,258.0L697.2,262.4M697.2,262.4L697.5,269.4M698.5,258.0L714.7,262.3M714.7,262.3L715.0,269.3M712.7,261.8L712.8,265.3M716.0,258.0L732.0,262.5M732.0,262.5L732.2,269.5M733.4,258.0L749.3,263.1M749.3,263.1L749.2,270.1M750.8,258.0L766.6,263.4M766.6,263.4L766.4,270.4M768.2,258.0L783.1,265.4M783.1,265.4L782.1,272.3M781.3,264.5L780.7,267.9M785.6,258.0L799.8,266.8M799.8,266.8L798.0,273.6M803.0,258.0L817.3,266.6M817.3,266.6L815.6,273.4M815.5,265.6L814.7,269.0M820.4,258.0L834.4,267.0M834.4,267.0L832.6,273.8M837.8,258.0L851.5,267.6M851.5,267.6L849.4,274.2M855.2,258.0L869.2,267.1M869.2,267.1L867.3,273.8M872.6,258.0L886.9,266.7M886.9,266.7L885.2,273.5M890.1,258.0L904.0,267.1M904.0,267.1L902.1,273.9M907.5,258.0L920.7,268.1M920.7,268.1L918.3,274.7M919.1,266.9L917.9,270.2M924.9,258.0L937.7,268.7M937.7,268.7L935.0,275.2M936.1,267.4L934.8,270.6M942.3,258.0L955.1,268.7M955.1,268.7L952.4,275.2M953.5,267.4L952.1,270.6M959.7,258.0L972.7,268.5M972.7,268.5L970.1,275.0M977.1,258.0L991.6,266.3M991.6,266.3L990.1,273.1M994.5,258.0L1010.1,264.0M1010.1,264.0L1009.6,271.0M1011.9,258.0L1027.6,263.7M1027.6,263.7L1027.3,270.7M1029.3,258.0L1045.0,263.7M1045.0,263.7L1044.7,270.7M1046.7,258.0L1062.4,263.7M1062.4,263.7L1062.1,270.7M1064.1,258.0L1079.8,263.7M1079.8,263.7L1079.5,270.7M1081.6,258.0L1097.2,263.7M1097.2,263.7L1096.9,270.7M1099.0,258.0L1114.5,264.1M1114.5,264.1L1114.0,271.1M1116.4,258.0L1131.0,266.2M1131.0,266.2L1129.5,273.0M1129.1,265.1L1127.7,272.0M1133.8,258.0L1144.9,270.5M1144.9,270.5L1141.2,276.5M1143.5,268.9L1141.7,271.9M1151.2,258.0L1158.8,272.9M1158.8,272.9L1153.8,277.8M1157.8,271.0L1152.9,275.9M1168.6,258.0L1175.9,273.0M1175.9,273.0L1170.7,277.8M1174.9,271.2L1169.8,275.9M1186.0,258.0L1195.7,271.6M1195.7,271.6L1191.5,277.2M1194.5,269.9L1190.3,275.5M1203.4,258.0L1217.6,266.8M1217.6,266.8L1215.9,273.6M1220.8,258.0L1236.2,264.6M1236.2,264.6L1235.4,271.6M1234.3,263.8L1233.9,267.3M1238.2,258.0L1253.6,264.7M1253.6,264.7L1252.8,271.6M1255.7,258.0L1270.8,265.1M1270.8,265.1L1269.8,272.0M1268.9,264.2L1268.4,267.7M106.6,275.3L123.0,272.4M120.0,272.9L121.6,276.0M124.0,275.3L140.4,272.2M137.3,272.7L139.0,275.8M141.4,275.3L157.4,270.6M154.4,271.5L156.4,274.4M158.8,275.3L175.1,271.6M172.1,272.3L173.8,275.3M176.2,275.3L192.5,271.7M189.5,272.3L191.2,275.4M193.6,275.3L204.4,262.5M202.4,264.9L205.6,266.3M228.5,275.3L219.9,261.0M221.5,263.7L223.8,261.0M245.9,275.3L234.1,263.5M236.3,265.7L237.9,262.6M298.1,275.3L314.6,277.9M311.5,277.4L312.0,280.8M315.5,275.3L332.2,276.2M332.2,276.2L333.9,283.0M332.9,275.3L349.3,278.8M349.3,278.8L349.9,285.7M350.3,275.3L365.6,282.1M365.6,282.1L364.8,289.0M367.8,275.3L383.1,281.8M383.1,281.8L382.4,288.8M385.2,275.3L400.2,282.6M400.2,282.6L399.1,289.5M402.6,275.3L417.3,283.1M417.3,283.1L416.0,290.0M420.0,275.3L435.4,281.8M435.4,281.8L434.7,288.8M437.4,275.3L453.4,280.2M453.4,280.2L453.4,287.2M454.8,275.3L469.1,284.0M469.1,284.0L467.4,290.7M472.2,275.3L461.6,288.2M461.6,288.2L455.1,285.6M489.6,275.3L479.0,288.2M479.0,288.2L472.5,285.5M507.0,275.3L500.4,290.6M500.4,290.6L493.4,289.9M524.4,275.3L521.5,291.7M521.5,291.7L514.6,292.6M541.9,275.3L538.8,291.7M538.8,291.7L531.8,292.5M559.3,275.3L561.0,291.9M561.0,291.9L554.6,294.7M576.7,275.3L590.0,285.4M590.0,285.4L587.6,292.0M594.1,275.3L607.8,284.9M607.8,284.9L605.6,291.5M611.5,275.3L627.0,281.5M627.0,281.5L626.5,288.4M628.9,275.3L644.6,281.1M644.6,281.1L644.2,288.0M646.3,275.3L662.3,280.1M659.3,279.2L659.4,282.7M663.7,275.3L679.9,279.6M679.9,279.6L680.1,286.6M681.1,275.3L697.2,279.8M697.2,279.8L697.4,286.8M698.5,275.3L714.6,279.7M714.6,279.7L714.9,286.7M716.0,275.3L731.9,280.3M731.9,280.3L731.9,287.3M733.4,275.3L749.2,280.5M749.2,280.5L749.2,287.5M750.8,275.3L766.6,280.6M766.6,280.6L766.5,287.6M768.2,275.3L783.3,282.4M783.3,282.4L782.3,289.3M785.6,275.3L800.1,283.6M800.1,283.6L798.5,290.5M803.0,275.3L817.5,283.7M817.5,283.7L815.9,290.5M820.4,275.3L834.8,283.7M834.8,283.7L833.3,290.5M837.8,275.3L852.1,284.0M852.1,284.0L850.4,290.8M855.2,275.3L869.7,283.7M869.7,283.7L868.1,290.5M872.6,275.3L887.1,283.7M887.1,283.7L885.6,290.5M890.1,275.3L904.5,283.7M904.5,283.7L902.9,290.6M907.5,275.3L921.1,284.9M921.1,284.9L919.0,291.5M924.9,275.3L937.7,286.0M937.7,286.0L935.1,292.4M936.1,284.6L934.8,287.9M942.3,275.3L955.1,286.0M955.1,286.0L952.4,292.5M953.5,284.7L952.1,287.9M959.7,275.3L972.6,285.9M972.6,285.9L970.0,292.4M971.0,284.6L969.7,287.8M977.1,275.3L991.6,283.5M991.6,283.5L990.2,290.3M994.5,275.3L1010.2,281.1M1010.2,281.1L1009.8,288.1M1011.9,275.3L1027.6,281.0M1027.6,281.0L1027.3,288.0M1029.3,275.3L1045.0,281.1M1045.0,281.1L1044.7,288.0M1046.7,275.3L1062.4,281.2M1062.4,281.2L1062.0,288.2M1064.1,275.3L1079.8,281.0M1079.8,281.0L1079.5,288.0M1077.9,280.3L1077.7,283.8M1081.6,275.3L1097.3,281.0M1097.3,281.0L1096.9,288.0M1099.0,275.3L1114.6,281.1M1114.6,281.1L1114.2,288.1M1116.4,275.3L1131.8,281.7M1131.8,281.7L1131.2,288.7M1129.9,280.9L1129.2,287.9M1133.8,275.3L1146.3,286.3M1146.3,286.3L1143.5,292.7M1144.8,284.9L1141.9,291.3M1151.2,275.3L1156.9,291.0M1156.9,291.0L1151.4,295.2M1156.2,289.0L1150.7,293.3M1168.6,275.3L1174.3,291.0M1174.3,291.0L1168.8,295.2M1173.6,289.0L1168.1,293.3M1186.0,275.3L1194.7,289.6M1194.7,289.6L1190.1,294.8M1193.6,287.8L1189.0,293.0M1203.4,275.3L1217.5,284.2M1217.5,284.2L1215.7,291.0M1215.8,283.1L1214.9,286.5M1220.8,275.3L1236.3,281.6M1236.3,281.6L1235.8,288.5M1238.2,275.3L1253.6,281.9M1253.6,281.9L1252.9,288.8M1255.7,275.3L1270.7,282.6M1270.7,282.6L1269.6,289.6M106.6,292.6L123.1,290.0M120.0,290.5L121.6,293.7M124.0,292.6L140.5,289.7M137.4,290.3L139.0,293.4M141.4,292.6L157.6,288.4M157.6,288.4L161.3,294.3M158.8,292.6L175.0,288.5M172.0,289.2L173.8,292.2M176.2,292.6L190.9,284.6M188.2,286.1L190.7,288.6M193.6,292.6L204.8,280.2M202.7,282.5L205.9,284.0M211.1,292.6L211.0,275.9M211.0,279.0L214.4,278.0M228.5,292.6L219.4,278.6M221.1,281.2L223.3,278.5M245.9,292.6L233.9,281.0M236.1,283.2L237.7,280.0M263.3,292.6L253.2,279.3M255.1,281.8L257.2,278.9M280.7,292.6L269.5,280.2M271.6,282.5L273.4,279.5M315.5,292.6L330.3,284.8M327.5,286.3L330.0,288.7M332.9,292.6L349.3,289.4M346.3,290.0L347.9,293.1M350.3,292.6L366.8,295.2M363.7,294.7L364.3,298.2M367.8,292.6L383.3,298.8M383.3,298.8L382.7,305.8M385.2,292.6L400.4,299.4M400.4,299.4L399.6,306.3M402.6,292.6L417.3,300.4M417.3,300.4L416.0,307.3M420.0,292.6L434.3,301.2M434.3,301.2L432.7,308.0M437.4,292.6L450.0,303.5M450.0,303.5L447.2,309.9M472.2,292.6L462.0,305.8M462.0,305.8L455.5,303.4M489.6,292.6L475.7,301.9M475.7,301.9L470.3,297.5M507.0,292.6L493.4,302.3M496.0,300.5L493.2,298.3M524.4,292.6L514.9,306.3M516.7,303.8L513.4,302.7M559.3,292.6L543.1,296.7M546.1,295.9L544.3,292.9M576.7,292.6L589.4,303.4M589.4,303.4L586.6,309.9M594.1,292.6L607.8,302.0M605.3,300.3L604.2,303.6M611.5,292.6L626.9,299.1M626.9,299.1L626.2,306.1M628.9,292.6L644.5,298.6M644.5,298.6L644.1,305.6M646.3,292.6L661.9,298.5M661.9,298.5L661.6,305.5M663.7,292.6L679.7,297.5M679.7,297.5L679.7,304.5M681.1,292.6L696.9,298.1M696.9,298.1L696.6,305.1M698.5,292.6L714.2,298.3M714.2,298.3L713.9,305.3M716.0,292.6L731.7,298.3M731.7,298.3L731.3,305.3M733.4,292.6L749.1,298.0M749.1,298.0L748.9,305.0M750.8,292.6L766.4,298.5M766.4,298.5L766.0,305.5M768.2,292.6L783.2,300.0M783.2,300.0L782.1,306.9M785.6,292.6L800.1,300.8M800.1,300.8L798.6,307.7M803.0,292.6L817.5,300.9M817.5,300.9L816.0,307.8M820.4,292.6L834.9,300.9M834.9,300.9L833.4,307.8M837.8,292.6L852.2,301.0M852.2,301.0L850.7,307.8M855.2,292.6L869.7,301.0M869.7,301.0L868.1,307.8M872.6,292.6L887.1,300.9M887.1,300.9L885.6,307.8M890.1,292.6L904.5,301.0M904.5,301.0L902.9,307.8M907.5,292.6L921.4,301.7M921.4,301.7L919.5,308.5M924.9,292.6L938.1,302.8M938.1,302.8L935.7,309.3M936.5,301.5L935.3,304.8M942.3,292.6L955.3,303.1M955.3,303.1L952.7,309.6M953.6,301.8L952.4,305.0M959.7,292.6L973.0,302.6M973.0,302.6L970.7,309.2M971.4,301.4L970.2,304.7M977.1,292.6L991.8,300.6M991.8,300.6L990.4,307.5M989.9,299.6L989.2,303.0M994.5,292.6L1010.0,298.8M1010.0,298.8L1009.5,305.8M1011.9,292.6L1027.6,298.4M1027.6,298.4L1027.2,305.4M1029.3,292.6L1044.9,298.6M1044.9,298.6L1044.5,305.6M1046.7,292.6L1062.3,298.7M1062.3,298.7L1061.8,305.7M1064.1,292.6L1079.8,298.5M1079.8,298.5L1079.4,305.4M1081.6,292.6L1097.3,298.3M1097.3,298.3L1096.9,305.3M1099.0,292.6L1114.7,298.1M1114.7,298.1L1114.5,305.1M1112.8,297.4L1112.7,300.9M1116.4,292.6L1132.1,298.3M1132.1,298.3L1131.8,305.3M1130.1,297.6L1129.8,304.6M1133.8,292.6L1149.5,298.3M1149.5,298.3L1149.1,305.3M1147.5,297.6L1147.2,304.6M1151.2,292.6L1159.6,307.0M1159.6,307.0L1154.9,312.2M1158.6,305.2L1153.8,310.4M1168.6,292.6L1177.0,307.0M1177.0,307.0L1172.3,312.2M1175.9,305.2L1171.2,310.4M1186.0,292.6L1194.4,307.0M1194.4,307.0L1189.7,312.2M1193.4,305.2L1188.6,310.4M1203.4,292.6L1217.7,301.3M1217.7,301.3L1216.0,308.1M1215.9,300.2L1215.1,303.6M1220.8,292.6L1235.7,300.2M1235.7,300.2L1234.5,307.1M1233.8,299.3L1233.2,302.7M1238.2,292.6L1253.2,300.0M1253.2,300.0L1252.1,306.9M1255.7,292.6L1270.4,300.4M1270.4,300.4L1269.1,307.3M1268.6,299.5L1267.9,302.9M106.6,309.9L123.2,307.9M120.1,308.2L121.5,311.4M124.0,309.9L140.6,307.8M137.5,308.2L138.9,311.3M141.4,309.9L157.8,306.6M154.7,307.2L156.4,310.3M158.8,309.9L175.4,307.6M172.3,308.0L173.8,311.2M228.5,309.9L217.7,297.1M219.8,299.5L221.6,296.6M245.9,309.9L234.5,297.7M236.6,300.0L238.4,296.9M263.3,309.9L254.7,295.6M256.3,298.3L258.6,295.7M280.7,309.9L269.8,297.3M271.8,299.6L273.6,296.7M332.9,309.9L348.0,302.6M345.1,304.0L347.5,306.5M350.3,309.9L365.7,303.4M362.8,304.6L365.1,307.3M367.8,309.9L383.6,304.5M380.6,305.5L382.7,308.3M385.2,309.9L400.9,304.2M397.9,305.3L400.0,308.1M472.2,309.9L457.2,317.2M460.0,315.8L457.6,313.3M489.6,309.9L474.2,316.4M477.1,315.2L474.9,312.5M541.9,309.9L525.2,311.3M528.3,311.0L527.0,307.8M576.7,309.9L593.4,310.0M590.2,310.0L591.3,313.3M594.1,309.9L604.4,323.0M602.5,320.5L600.5,323.4M611.5,309.9L623.7,321.3M623.7,321.3L620.7,327.6M628.9,309.9L643.0,318.8M643.0,318.8L641.2,325.6M646.3,309.9L659.4,320.3M659.4,320.3L656.9,326.8M663.7,309.9L676.0,321.2M673.7,319.1L672.2,322.2M681.1,309.9L694.2,320.3M691.7,318.4L690.5,321.6M698.5,309.9L713.0,318.3M713.0,318.3L711.4,325.1M716.0,309.9L730.5,318.2M730.5,318.2L729.0,325.0M733.4,309.9L747.7,318.5M747.7,318.5L746.0,325.3M750.8,309.9L765.3,318.2M765.3,318.2L763.7,325.0M768.2,309.9L782.9,317.9M782.9,317.9L781.5,324.7M785.6,309.9L800.3,317.8M800.3,317.8L799.0,324.7M803.0,309.9L817.7,317.8M817.7,317.8L816.4,324.7M820.4,309.9L835.1,317.9M835.1,317.9L833.7,324.7M837.8,309.9L852.4,318.0M852.4,318.0L851.0,324.9M855.2,309.9L869.9,317.9M869.9,317.9L868.5,324.7M872.6,309.9L887.4,317.8M887.4,317.8L886.0,324.7M890.1,309.9L904.7,317.9M904.7,317.9L903.3,324.8M907.5,309.9L921.9,318.3M921.9,318.3L920.4,325.1M924.9,309.9L939.4,318.2M939.4,318.2L937.9,325.0M942.3,309.9L956.9,317.9M956.9,317.9L955.5,324.8M959.7,309.9L974.3,318.1M974.3,318.1L972.8,324.9M977.1,309.9L992.0,317.5M992.0,317.5L990.8,324.4M994.5,309.9L1009.7,316.9M1009.7,316.9L1008.8,323.8M1011.9,309.9L1027.1,316.9M1027.1,316.9L1026.2,323.8M1029.3,309.9L1044.6,316.8M1044.6,316.8L1043.7,323.7M1046.7,309.9L1062.1,316.6M1062.1,316.6L1061.3,323.5M1064.1,309.9L1079.5,316.4M1079.5,316.4L1078.9,323.4M1077.6,315.6L1077.3,319.1M1081.6,309.9L1097.0,316.3M1097.0,316.3L1096.3,323.3M1099.0,309.9L1115.1,314.2M1115.1,314.2L1115.4,321.2M1113.1,313.7L1113.2,317.2M1116.4,309.9L1132.5,314.2M1132.5,314.2L1132.8,321.2M1130.5,313.7L1130.8,320.7M1133.8,309.9L1149.9,314.2M1149.9,314.2L1150.2,321.2M1147.9,313.7L1148.2,320.7M1151.2,309.9L1167.6,312.9M1167.6,312.9L1168.5,319.8M1165.6,312.5L1166.4,319.4M1168.6,309.9L1181.4,320.6M1181.4,320.6L1178.7,327.1M1179.8,319.3L1177.1,325.7M1186.0,309.9L1199.7,319.5M1199.7,319.5L1197.6,326.2M1198.0,318.3L1195.9,325.0M1203.4,309.9L1217.8,318.4M1217.8,318.4L1216.2,325.2M1216.0,317.4L1215.2,320.8M1220.8,309.9L1235.3,318.3M1235.3,318.3L1233.8,325.1M1238.2,309.9L1252.7,318.2M1252.7,318.2L1251.2,325.0M1250.9,317.2L1250.2,320.6M1255.7,309.9L1270.2,318.1M1270.2,318.1L1268.7,325.0M1268.4,317.1L1267.6,320.5M106.6,327.2L123.2,325.2M120.1,325.6L121.5,328.7M124.0,327.2L140.6,325.1M137.5,325.5L138.9,328.7M141.4,327.2L157.9,324.6M154.8,325.1L156.4,328.2M158.8,327.2L175.3,324.6M172.2,325.1L173.8,328.2M211.1,327.2L202.0,313.2M203.7,315.8L205.9,313.1M228.5,327.2L217.1,315.0M219.2,317.3L221.0,314.2M245.9,327.2L234.7,314.8M236.8,317.1L238.6,314.1M263.3,327.2L253.7,313.5M255.5,316.1L257.6,313.3M332.9,327.2L348.6,321.5M345.7,322.6L347.8,325.4M350.3,327.2L366.8,324.4M363.7,325.0L365.3,328.1M367.8,327.2L383.1,333.8M380.2,332.5L379.9,336.0M402.6,327.2L419.1,329.7M419.1,329.7L420.2,336.6M420.0,327.2L433.6,336.8M433.6,336.8L431.5,343.5M437.4,327.2L442.4,343.1M441.5,340.1L438.6,342.1M454.8,327.2L457.0,343.8M456.6,340.7L453.4,342.1M472.2,327.2L455.7,324.8M458.8,325.2L458.2,321.8M489.6,327.2L473.3,330.7M476.3,330.0L474.6,327.0M507.0,327.2L490.8,331.2M493.9,330.5L492.0,327.5M524.4,327.2L508.6,322.0M511.5,323.0L511.6,319.5M541.9,327.2L529.5,316.0M531.8,318.1L533.2,314.9M559.3,327.2L552.8,311.8M554.0,314.7L556.6,312.4M594.1,327.2L603.7,340.9M601.9,338.3L599.7,341.1M611.5,327.2L621.5,340.6M619.6,338.1L617.6,340.9M628.9,327.2L641.1,338.6M641.1,338.6L638.0,344.9M646.3,327.2L658.3,338.8M656.0,336.7L654.5,339.8M663.7,327.2L675.5,339.0M673.3,336.8L671.7,339.9M681.1,327.2L693.2,338.8M690.9,336.6L689.3,339.7M698.5,327.2L712.2,336.8M712.2,336.8L710.0,343.5M716.0,327.2L730.1,336.0M730.1,336.0L728.4,342.8M733.4,327.2L747.5,336.0M747.5,336.0L745.8,342.8M750.8,327.2L765.0,336.0M765.0,336.0L763.2,342.8M768.2,327.2L782.7,335.5M782.7,335.5L781.2,342.3M785.6,327.2L800.3,335.1M800.3,335.1L799.0,341.9M803.0,327.2L817.7,335.0M817.7,335.0L816.5,341.9M820.4,327.2L835.1,335.1M835.1,335.1L833.8,341.9M837.8,327.2L852.5,335.2M852.5,335.2L851.1,342.0M855.2,327.2L870.0,335.1M870.0,335.1L868.7,341.9M872.6,327.2L887.4,335.0M887.4,335.0L886.1,341.9M890.1,327.2L904.8,335.1M904.8,335.1L903.5,341.9M907.5,327.2L922.1,335.2M922.1,335.2L920.8,342.1M924.9,327.2L939.6,335.1M939.6,335.1L938.3,341.9M942.3,327.2L957.0,335.0M957.0,335.0L955.7,341.9M959.7,327.2L974.4,335.0M974.4,335.0L973.1,341.9M977.1,327.2L992.0,334.7M992.0,334.7L990.9,341.6M994.5,327.2L1009.6,334.3M1009.6,334.3L1008.7,341.2M1011.9,327.2L1027.1,334.3M1027.1,334.3L1026.1,341.2M1029.3,327.2L1044.5,334.2M1044.5,334.2L1043.6,341.2M1046.7,327.2L1061.9,334.2M1061.9,334.2L1061.0,341.2M1064.1,327.2L1079.4,334.1M1079.4,334.1L1078.5,341.0M1081.6,327.2L1096.7,334.3M1096.7,334.3L1095.8,341.2M1099.0,327.2L1115.3,330.7M1115.3,330.7L1116.0,337.6M1113.3,330.2L1113.6,333.7M1116.4,327.2L1133.1,327.2M1133.1,327.2L1135.2,333.9M1131.0,327.2L1133.1,333.9M1133.8,327.2L1150.5,327.2M1150.5,327.2L1152.6,333.9M1148.4,327.2L1150.5,333.9M1151.2,327.2L1167.9,327.3M1167.9,327.3L1170.0,333.9M1165.8,327.2L1167.9,333.9M1168.6,327.2L1183.1,335.5M1183.1,335.5L1181.6,342.4M1181.3,334.5L1179.8,341.3M1186.0,327.2L1200.5,335.6M1200.5,335.6L1198.9,342.4M1198.7,334.5L1197.1,341.3M1203.4,327.2L1218.6,334.3M1218.6,334.3L1217.6,341.2M1216.7,333.4L1216.2,336.9M1220.8,327.2L1235.3,335.5M1235.3,335.5L1233.8,342.4M1238.2,327.2L1252.7,335.5M1252.7,335.5L1251.2,342.3M1255.7,327.2L1270.2,335.5M1270.2,335.5L1268.7,342.3M1268.4,334.4L1267.6,337.9M106.6,344.5L123.2,342.5M120.1,342.8L121.5,346.0M124.0,344.5L140.6,342.6M137.5,343.0L138.9,346.2M141.4,344.5L158.1,343.1M154.9,343.4L156.3,346.6M158.8,344.5L175.4,342.5M172.3,342.9L173.7,346.1M211.1,344.5L204.3,329.2M205.5,332.1L208.2,329.8M228.5,344.5L218.0,331.5M219.9,333.9L221.9,331.0M245.9,344.5L235.4,331.5M237.4,333.9L239.3,331.0M280.7,344.5L277.8,328.0M278.4,331.1L281.5,329.5M332.9,344.5L349.6,345.4M346.5,345.2L347.3,348.6M350.3,344.5L364.9,352.6M362.2,351.1L361.5,354.5M367.8,344.5L379.6,356.3M377.4,354.1L375.8,357.2M420.0,344.5L430.0,357.9M428.1,355.4L426.1,358.2M454.8,344.5L457.5,361.0M457.0,357.9L453.9,359.5M472.2,344.5L464.9,329.5M466.2,332.3L468.8,329.9M524.4,344.5L540.3,349.7M537.3,348.7L537.3,352.2M541.9,344.5L550.2,330.0M548.6,332.8L552.1,333.5M559.3,344.5L575.0,339.0M572.1,340.0L574.2,342.8M576.7,344.5L592.7,349.1M589.7,348.3L589.8,351.8M594.1,344.5L604.7,357.4M602.7,355.0L600.8,357.9M611.5,344.5L622.2,357.3M620.2,354.9L618.3,357.8M628.9,344.5L641.0,356.0M638.7,353.9L637.2,357.0M646.3,344.5L658.7,355.7M656.3,353.6L654.9,356.8M663.7,344.5L675.8,356.0M673.5,353.9L672.0,357.0M681.1,344.5L693.6,355.6M691.3,353.5L689.9,356.7M698.5,344.5L712.2,354.1M712.2,354.1L710.1,360.8M716.0,344.5L730.1,353.4M730.1,353.4L728.3,360.1M733.4,344.5L747.5,353.3M747.5,353.3L745.8,360.1M750.8,344.5L765.0,353.3M765.0,353.3L763.3,360.0M768.2,344.5L782.6,352.9M782.6,352.9L781.1,359.7M785.6,344.5L800.3,352.5M800.3,352.5L798.9,359.3M803.0,344.5L817.7,352.4M817.7,352.4L816.4,359.3M820.4,344.5L835.1,352.4M835.1,352.4L833.8,359.3M837.8,344.5L852.5,352.5M852.5,352.5L851.1,359.4M855.2,344.5L870.0,352.4M870.0,352.4L868.6,359.3M872.6,344.5L887.4,352.4M887.4,352.4L886.1,359.2M890.1,344.5L904.8,352.4M904.8,352.4L903.5,359.3M907.5,344.5L922.2,352.4M922.2,352.4L920.8,359.3M924.9,344.5L939.6,352.4M939.6,352.4L938.3,359.2M942.3,344.5L957.0,352.3M957.0,352.3L955.7,359.2M959.7,344.5L974.5,352.3M974.5,352.3L973.2,359.2M977.1,344.5L992.1,351.9M992.1,351.9L990.9,358.8M994.5,344.5L1009.6,351.6M1009.6,351.6L1008.7,358.5M1011.9,344.5L1027.1,351.5M1027.1,351.5L1026.1,358.5M1029.3,344.5L1044.5,351.6M1044.5,351.6L1043.5,358.5M1046.7,344.5L1061.9,351.6M1061.9,351.6L1060.9,358.5M1064.1,344.5L1079.4,351.3M1079.4,351.3L1078.6,358.2M1081.6,344.5L1096.9,351.0M1096.9,351.0L1096.3,358.0M1099.0,344.5L1115.5,347.2M1115.5,347.2L1116.4,354.1M1113.4,346.9L1113.9,350.3M1116.4,344.5L1133.0,346.0M1133.0,346.0L1134.5,352.8M1130.9,345.8L1131.7,349.2M1133.8,344.5L1150.4,346.0M1150.4,346.0L1151.9,352.8M1148.3,345.8L1149.1,349.2M1151.2,344.5L1167.9,344.5M1167.9,344.5L1170.0,351.2M1165.8,344.5L1166.9,347.9M1168.6,344.5L1184.6,349.3M1184.6,349.3L1184.7,356.3M1182.6,348.7L1182.7,355.7M1186.0,344.5L1200.8,352.3M1200.8,352.3L1199.5,359.2M1198.9,351.3L1197.7,358.2M1203.4,344.5L1218.3,352.1M1218.3,352.1L1217.1,359.0M1216.4,351.2L1215.8,354.6M1220.8,344.5L1235.4,352.6M1235.4,352.6L1234.0,359.5M1233.6,351.6L1232.9,355.1M1238.2,344.5L1252.8,352.7M1252.8,352.7L1251.3,359.6M1255.7,344.5L1270.2,352.7M1270.2,352.7L1268.7,359.6M1268.4,351.7L1267.7,355.1M106.6,361.8L123.3,362.0M120.2,362.0L121.2,365.3M124.0,361.8L140.7,362.3M137.6,362.2L138.5,365.5M141.4,361.8L158.1,363.0M155.0,362.7L155.8,366.1M158.8,361.8L175.5,363.2M172.4,362.9L173.1,366.3M193.6,361.8L206.8,372.1M204.3,370.1L203.1,373.4M211.1,361.8L223.7,372.7M221.3,370.7L219.9,373.9M263.3,361.8L261.9,345.2M262.1,348.3L265.4,347.0M280.7,361.8L289.0,347.3M287.5,350.0L290.9,350.8M385.2,361.8L397.6,373.0M395.2,370.9L393.8,374.1M420.0,361.8L428.5,376.1M426.9,373.4L424.6,376.1M454.8,361.8L457.5,378.3M457.0,375.2L453.8,376.8M472.2,361.8L475.7,378.1M475.0,375.1L472.0,376.8M489.6,361.8L490.6,378.5M490.5,375.3L487.2,376.6M507.0,361.8L512.0,377.7M511.1,374.8L508.2,376.7M524.4,361.8L528.8,377.9M528.0,374.9L525.0,376.8M541.9,361.8L558.2,365.0M555.2,364.4L555.5,367.9M559.3,361.8L575.5,365.9M572.4,365.1L572.6,368.6M576.7,361.8L587.4,374.6M585.4,372.2L583.5,375.1M594.1,361.8L605.1,374.4M603.0,372.0L601.2,375.0M611.5,361.8L622.9,374.0M620.8,371.7L619.0,374.8M628.9,361.8L641.4,372.9M639.1,370.8L637.6,374.0M646.3,361.8L660.3,371.0M657.7,369.2L656.7,372.6M663.7,361.8L678.0,370.4M675.3,368.8L674.5,372.2M681.1,361.8L695.3,370.7M692.6,369.0L691.7,372.4M698.5,361.8L712.6,370.9M709.9,369.2L709.0,372.5M716.0,361.8L730.1,370.7M730.1,370.7L728.3,377.4M733.4,361.8L747.5,370.6M747.5,370.6L745.8,377.4M750.8,361.8L765.0,370.6M765.0,370.6L763.2,377.4M768.2,361.8L782.5,370.4M782.5,370.4L780.9,377.2M785.6,361.8L800.1,370.1M800.1,370.1L798.5,377.0M803.0,361.8L817.5,370.1M817.5,370.1L816.0,377.0M820.4,361.8L834.9,370.1M834.9,370.1L833.4,376.9M837.8,361.8L852.4,369.9M852.4,369.9L851.0,376.8M855.2,361.8L869.9,369.7M869.9,369.7L868.6,376.6M872.6,361.8L887.4,369.7M887.4,369.7L886.1,376.5M890.1,361.8L904.8,369.7M904.8,369.7L903.5,376.5M907.5,361.8L922.2,369.7M922.2,369.7L920.9,376.6M924.9,361.8L939.6,369.6M939.6,369.6L938.3,376.5M942.3,361.8L957.0,369.6M957.0,369.6L955.7,376.5M959.7,361.8L974.5,369.6M974.5,369.6L973.2,376.5M977.1,361.8L992.1,369.2M992.1,369.2L991.0,376.1M994.5,361.8L1009.6,368.9M1009.6,368.9L1008.7,375.8M1011.9,361.8L1027.1,368.9M1027.1,368.9L1026.1,375.8M1029.3,361.8L1044.5,368.8M1044.5,368.8L1043.6,375.8M1046.7,361.8L1061.9,368.8M1061.9,368.8L1061.0,375.7M1064.1,361.8L1079.3,368.7M1079.3,368.7L1078.5,375.7M1081.6,361.8L1096.7,368.8M1096.7,368.8L1095.8,375.8M1099.0,361.8L1114.8,367.2M1114.8,367.2L1114.6,374.2M1116.4,361.8L1132.9,364.0M1132.9,364.0L1134.1,370.9M1130.9,363.7L1131.5,367.2M1133.8,361.8L1150.3,364.3M1150.3,364.3L1151.3,371.3M1148.2,364.0L1148.8,367.5M1151.2,361.8L1167.4,366.0M1167.4,366.0L1167.7,373.0M1165.3,365.5L1165.5,369.0M1168.6,361.8L1184.5,366.9M1184.5,366.9L1184.5,373.9M1182.5,366.2L1182.5,369.7M1186.0,361.8L1201.2,368.7M1201.2,368.7L1200.4,375.7M1199.3,367.8L1198.9,371.3M1203.4,361.8L1218.1,369.8M1218.1,369.8L1216.8,376.6M1216.3,368.8L1215.6,372.2M1220.8,361.8L1235.3,370.1M1235.3,370.1L1233.8,376.9M1238.2,361.8L1252.8,370.1M1252.8,370.1L1251.3,376.9M1255.7,361.8L1270.2,370.0M1270.2,370.0L1268.8,376.8M1268.4,368.9L1267.7,372.4M106.6,379.1L123.0,382.0M120.0,381.5L120.4,384.9M124.0,379.1L140.4,382.1M137.4,381.5L137.8,385.0M141.4,379.1L157.7,382.6M154.7,382.0L155.0,385.5M158.8,379.1L175.0,383.5M171.9,382.6L172.1,386.1M176.2,379.1L192.3,383.5M189.3,382.7L189.4,386.2M193.6,379.1L207.3,388.7M204.8,386.9L203.7,390.2M211.1,379.1L223.1,390.7M220.8,388.5L219.3,391.6M228.5,379.1L240.9,390.2M238.6,388.2L237.1,391.3M245.9,379.1L261.4,372.8M258.5,374.0L260.7,376.7M263.3,379.1L267.9,363.1M267.1,366.1L270.6,366.0M298.1,379.1L303.3,395.0M302.3,392.0L299.5,394.0M315.5,379.1L326.2,391.9M324.2,389.5L322.3,392.4M332.9,379.1L344.7,391.0M342.5,388.8L340.8,391.8M350.3,379.1L362.2,390.9M360.0,388.6L358.4,391.8M367.8,379.1L378.5,391.9M376.5,389.5L374.6,392.4M385.2,379.1L396.3,391.5M394.2,389.2L392.4,392.2M402.6,379.1L415.4,389.7M413.0,387.7L411.7,391.0M420.0,379.1L428.1,393.7M426.6,391.0L424.2,393.5M437.4,379.1L440.6,395.5M440.0,392.4L436.9,394.1M454.8,379.1L457.7,395.5M457.2,392.5L454.1,394.1M472.2,379.1L475.5,395.5M474.9,392.4L471.8,394.1M489.6,379.1L493.1,395.4M492.4,392.4L489.4,394.1M507.0,379.1L510.3,395.5M509.7,392.4L506.6,394.1M524.4,379.1L527.4,395.5M526.8,392.5L523.7,394.1M541.9,379.1L548.6,394.4M547.3,391.5L544.7,393.8M559.3,379.1L569.2,392.5M567.3,390.0L565.2,392.8M576.7,379.1L583.8,394.2M582.5,391.4L579.9,393.7M594.1,379.1L605.9,390.9M603.7,388.7L602.0,391.8M611.5,379.1L623.0,391.2M620.9,388.9L619.2,392.0M628.9,379.1L641.6,389.9M639.2,387.9L637.8,391.1M646.3,379.1L660.7,387.6M658.0,386.0L657.2,389.4M663.7,379.1L678.2,387.5M675.5,385.9L674.7,389.3M681.1,379.1L695.5,387.5M692.8,385.9L692.1,389.4M698.5,379.1L712.7,387.9M710.1,386.3L709.2,389.7M716.0,379.1L730.1,388.0M730.1,388.0L728.3,394.7M733.4,379.1L747.5,387.9M747.5,387.9L745.8,394.7M750.8,379.1L764.9,387.9M764.9,387.9L763.2,394.7M768.2,379.1L782.5,387.8M782.5,387.8L780.8,394.6M785.6,379.1L800.0,387.5M800.0,387.5L798.5,394.3M803.0,379.1L817.5,387.5M817.5,387.5L815.9,394.3M820.4,379.1L834.9,387.5M834.9,387.5L833.3,394.3M837.8,379.1L852.4,387.3M852.4,387.3L850.9,394.1M855.2,379.1L870.0,387.0M870.0,387.0L868.7,393.8M872.6,379.1L887.4,386.9M887.4,386.9L886.1,393.8M890.1,379.1L904.8,386.9M904.8,386.9L903.5,393.8M907.5,379.1L922.2,387.0M922.2,387.0L920.9,393.8M924.9,379.1L939.6,386.9M939.6,386.9L938.3,393.8M942.3,379.1L957.0,386.9M957.0,386.9L955.7,393.8M959.7,379.1L974.4,386.9M974.4,386.9L973.2,393.8M977.1,379.1L992.1,386.5M992.1,386.5L991.0,393.4M994.5,379.1L1009.6,386.2M1009.6,386.2L1008.7,393.1M1011.9,379.1L1027.1,386.2M1027.1,386.2L1026.1,393.1M1029.3,379.1L1044.5,386.1M1044.5,386.1L1043.6,393.1M1046.7,379.1L1061.9,386.0M1061.9,386.0L1061.1,393.0M1064.1,379.1L1079.3,386.1M1079.3,386.1L1078.4,393.1M1081.6,379.1L1096.7,386.2M1096.7,386.2L1095.8,393.1M1099.0,379.1L1114.2,385.9M1114.2,385.9L1113.4,392.8M1116.4,379.1L1132.3,384.2M1132.3,384.2L1132.2,391.2M1130.3,383.5L1130.3,387.0M1133.8,379.1L1148.8,386.4M1148.8,386.4L1147.8,393.3M1151.2,379.1L1165.7,387.4M1165.7,387.4L1164.1,394.3M1168.6,379.1L1183.4,386.9M1183.4,386.9L1182.1,393.8M1186.0,379.1L1201.0,386.4M1201.0,386.4L1200.0,393.3M1199.2,385.5L1198.6,389.0M1203.4,379.1L1218.0,387.3M1218.0,387.3L1216.5,394.2M1220.8,379.1L1235.3,387.4M1235.3,387.4L1233.8,394.3M1238.2,379.1L1252.7,387.4M1252.7,387.4L1251.2,394.3M1255.7,379.1L1270.2,387.3M1270.2,387.3L1268.8,394.1M106.6,396.4L122.7,400.7M119.7,399.9L119.9,403.4M124.0,396.4L140.1,400.7M137.1,399.9L137.3,403.4M141.4,396.4L157.4,401.1M154.4,400.2L154.5,403.7M158.8,396.4L174.5,402.1M171.6,401.0L171.4,404.5M176.2,396.4L191.4,403.4M188.6,402.1L188.1,405.6M193.6,396.4L208.6,403.9M205.8,402.5L205.2,405.9M211.1,396.4L224.3,406.6M221.8,404.7L220.6,408.0M228.5,396.4L242.6,405.2M240.0,403.6L239.1,407.0M245.9,396.4L258.9,406.8M256.5,404.9L255.2,408.1M263.3,396.4L279.5,400.4M276.5,399.7L276.7,403.1M280.7,396.4L297.2,398.9M294.1,398.4L294.7,401.9M298.1,396.4L308.0,409.9M306.1,407.4L304.0,410.2M315.5,396.4L328.3,407.2M325.9,405.2L324.5,408.4M332.9,396.4L345.8,407.0M343.4,405.1L342.1,408.3M350.3,396.4L363.6,406.5M361.2,404.6L360.0,407.9M367.8,396.4L379.4,408.3M377.3,406.1L375.6,409.2M385.2,396.4L398.4,406.6M395.9,404.7L394.7,408.0M402.6,396.4L417.9,403.0M415.0,401.8L414.6,405.3M420.0,396.4L431.4,408.6M429.2,406.3L427.5,409.4M437.4,396.4L442.9,412.2M441.8,409.2L439.0,411.3M454.8,396.4L459.8,412.3M458.8,409.4L456.0,411.3M472.2,396.4L477.5,412.3M476.5,409.3L473.6,411.3M489.6,396.4L495.3,412.1M494.2,409.2L491.5,411.3M507.0,396.4L512.7,412.1M511.6,409.2L508.8,411.3M524.4,396.4L530.3,412.1M529.2,409.1L526.4,411.3M541.9,396.4L549.0,411.5M547.7,408.6L545.1,411.0M559.3,396.4L568.7,410.2M566.9,407.6L564.8,410.3M576.7,396.4L585.8,410.4M584.1,407.7L581.9,410.4M594.1,396.4L604.6,409.4M602.6,407.0L600.6,409.9M611.5,396.4L622.9,408.6M620.8,406.3L619.1,409.3M628.9,396.4L641.7,407.1M639.3,405.1L638.0,408.3M646.3,396.4L660.5,405.2M657.9,403.5L657.0,406.9M663.7,396.4L678.1,404.8M675.4,403.2L674.7,406.7M681.1,396.4L695.5,404.9M692.8,403.3L692.0,406.7M698.5,396.4L712.7,405.3M712.7,405.3L710.9,412.0M716.0,396.4L730.0,405.4M730.0,405.4L728.2,412.1M733.4,396.4L747.5,405.3M747.5,405.3L745.7,412.1M750.8,396.4L764.9,405.3M764.9,405.3L763.1,412.1M768.2,396.4L782.3,405.3M782.3,405.3L780.6,412.0M785.6,396.4L799.9,405.0M799.9,405.0L798.3,411.8M803.0,396.4L817.4,404.8M817.4,404.8L815.8,411.7M820.4,396.4L834.8,404.9M834.8,404.9L833.2,411.7M837.8,396.4L852.3,404.7M852.3,404.7L850.8,411.6M855.2,396.4L869.9,404.4M869.9,404.4L868.6,411.2M872.6,396.4L887.4,404.3M887.4,404.3L886.1,411.2M890.1,396.4L904.8,404.3M904.8,404.3L903.4,411.2M907.5,396.4L922.2,404.3M922.2,404.3L920.9,411.2M924.9,396.4L939.6,404.2M939.6,404.2L938.3,411.1M942.3,396.4L957.0,404.2M957.0,404.2L955.7,411.1M959.7,396.4L974.5,404.2M974.5,404.2L973.2,411.1M977.1,396.4L992.1,403.8M992.1,403.8L991.0,410.7M994.5,396.4L1009.6,403.5M1009.6,403.5L1008.7,410.4M1011.9,396.4L1027.1,403.5M1027.1,403.5L1026.1,410.4M1029.3,396.4L1044.5,403.4M1044.5,403.4L1043.6,410.4M1046.7,396.4L1061.9,403.3M1061.9,403.3L1061.1,410.3M1064.1,396.4L1079.3,403.4M1079.3,403.4L1078.4,410.3M1081.6,396.4L1096.7,403.4M1096.7,403.4L1095.8,410.3M1099.0,396.4L1114.2,403.2M1114.2,403.2L1113.4,410.1M1116.4,396.4L1131.8,402.7M1131.8,402.7L1131.2,409.7M1133.8,396.4L1148.8,403.8M1148.8,403.8L1147.7,410.7M1146.9,402.9L1146.3,406.3M1151.2,396.4L1165.8,404.5M1165.8,404.5L1164.4,411.3M1168.6,396.4L1183.4,404.1M1183.4,404.1L1182.2,411.0M1186.0,396.4L1200.9,403.9M1200.9,403.9L1199.8,410.8M1199.1,403.0L1198.5,406.4M1203.4,396.4L1218.0,404.5M1218.0,404.5L1216.6,411.3M1220.8,396.4L1235.3,404.7M1235.3,404.7L1233.8,411.5M1238.2,396.4L1252.8,404.6M1252.8,404.6L1251.3,411.5M1251.0,403.6L1250.2,407.0M1255.7,396.4L1270.3,404.4M1270.3,404.4L1268.9,411.3M1268.5,403.4L1267.8,406.9M106.6,413.7L122.3,419.4M119.4,418.3L119.2,421.8M124.0,413.7L139.8,419.3M136.8,418.2L136.7,421.7M141.4,413.7L157.2,419.3M154.2,418.2L154.1,421.7M158.8,413.7L174.0,420.7M171.1,419.4L170.7,422.9M176.2,413.7L191.0,421.5M188.2,420.1L187.6,423.5M193.6,413.7L208.4,421.6M205.6,420.1L205.0,423.5M211.1,413.7L225.6,422.0M222.8,420.4L222.1,423.9M228.5,413.7L242.4,422.9M239.8,421.1L238.9,424.5M245.9,413.7L258.7,424.4M256.3,422.4L255.0,425.6M263.3,413.7L276.7,423.6M274.2,421.7L273.1,425.1M280.7,413.7L295.9,420.6M293.0,419.3L292.6,422.8M298.1,413.7L312.7,421.9M309.9,420.4L309.2,423.8M315.5,413.7L328.9,423.7M326.4,421.8L325.2,425.1M332.9,413.7L345.8,424.4M343.4,422.4L342.0,425.6M350.3,413.7L365.3,421.2M362.5,419.8L361.9,423.3M367.8,413.7L384.2,416.6M381.1,416.0L381.6,419.5M385.2,413.7L401.8,414.8M398.7,414.6L399.5,418.0M402.6,413.7L419.2,415.0M416.1,414.8L416.9,418.2M420.0,413.7L435.8,419.2M432.8,418.1L432.7,421.6M437.4,413.7L444.1,429.0M442.8,426.1L440.2,428.4M454.8,413.7L460.6,429.4M459.5,426.4L456.7,428.6M472.2,413.7L479.6,428.7M478.2,425.9L475.7,428.3M489.6,413.7L497.4,428.5M496.0,425.7L493.5,428.2M507.0,413.7L514.1,428.8M512.8,426.0L510.2,428.3M524.4,413.7L531.5,428.8M530.2,426.0L527.6,428.4M541.9,413.7L551.1,427.6M549.4,425.0L547.2,427.7M559.3,413.7L569.9,426.5M567.9,424.1L566.0,427.1M576.7,413.7L586.3,427.4M584.5,424.8L582.3,427.6M594.1,413.7L605.5,425.8M603.4,423.6L601.7,426.6M611.5,413.7L624.5,424.1M622.1,422.2L620.8,425.4M628.9,413.7L642.3,423.7M639.8,421.8L638.6,425.1M646.3,413.7L660.6,422.4M657.9,420.8L657.1,424.1M663.7,413.7L678.1,422.1M675.4,420.5L674.7,423.9M681.1,413.7L695.5,422.2M692.8,420.6L692.0,424.0M698.5,413.7L712.6,422.7M710.0,421.0L709.0,424.4M716.0,413.7L729.7,423.1M729.7,423.1L727.7,429.8M733.4,413.7L747.1,423.2M747.1,423.2L745.0,429.9M750.8,413.7L764.5,423.1M764.5,423.1L762.5,429.8M768.2,413.7L782.1,423.0M782.1,423.0L780.1,429.7M785.6,413.7L799.4,423.1M799.4,423.1L797.4,429.8M803.0,413.7L816.7,423.2M816.7,423.2L814.7,429.9M820.4,413.7L834.3,423.0M834.3,423.0L832.3,429.7M837.8,413.7L852.1,422.4M852.1,422.4L850.4,429.2M855.2,413.7L869.7,422.0M869.7,422.0L868.2,428.9M872.6,413.7L887.1,422.0M887.1,422.0L885.6,428.8M890.1,413.7L904.6,421.9M904.6,421.9L903.1,428.8M907.5,413.7L922.1,421.7M922.1,421.7L920.8,428.5M924.9,413.7L939.6,421.5M939.6,421.5L938.3,428.4M942.3,413.7L957.0,421.5M957.0,421.5L955.7,428.4M959.7,413.7L974.5,421.5M974.5,421.5L973.2,428.4M977.1,413.7L992.1,421.1M992.1,421.1L991.0,428.0M994.5,413.7L1009.6,420.8M1009.6,420.8L1008.7,427.7M1011.9,413.7L1027.1,420.8M1027.1,420.8L1026.1,427.7M1029.3,413.7L1044.5,420.7M1044.5,420.7L1043.6,427.7M1046.7,413.7L1061.9,420.6M1061.9,420.6L1061.0,427.6M1064.1,413.7L1079.3,420.7M1079.3,420.7L1078.4,427.6M1081.6,413.7L1096.7,420.7M1096.7,420.7L1095.8,427.7M1099.0,413.7L1114.2,420.6M1114.2,420.6L1113.3,427.6M1116.4,413.7L1131.6,420.6M1131.6,420.6L1130.7,427.6M1133.8,413.7L1148.7,421.2M1148.7,421.2L1147.5,428.1M1151.2,413.7L1166.0,421.5M1166.0,421.5L1164.7,428.4M1168.6,413.7L1183.4,421.4M1183.4,421.4L1182.2,428.3M1181.6,420.4L1181.0,423.9M1186.0,413.7L1200.9,421.3M1200.9,421.3L1199.7,428.2M1203.4,413.7L1218.2,421.5M1218.2,421.5L1216.9,428.4M1220.8,413.7L1235.6,421.6M1235.6,421.6L1234.3,428.4M1238.2,413.7L1253.0,421.6M1253.0,421.6L1251.7,428.4M1255.7,413.7L1270.4,421.5M1270.4,421.5L1269.1,428.4M106.6,431.0L121.7,438.0M118.9,436.7L118.4,440.2M124.0,431.0L139.3,437.7M136.4,436.5L136.0,439.9M141.4,431.0L157.0,437.0M154.1,435.9L153.8,439.4M158.8,431.0L174.1,437.9M171.2,436.6L170.8,440.1M176.2,431.0L191.0,438.7M188.3,437.3L187.6,440.7M193.6,431.0L207.9,439.8M205.2,438.1L204.3,441.5M211.1,431.0L225.4,439.6M222.7,438.0L221.9,441.4M228.5,431.0L243.0,439.3M240.3,437.7L239.5,441.1M245.9,431.0L259.5,440.6M257.0,438.8L255.9,442.1M263.3,431.0L278.3,438.3M275.5,436.9L275.0,440.4M280.7,431.0L295.8,438.1M293.0,436.7L292.5,440.2M298.1,431.0L313.8,436.6M310.9,435.6L310.7,439.1M315.5,431.0L331.7,435.0M328.7,434.3L328.9,437.8M332.9,431.0L349.1,435.4M346.0,434.5L346.2,438.0M350.3,431.0L367.0,431.2M363.9,431.1L364.9,434.5M367.8,431.0L384.0,427.2M381.0,427.9L382.7,431.0M385.2,431.0L401.8,429.1M398.6,429.5L400.1,432.7M402.6,431.0L419.2,432.4M416.1,432.1L416.9,435.6M420.0,431.0L436.7,430.0M433.5,430.2L434.8,433.5M437.4,431.0L451.1,440.5M448.5,438.7L447.5,442.1M454.8,431.0L467.4,442.0M465.0,439.9L463.6,443.1M472.2,431.0L483.9,443.0M481.7,440.7L480.0,443.8M489.6,431.0L499.9,444.2M498.0,441.7L496.0,444.6M507.0,431.0L515.4,445.5M513.8,442.7L511.5,445.3M524.4,431.0L533.8,444.8M532.1,442.2L529.9,445.0M541.9,431.0L555.3,440.8M552.8,439.0L551.7,442.3M559.3,431.0L572.8,440.8M570.2,439.0L569.1,442.3M576.7,431.0L589.8,441.3M587.4,439.3L586.1,442.6M594.1,431.0L608.5,439.4M605.8,437.8L605.1,441.2M611.5,431.0L625.7,439.8M623.0,438.1L622.2,441.5M628.9,431.0L642.8,440.3M640.2,438.5L639.2,441.9M646.3,431.0L660.7,439.4M658.0,437.9L657.2,441.3M663.7,431.0L678.2,439.4M675.5,437.8L674.7,441.2M681.1,431.0L695.6,439.4M692.8,437.8L692.1,441.3M698.5,431.0L712.5,440.1M712.5,440.1L710.6,446.9M716.0,431.0L729.6,440.6M729.6,440.6L727.5,447.2M733.4,431.0L747.0,440.6M747.0,440.6L744.9,447.2M750.8,431.0L764.5,440.6M764.5,440.6L762.3,447.2M768.2,431.0L781.9,440.5M781.9,440.5L779.8,447.2M785.6,431.0L799.3,440.6M799.3,440.6L797.2,447.2M803.0,431.0L816.7,440.6M816.7,440.6L814.6,447.2M820.4,431.0L834.1,440.5M834.1,440.5L832.0,447.2M837.8,431.0L852.0,439.9M852.0,439.9L850.2,446.6M855.2,431.0L869.7,439.4M869.7,439.4L868.1,446.2M872.6,431.0L887.1,439.3M887.1,439.3L885.6,446.2M890.1,431.0L904.5,439.3M904.5,439.3L903.0,446.2M907.5,431.0L922.1,439.0M922.1,439.0L920.7,445.9M924.9,431.0L939.6,438.8M939.6,438.8L938.3,445.7M942.3,431.0L957.0,438.8M957.0,438.8L955.7,445.7M959.7,431.0L974.5,438.8M974.5,438.8L973.2,445.7M977.1,431.0L992.1,438.4M992.1,438.4L991.0,445.3M994.5,431.0L1009.6,438.1M1009.6,438.1L1008.7,445.0M1011.9,431.0L1027.1,438.1M1027.1,438.1L1026.1,445.0M1029.3,431.0L1044.5,438.0M1044.5,438.0L1043.5,445.0M1046.7,431.0L1061.9,438.0M1061.9,438.0L1061.0,444.9M1064.1,431.0L1079.3,438.0M1079.3,438.0L1078.4,445.0M1081.6,431.0L1096.7,438.1M1096.7,438.1L1095.8,445.0M1099.0,431.0L1114.1,438.0M1114.1,438.0L1113.2,445.0M1116.4,431.0L1131.5,438.2M1131.5,438.2L1130.5,445.1M1133.8,431.0L1148.6,438.8M1148.6,438.8L1147.3,445.7M1151.2,431.0L1165.9,438.8M1165.9,438.8L1164.7,445.7M1168.6,431.0L1183.4,438.8M1183.4,438.8L1182.1,445.7M1186.0,431.0L1200.9,438.6M1200.9,438.6L1199.7,445.5M1203.4,431.0L1218.2,438.8M1218.2,438.8L1216.9,445.7M1220.8,431.0L1235.6,438.8M1235.6,438.8L1234.3,445.7M1238.2,431.0L1253.0,438.8M1253.0,438.8L1251.7,445.7M1255.7,431.0L1270.5,438.7M1270.5,438.7L1269.2,445.6M106.6,448.3L121.7,455.3M118.9,454.0L118.4,457.5M124.0,448.3L139.3,455.0M136.4,453.8L136.0,457.2M141.4,448.3L157.1,454.0M154.2,453.0L154.0,456.5M158.8,448.3L174.5,454.1M171.5,453.0L171.4,456.5M176.2,448.3L191.4,455.2M188.6,453.9L188.1,457.4M193.6,448.3L208.8,455.4M205.9,454.1L205.5,457.5M211.1,448.3L226.1,455.5M223.3,454.1L222.8,457.6M228.5,448.3L243.8,454.9M240.9,453.7L240.5,457.2M245.9,448.3L261.5,454.3M258.5,453.2L258.3,456.7M263.3,448.3L279.0,454.0M276.0,453.0L275.9,456.5M280.7,448.3L296.3,454.1M293.4,453.0L293.2,456.5M298.1,448.3L314.7,450.5M311.6,450.1L312.2,453.5M315.5,448.3L332.2,448.3M329.1,448.3L330.1,451.6M332.9,448.3L349.6,449.1M346.5,449.0L347.4,452.4M350.3,448.3L366.8,445.4M363.7,446.0L365.3,449.1M367.8,448.3L383.5,442.6M380.5,443.7L382.6,446.5M385.2,448.3L400.7,442.1M397.7,443.2L400.0,445.9M402.6,448.3L418.3,442.6M415.3,443.7L417.4,446.5M420.0,448.3L436.3,444.8M433.3,445.5L435.0,448.5M437.4,448.3L453.2,453.8M450.2,452.8L450.1,456.3M454.8,448.3L467.7,458.9M465.3,456.9L464.0,460.1M472.2,448.3L485.5,458.4M483.0,456.5L481.8,459.8M489.6,448.3L502.4,459.1M500.0,457.1L498.6,460.3M507.0,448.3L518.8,460.2M516.6,457.9L514.9,461.0M524.4,448.3L537.3,459.0M534.9,457.0L533.6,460.2M541.9,448.3L555.5,457.9M552.9,456.1L551.9,459.4M559.3,448.3L572.9,457.9M570.4,456.1L569.3,459.4M576.7,448.3L590.4,457.8M587.9,456.0L586.8,459.3M594.1,448.3L608.3,457.0M605.7,455.4L604.8,458.8M611.5,448.3L625.6,457.3M622.9,455.6L622.0,459.0M628.9,448.3L642.8,457.6M640.2,455.8L639.2,459.2M646.3,448.3L660.5,457.1M657.9,455.4L657.0,458.8M663.7,448.3L678.1,456.8M675.4,455.2L674.6,458.6M681.1,448.3L695.4,457.1M692.7,455.4L691.8,458.8M698.5,448.3L712.3,457.7M712.3,457.7L710.3,464.4M716.0,448.3L729.6,458.0M729.6,458.0L727.4,464.6M733.4,448.3L747.0,457.9M747.0,457.9L744.8,464.6M750.8,448.3L764.4,458.0M764.4,458.0L762.2,464.7M768.2,448.3L781.8,458.0M781.8,458.0L779.6,464.7M785.6,448.3L799.2,457.9M799.2,457.9L797.1,464.6M803.0,448.3L816.7,457.9M816.7,457.9L814.5,464.6M820.4,448.3L834.1,457.9M834.1,457.9L832.0,464.5M837.8,448.3L851.9,457.3M851.9,457.3L850.1,464.0M855.2,448.3L869.7,456.7M869.7,456.7L868.1,463.5M872.6,448.3L887.1,456.6M887.1,456.6L885.6,463.5M890.1,448.3L904.6,456.6M904.6,456.6L903.1,463.4M907.5,448.3L922.2,456.2M922.2,456.2L920.8,463.1M924.9,448.3L939.7,456.0M939.7,456.0L938.4,462.9M942.3,448.3L957.1,456.1M957.1,456.1L955.8,463.0M959.7,448.3L974.5,456.0M974.5,456.0L973.3,462.9M977.1,448.3L992.1,455.6M992.1,455.6L991.1,462.5M994.5,448.3L1009.6,455.4M1009.6,455.4L1008.7,462.3M1011.9,448.3L1027.1,455.4M1027.1,455.4L1026.1,462.3M1029.3,448.3L1044.5,455.3M1044.5,455.3L1043.6,462.3M1046.7,448.3L1061.9,455.3M1061.9,455.3L1061.0,462.2M1064.1,448.3L1079.3,455.3M1079.3,455.3L1078.4,462.3M1081.6,448.3L1096.7,455.3M1096.7,455.3L1095.8,462.3M1099.0,448.3L1114.1,455.3M1114.1,455.3L1113.2,462.3M1116.4,448.3L1131.5,455.5M1131.5,455.5L1130.5,462.4M1133.8,448.3L1148.7,455.9M1148.7,455.9L1147.5,462.8M1151.2,448.3L1166.0,456.1M1166.0,456.1L1164.7,462.9M1168.6,448.3L1183.5,455.9M1183.5,455.9L1182.3,462.8M1186.0,448.3L1200.9,455.8M1200.9,455.8L1199.8,462.7M1203.4,448.3L1218.3,456.0M1218.3,456.0L1217.0,462.9M1220.8,448.3L1235.6,456.1M1235.6,456.1L1234.4,463.0M1238.2,448.3L1253.1,456.0M1253.1,456.0L1251.9,462.9M1255.7,448.3L1270.6,455.8M1270.6,455.8L1269.4,462.7M106.6,465.6L122.3,471.3M119.4,470.2L119.2,473.7M124.0,465.6L139.8,471.0M136.9,469.9L136.8,473.4M141.4,465.6L157.5,470.0M154.5,469.2L154.6,472.7M158.8,465.6L175.1,469.5M172.0,468.8L172.3,472.3M176.2,465.6L192.2,470.5M189.2,469.6L189.2,473.1M193.6,465.6L209.4,471.2M206.4,470.2L206.3,473.7M211.1,465.6L226.8,471.3M223.8,470.2L223.7,473.7M228.5,465.6L244.2,471.2M241.2,470.2L241.1,473.7M245.9,465.6L261.6,471.3M258.6,470.2L258.5,473.7M263.3,465.6L279.0,471.3M276.0,470.2L275.9,473.7M280.7,465.6L296.6,470.8M293.6,469.8L293.6,473.3M298.1,465.6L314.4,469.3M311.3,468.6L311.6,472.1M315.5,465.6L332.2,467.1M329.0,466.8L329.8,470.2M332.9,465.6L349.6,467.0M346.4,466.8L347.2,470.2M350.3,465.6L367.0,466.7M363.9,466.5L364.7,469.9M367.8,465.6L384.4,466.5M381.3,466.3L382.2,469.7M385.2,465.6L401.8,464.3M398.7,464.5L400.0,467.7M402.6,465.6L419.2,466.4M416.1,466.3L417.0,469.7M420.0,465.6L436.6,467.0M433.5,466.8L434.2,470.2M437.4,465.6L453.6,469.4M450.6,468.7L450.8,472.2M454.8,465.6L469.4,473.6M466.7,472.1L466.0,475.6M472.2,465.6L486.7,473.9M484.0,472.3L483.2,475.7M489.6,465.6L503.7,474.5M501.1,472.9L500.2,476.2M507.0,465.6L520.6,475.3M518.0,473.5L516.9,476.8M524.4,465.6L538.4,474.8M535.7,473.1L534.8,476.5M541.9,465.6L556.2,474.2M553.5,472.6L552.6,476.0M559.3,465.6L573.5,474.2M570.9,472.6L570.0,476.0M576.7,465.6L590.5,474.9M587.9,473.2L586.9,476.5M594.1,465.6L607.8,475.1M605.2,473.3L604.2,476.7M611.5,465.6L625.2,475.1M622.6,473.3L621.6,476.7M628.9,465.6L642.6,475.2M640.0,473.4L638.9,476.7M646.3,465.6L659.7,475.6M659.7,475.6L657.4,482.2M663.7,465.6L677.0,475.7M674.5,473.8L673.3,477.1M681.1,465.6L694.5,475.6M692.0,473.7L690.8,477.0M698.5,465.6L711.9,475.6M709.4,473.7L708.3,477.0M716.0,465.6L729.0,476.1M729.0,476.1L726.4,482.6M733.4,465.6L746.2,476.2M746.2,476.2L743.6,482.7M750.8,465.6L763.8,476.1M763.8,476.1L761.2,482.6M768.2,465.6L781.5,475.7M781.5,475.7L779.1,482.3M785.6,465.6L798.9,475.7M798.9,475.7L796.5,482.3M803.0,465.6L816.2,475.8M816.2,475.8L813.8,482.4M820.4,465.6L833.8,475.6M833.8,475.6L831.4,482.2M837.8,465.6L851.8,474.7M851.8,474.7L849.9,481.4M855.2,465.6L869.7,474.0M869.7,474.0L868.1,480.8M872.6,465.6L887.1,473.9M887.1,473.9L885.6,480.8M890.1,465.6L904.6,473.8M904.6,473.8L903.1,480.7M907.5,465.6L922.3,473.3M922.3,473.3L921.1,480.2M924.9,465.6L939.9,472.8M939.9,472.8L938.9,479.7M942.3,465.6L957.4,472.7M957.4,472.7L956.4,479.6M959.7,465.6L974.8,472.7M974.8,472.7L973.8,479.7M977.1,465.6L992.2,472.7M992.2,472.7L991.3,479.6M994.5,465.6L1009.7,472.6M1009.7,472.6L1008.7,479.6M1011.9,465.6L1027.1,472.6M1027.1,472.6L1026.1,479.6M1029.3,465.6L1044.5,472.6M1044.5,472.6L1043.6,479.5M1046.7,465.6L1061.9,472.5M1061.9,472.5L1061.1,479.5M1064.1,465.6L1079.3,472.6M1079.3,472.6L1078.4,479.5M1081.6,465.6L1096.7,472.6M1096.7,472.6L1095.8,479.6M1099.0,465.6L1114.1,472.6M1114.1,472.6L1113.2,479.6M1116.4,465.6L1131.5,472.6M1131.5,472.6L1130.6,479.6M1133.8,465.6L1148.9,472.7M1148.9,472.7L1147.9,479.6M1151.2,465.6L1166.3,472.7M1166.3,472.7L1165.4,479.6M1168.6,465.6L1183.7,472.7M1183.7,472.7L1182.7,479.7M1186.0,465.6L1201.1,472.8M1201.1,472.8L1200.1,479.7M1203.4,465.6L1218.5,472.8M1218.5,472.8L1217.5,479.7M1220.8,465.6L1236.0,472.7M1236.0,472.7L1235.0,479.6M1238.2,465.6L1253.3,472.8M1253.3,472.8L1252.4,479.7M1255.7,465.6L1270.7,472.8M1270.7,472.8L1269.8,479.7M106.6,482.9L123.1,485.2M120.0,484.8L120.6,488.3M124.0,482.9L140.5,485.5M137.4,485.0L137.9,488.5M141.4,482.9L157.9,485.4M154.8,485.0L155.4,488.4M158.8,482.9L175.5,484.5M172.3,484.2L173.1,487.6M176.2,482.9L192.8,485.0M189.7,484.6L190.3,488.1M193.6,482.9L209.8,487.2M206.8,486.4L206.9,489.9M211.1,482.9L227.2,487.2M224.2,486.4L224.3,489.9M228.5,482.9L244.5,487.5M241.5,486.6L241.6,490.1M245.9,482.9L261.7,488.4M258.7,487.4L258.6,490.9M263.3,482.9L279.1,488.3M276.1,487.3L276.0,490.8M280.7,482.9L296.7,487.6M293.7,486.8L293.8,490.3M298.1,482.9L314.2,487.2M311.2,486.4L311.4,489.9M315.5,482.9L331.8,486.8M328.7,486.1L328.9,489.6M332.9,482.9L349.6,484.5M346.4,484.2L347.1,487.6M350.3,482.9L367.0,483.8M363.9,483.7L364.7,487.1M367.8,482.9L384.4,483.4M381.3,483.3L382.2,486.7M385.2,482.9L401.9,483.4M398.7,483.3L399.7,486.7M402.6,482.9L419.1,485.3M416.0,484.8L416.6,488.3M420.0,482.9L436.1,487.2M433.1,486.4L433.2,489.9M437.4,482.9L452.6,489.7M449.8,488.4L449.4,491.9M454.8,482.9L469.3,491.2M466.6,489.7L465.8,493.1M472.2,482.9L486.9,490.9M484.1,489.4L483.5,492.8M489.6,482.9L504.2,491.0M504.2,491.0L502.8,497.8M507.0,482.9L521.3,491.6M518.6,490.0L517.7,493.4M524.4,482.9L538.8,491.5M536.1,489.9L535.3,493.3M541.9,482.9L556.3,491.3M553.6,489.7L552.8,493.1M559.3,482.9L573.7,491.3M571.0,489.7L570.2,493.1M576.7,482.9L590.5,492.3M587.9,490.5L586.9,493.9M594.1,482.9L607.8,492.5M605.2,490.7L604.1,494.0M611.5,482.9L625.2,492.5M622.6,490.7L621.6,494.0M628.9,482.9L642.5,492.6M642.5,492.6L640.3,499.3M646.3,482.9L659.5,493.1M657.0,491.2L655.8,494.5M663.7,482.9L676.9,493.2M676.9,493.2L674.4,499.7M681.1,482.9L694.3,493.1M694.3,493.1L691.9,499.7M698.5,482.9L711.7,493.1M709.3,491.2L708.0,494.5M716.0,482.9L728.8,493.6M728.8,493.6L726.1,500.1M733.4,482.9L746.2,493.6M746.2,493.6L743.5,500.1M750.8,482.9L763.6,493.6M763.6,493.6L760.9,500.1M768.2,482.9L781.3,493.2M781.3,493.2L778.9,499.7M785.6,482.9L798.8,493.1M798.8,493.1L796.3,499.7M803.0,482.9L816.2,493.2M816.2,493.2L813.7,499.7M820.4,482.9L833.6,493.1M833.6,493.1L831.2,499.7M837.8,482.9L851.8,492.0M851.8,492.0L849.9,498.8M855.2,482.9L869.7,491.3M869.7,491.3L868.2,498.1M872.6,482.9L887.1,491.2M887.1,491.2L885.6,498.1M890.1,482.9L904.5,491.2M904.5,491.2L903.0,498.0M907.5,482.9L922.4,490.4M922.4,490.4L921.2,497.3M924.9,482.9L940.0,490.0M940.0,490.0L939.1,496.9M942.3,482.9L957.4,490.0M957.4,490.0L956.5,496.9M959.7,482.9L974.8,489.9M974.8,489.9L973.9,496.9M977.1,482.9L992.3,489.8M992.3,489.8L991.4,496.8M994.5,482.9L1009.7,489.9M1009.7,489.9L1008.7,496.9M1011.9,482.9L1027.1,490.0M1027.1,490.0L1026.1,496.9M1029.3,482.9L1044.5,489.9M1044.5,489.9L1043.6,496.9M1046.7,482.9L1062.0,489.8M1062.0,489.8L1061.1,496.7M1064.1,482.9L1079.3,489.9M1079.3,489.9L1078.4,496.9M1081.6,482.9L1096.7,490.0M1096.7,490.0L1095.8,496.9M1099.0,482.9L1114.1,489.9M1114.1,489.9L1113.2,496.9M1116.4,482.9L1131.5,489.9M1131.5,489.9L1130.6,496.9M1133.8,482.9L1148.9,490.0M1148.9,490.0L1148.0,496.9M1151.2,482.9L1166.3,490.0M1166.3,490.0L1165.4,496.9M1168.6,482.9L1183.7,490.0M1183.7,490.0L1182.8,496.9M1186.0,482.9L1201.1,490.0M1201.1,490.0L1200.2,496.9M1203.4,482.9L1218.6,490.0M1218.6,490.0L1217.6,496.9M1220.8,482.9L1236.0,490.0M1236.0,490.0L1235.0,496.9M1238.2,482.9L1253.4,490.0M1253.4,490.0L1252.4,496.9M1255.7,482.9L1270.8,490.0M1270.8,490.0L1269.9,496.9M106.6,500.2L123.3,501.1M120.1,500.9L121.0,504.3M124.0,500.2L140.7,501.4M137.5,501.1L138.4,504.5M141.4,500.2L158.1,501.5M154.9,501.3L155.7,504.7M158.8,500.2L175.5,501.1M172.4,501.0L173.2,504.4M176.2,500.2L192.9,501.1M189.8,500.9L190.6,504.3M193.6,500.2L209.8,504.4M206.8,503.6L206.9,507.1M211.1,500.2L227.2,504.6M224.2,503.7L224.3,507.2M228.5,500.2L244.6,504.5M241.6,503.7L241.7,507.2M245.9,500.2L261.9,504.8M258.9,503.9L259.0,507.4M263.3,500.2L279.2,505.3M276.2,504.4L276.2,507.9M280.7,500.2L296.5,505.7M293.5,504.7L293.4,508.2M298.1,500.2L313.8,505.9M310.9,504.8L310.7,508.3M315.5,500.2L331.3,505.6M328.4,504.6L328.3,508.1M332.9,500.2L349.2,503.7M346.2,503.1L346.5,506.6M350.3,500.2L366.9,502.0M363.8,501.7L364.5,505.1M367.8,500.2L384.4,501.5M381.3,501.2L382.1,504.6M385.2,500.2L401.7,502.5M398.6,502.0L399.2,505.5M402.6,500.2L418.6,505.0M415.6,504.1L415.6,507.6M420.0,500.2L435.7,505.9M432.7,504.8L432.6,508.3M437.4,500.2L453.0,506.1M450.1,505.0L449.9,508.5M454.8,500.2L469.7,507.8M466.9,506.4L466.3,509.8M472.2,500.2L487.1,507.8M484.3,506.4L483.7,509.9M489.6,500.2L504.4,508.0M501.6,506.5L501.0,510.0M507.0,500.2L521.5,508.5M518.8,507.0L518.0,510.4M524.4,500.2L538.8,508.7M536.1,507.1L535.3,510.5M541.9,500.2L556.3,508.6M553.6,507.0L552.8,510.5M559.3,500.2L573.6,508.7M573.6,508.7L572.0,515.5M576.7,500.2L590.7,509.3M590.7,509.3L588.8,516.0M594.1,500.2L607.9,509.6M605.3,507.9L604.2,511.2M611.5,500.2L625.3,509.5M625.3,509.5L623.3,516.2M628.9,500.2L642.7,509.6M642.7,509.6L640.6,516.3M646.3,500.2L659.7,510.2M659.7,510.2L657.4,516.8M663.7,500.2L677.0,510.4M677.0,510.4L674.6,516.9M681.1,500.2L694.5,510.2M692.0,508.4L690.8,511.7M698.5,500.2L711.8,510.3M711.8,510.3L709.5,516.9M716.0,500.2L728.9,510.7M728.9,510.7L726.3,517.2M733.4,500.2L746.2,510.9M746.2,510.9L743.5,517.3M750.8,500.2L763.7,510.8M763.7,510.8L761.1,517.2M768.2,500.2L781.4,510.4M781.4,510.4L779.0,517.0M785.6,500.2L798.8,510.4M798.8,510.4L796.4,516.9M803.0,500.2L816.2,510.4M816.2,510.4L813.8,517.0M820.4,500.2L833.8,510.2M833.8,510.2L831.4,516.8M837.8,500.2L851.9,509.1M851.9,509.1L850.1,515.9M855.2,500.2L869.8,508.3M869.8,508.3L868.4,515.2M872.6,500.2L887.2,508.4M887.2,508.4L885.8,515.2M890.1,500.2L904.8,508.1M904.8,508.1L903.5,514.9M907.5,500.2L922.6,507.2M922.6,507.2L921.7,514.2M924.9,500.2L940.1,507.0M940.1,507.0L939.3,514.0M942.3,500.2L957.5,507.1M957.5,507.1L956.6,514.1M959.7,500.2L975.0,507.0M975.0,507.0L974.2,513.9M977.1,500.2L992.4,506.8M992.4,506.8L991.7,513.7M994.5,500.2L1009.8,507.0M1009.8,507.0L1008.9,514.0M1011.9,500.2L1027.1,507.1M1027.1,507.1L1026.2,514.1M1029.3,500.2L1044.6,507.0M1044.6,507.0L1043.8,513.9M1046.7,500.2L1062.1,506.7M1062.1,506.7L1061.4,513.7M1064.1,500.2L1079.4,507.0M1079.4,507.0L1078.6,513.9M1081.6,500.2L1096.7,507.2M1096.7,507.2L1095.9,514.1M1099.0,500.2L1114.2,507.2M1114.2,507.2L1113.3,514.1M1116.4,500.2L1131.5,507.3M1131.5,507.3L1130.6,514.2M1133.8,500.2L1148.9,507.2M1148.9,507.2L1148.0,514.2M1151.2,500.2L1166.3,507.2M1166.3,507.2L1165.4,514.2M1168.6,500.2L1183.7,507.2M1183.7,507.2L1182.8,514.2M1186.0,500.2L1201.1,507.3M1201.1,507.3L1200.2,514.3M1203.4,500.2L1218.5,507.4M1218.5,507.4L1217.5,514.3M1220.8,500.2L1236.0,507.3M1236.0,507.3L1235.0,514.2M1238.2,500.2L1253.4,507.3M1253.4,507.3L1252.4,514.2M1255.7,500.2L1270.8,507.3M1270.8,507.3L1269.9,514.2M106.6,517.5L123.3,518.4M120.2,518.2L121.0,521.6M124.0,517.5L140.7,518.4M137.6,518.3L138.4,521.6M141.4,517.5L158.1,518.4M155.0,518.2L155.8,521.6M158.8,517.5L175.5,518.4M172.4,518.2L173.2,521.6M176.2,517.5L192.9,519.0M189.8,518.7L190.5,522.2M193.6,517.5L209.4,523.0M206.4,522.0L206.3,525.5M211.1,517.5L226.9,522.8M223.9,521.8L223.9,525.3M228.5,517.5L244.7,521.4M241.7,520.7L241.9,524.1M245.9,517.5L262.1,521.6M259.0,520.8L259.2,524.3M263.3,517.5L279.1,522.9M276.1,521.9L276.0,525.4M280.7,517.5L296.2,523.6M293.3,522.5L293.1,526.0M298.1,517.5L313.6,523.8M310.7,522.6L310.4,526.1M315.5,517.5L331.0,523.7M328.1,522.5L327.9,526.0M332.9,517.5L348.8,522.7M345.8,521.7L345.8,525.2M350.3,517.5L366.7,521.1M363.6,520.4L363.9,523.9M367.8,517.5L384.2,520.5M381.1,519.9L381.5,523.4M385.2,517.5L401.4,521.2M398.4,520.5L398.7,524.0M402.6,517.5L418.5,522.6M415.5,521.6L415.5,525.1M420.0,517.5L435.7,523.2M432.7,522.1L432.6,525.6M437.4,517.5L452.3,525.0M449.5,523.6L448.9,527.1M454.8,517.5L469.3,525.7M466.6,524.2L465.9,527.6M472.2,517.5L486.9,525.5M484.1,524.0L483.4,527.4M489.6,517.5L504.4,525.4M501.6,523.9L500.9,527.3M507.0,517.5L521.6,525.7M518.8,524.2L518.1,527.6M524.4,517.5L538.9,525.9M536.2,524.3L535.4,527.7M541.9,517.5L556.3,525.9M553.6,524.3L552.8,527.7M559.3,517.5L573.7,525.9M571.0,524.3L570.2,527.7M576.7,517.5L591.2,525.7M588.5,524.2L587.7,527.6M594.1,517.5L608.7,525.5M608.7,525.5L607.4,532.4M611.5,517.5L626.0,525.7M623.3,524.2L622.6,527.6M628.9,517.5L643.1,526.3M643.1,526.3L641.3,533.1M646.3,517.5L660.4,526.5M657.7,524.8L656.8,528.2M663.7,517.5L677.8,526.4M675.2,524.8L674.3,528.1M681.1,517.5L695.1,526.6M692.5,524.9L691.5,528.3M698.5,517.5L712.1,527.2M712.1,527.2L709.9,533.9M716.0,517.5L729.1,527.7M729.1,527.7L726.7,534.3M733.4,517.5L746.5,527.8M746.5,527.8L744.0,534.3M750.8,517.5L764.0,527.8M764.0,527.8L761.5,534.3M768.2,517.5L781.5,527.6M781.5,527.6L779.1,534.2M785.6,517.5L798.9,527.5M798.9,527.5L796.6,534.1M803.0,517.5L816.3,527.5M816.3,527.5L814.0,534.1M820.4,517.5L833.9,527.4M833.9,527.4L831.6,534.0M837.8,517.5L852.1,526.1M852.1,526.1L850.5,532.9M855.2,517.5L870.6,524.0M870.6,524.0L870.0,530.9M872.6,517.5L888.3,523.4M888.3,523.4L887.8,530.4M890.1,517.5L905.6,523.6M905.6,523.6L905.1,530.6M907.5,517.5L923.0,523.5M923.0,523.5L922.6,530.5M924.9,517.5L940.6,523.0M940.6,523.0L940.4,530.0M942.3,517.5L958.1,522.8M958.1,522.8L958.0,529.8M959.7,517.5L975.5,523.0M975.5,523.0L975.2,530.0M977.1,517.5L992.7,523.4M992.7,523.4L992.3,530.4M994.5,517.5L1010.1,523.4M1010.1,523.4L1009.7,530.4M1011.9,517.5L1027.6,523.3M1027.6,523.3L1027.2,530.3M1029.3,517.5L1045.0,523.4M1045.0,523.4L1044.6,530.4M1046.7,517.5L1062.4,523.4M1062.4,523.4L1061.9,530.4M1064.1,517.5L1079.8,523.4M1079.8,523.4L1079.4,530.4M1081.6,517.5L1097.2,523.3M1097.2,523.3L1096.8,530.3M1099.0,517.5L1114.4,523.8M1114.4,523.8L1113.9,530.8M1116.4,517.5L1131.6,524.5M1131.6,524.5L1130.7,531.4M1133.8,517.5L1149.0,524.5M1149.0,524.5L1148.1,531.4M1151.2,517.5L1166.3,524.5M1166.3,524.5L1165.4,531.5M1168.6,517.5L1183.8,524.5M1183.8,524.5L1182.8,531.5M1186.0,517.5L1201.0,524.8M1201.0,524.8L1200.0,531.7M1203.4,517.5L1218.3,525.1M1218.3,525.1L1217.1,532.0M1220.8,517.5L1235.6,525.2M1235.6,525.2L1234.4,532.1M1238.2,517.5L1253.2,524.9M1253.2,524.9L1252.1,531.8M1255.7,517.5L1270.8,524.6M1270.8,524.6L1269.8,531.5M106.6,534.8L123.2,536.2M120.1,536.0L120.9,539.4M124.0,534.8L140.7,535.7M137.6,535.5L138.4,538.9M141.4,534.8L158.1,535.1M155.0,535.0L156.0,538.4M158.8,534.8L175.5,535.4M172.4,535.3L173.3,538.7M176.2,534.8L192.9,536.0M189.8,535.8L190.6,539.2M193.6,534.8L210.3,536.3M207.2,536.0L207.9,539.4M211.1,534.8L227.5,537.7M224.4,537.2L224.9,540.7M228.5,534.8L244.8,538.3M241.7,537.6L242.1,541.1M245.9,534.8L262.1,538.9M259.0,538.2L259.2,541.6M263.3,534.8L278.7,541.3M275.8,540.1L275.4,543.6M280.7,534.8L296.0,541.5M293.1,540.2L292.7,543.7M298.1,534.8L313.2,541.9M310.4,540.5L309.9,544.0M315.5,534.8L330.8,541.6M327.9,540.3L327.5,543.8M332.9,534.8L348.5,540.8M345.6,539.7L345.4,543.2M350.3,534.8L366.2,539.9M363.3,539.0L363.2,542.5M367.8,534.8L383.7,539.9M380.7,538.9L380.7,542.4M385.2,534.8L400.9,540.4M398.0,539.3L397.8,542.8M402.6,534.8L418.1,540.9M415.2,539.7L415.0,543.2M420.0,534.8L435.1,541.8M432.3,540.5L431.8,544.0M437.4,534.8L451.9,543.1M449.2,541.5L448.4,544.9M454.8,534.8L469.3,543.1M466.6,541.6L465.8,545.0M472.2,534.8L486.7,543.0M484.0,541.5L483.3,544.9M489.6,534.8L504.2,542.9M501.5,541.3L500.8,544.8M507.0,534.8L521.6,543.0M518.8,541.5L518.1,544.9M524.4,534.8L538.9,543.2M536.2,541.6L535.4,545.0M541.9,534.8L556.3,543.2M553.6,541.6L552.8,545.0M559.3,534.8L573.7,543.1M571.0,541.6L570.2,545.0M576.7,534.8L591.4,542.8M591.4,542.8L590.0,549.6M594.1,534.8L608.8,542.6M606.1,541.2L605.4,544.6M611.5,534.8L626.2,542.7M623.4,541.2L622.8,544.7M628.9,534.8L643.3,543.3M643.3,543.3L641.7,550.1M646.3,534.8L660.5,543.7M660.5,543.7L658.7,550.4M663.7,534.8L677.9,543.6M677.9,543.6L676.1,550.4M681.1,534.8L695.3,543.7M692.6,542.0L691.7,545.4M698.5,534.8L712.2,544.4M712.2,544.4L710.1,551.0M716.0,534.8L729.1,545.0M729.1,545.0L726.7,551.6M733.4,534.8L746.5,545.1M746.5,545.1L744.1,551.6M750.8,534.8L764.0,545.1M764.0,545.1L761.5,551.6M768.2,534.8L781.5,544.8M781.5,544.8L779.2,551.4M785.6,534.8L798.9,544.8M798.9,544.8L796.6,551.4M803.0,534.8L816.3,544.9M816.3,544.9L814.0,551.4M820.4,534.8L833.8,544.8M833.8,544.8L831.5,551.4M837.8,534.8L852.2,543.2M852.2,543.2L850.7,550.1M855.2,534.8L870.9,540.7M870.9,540.7L870.5,547.7M872.6,534.8L888.3,540.5M888.3,540.5L888.0,547.5M890.1,534.8L905.8,540.5M905.8,540.5L905.4,547.5M907.5,534.8L923.3,540.2M923.3,540.2L923.1,547.2M924.9,534.8L940.7,540.0M940.7,540.0L940.6,547.0M942.3,534.8L958.2,540.0M958.2,540.0L958.1,547.0M959.7,534.8L975.6,540.0M975.6,540.0L975.5,547.0M977.1,534.8L992.9,540.3M992.9,540.3L992.6,547.3M994.5,534.8L1010.2,540.5M1010.2,540.5L1009.9,547.5M1011.9,534.8L1027.6,540.5M1027.6,540.5L1027.3,547.5M1029.3,534.8L1045.0,540.5M1045.0,540.5L1044.7,547.5M1046.7,534.8L1062.5,540.3M1062.5,540.3L1062.3,547.3M1064.1,534.8L1079.9,540.5M1079.9,540.5L1079.6,547.5M1081.6,534.8L1097.3,540.5M1097.3,540.5L1096.9,547.5M1099.0,534.8L1114.7,540.5M1114.7,540.5L1114.3,547.5M1116.4,534.8L1131.8,541.1M1131.8,541.1L1131.3,548.1M1133.8,534.8L1149.0,541.8M1149.0,541.8L1148.1,548.7M1151.2,534.8L1166.3,541.9M1166.3,541.9L1165.4,548.8M1168.6,534.8L1183.7,541.9M1183.7,541.9L1182.8,548.8M1186.0,534.8L1200.8,542.5M1200.8,542.5L1199.6,549.4M1203.4,534.8L1218.2,542.6M1218.2,542.6L1216.9,549.5M1220.8,534.8L1235.6,542.6M1235.6,542.6L1234.3,549.5M1238.2,534.8L1253.1,542.5M1253.1,542.5L1251.8,549.4M1255.7,534.8L1270.7,542.0M1270.7,542.0L1269.7,548.9M106.6,552.1L123.2,550.6M120.1,550.9L121.4,554.2M124.0,552.1L140.6,550.7M137.5,551.0L138.9,554.2M141.4,552.1L158.1,550.8M154.9,551.0L156.3,554.3M158.8,552.1L175.5,551.9M172.4,552.0L173.5,555.3M176.2,552.1L192.9,552.1M189.8,552.1L190.8,555.5M193.6,552.1L210.3,553.1M207.2,552.9L208.0,556.3M211.1,552.1L227.7,553.6M224.6,553.3L225.3,556.7M228.5,552.1L245.1,553.8M242.0,553.5L242.7,556.9M245.9,552.1L261.7,557.5M258.7,556.5L258.6,560.0M263.3,552.1L278.4,559.2M275.6,557.8L275.1,561.3M280.7,552.1L295.7,559.4M292.9,558.1L292.4,561.5M298.1,552.1L313.2,559.2M310.4,557.8L309.9,561.3M315.5,552.1L330.8,558.9M327.9,557.6L327.5,561.1M332.9,552.1L348.3,558.5M345.4,557.3L345.1,560.8M350.3,552.1L365.7,558.7M362.8,557.5L362.4,561.0M367.8,552.1L382.7,559.6M382.7,559.6L381.5,566.5M385.2,552.1L399.7,560.3M399.7,560.3L398.2,567.2M402.6,552.1L417.0,560.6M414.3,559.0L413.5,562.4M420.0,552.1L434.5,560.4M431.7,558.9L431.0,562.3M437.4,552.1L451.9,560.4M449.2,558.9L448.4,562.3M454.8,552.1L469.3,560.4M466.6,558.9L465.8,562.3M472.2,552.1L486.7,560.4M484.0,558.9L483.2,562.3M489.6,552.1L504.1,560.4M501.4,558.8L500.6,562.3M507.0,552.1L521.5,560.4M521.5,560.4L520.0,567.3M524.4,552.1L538.9,560.5M536.2,558.9L535.4,562.3M541.9,552.1L556.3,560.5M553.6,558.9L552.8,562.3M559.3,552.1L573.7,560.4M571.0,558.9L570.3,562.3M576.7,552.1L591.3,560.1M588.6,558.6L587.9,562.0M594.1,552.1L608.8,560.0M606.0,558.5L605.4,561.9M611.5,552.1L626.2,560.1M623.4,558.6L622.7,562.0M628.9,552.1L643.3,560.5M643.3,560.5L641.8,567.3M646.3,552.1L660.5,560.9M660.5,560.9L658.8,567.6M663.7,552.1L677.9,560.9M677.9,560.9L676.1,567.7M681.1,552.1L695.3,561.0M695.3,561.0L693.5,567.7M698.5,552.1L712.4,561.5M712.4,561.5L710.3,568.2M716.0,552.1L729.3,562.2M729.3,562.2L726.9,568.8M733.4,552.1L746.6,562.3M746.6,562.3L744.1,568.9M750.8,552.1L764.1,562.2M764.1,562.2L761.7,568.8M768.2,552.1L781.6,562.0M781.6,562.0L779.3,568.6M785.6,552.1L799.0,562.1M799.0,562.1L796.7,568.7M803.0,552.1L816.4,562.1M816.4,562.1L814.0,568.7M820.4,552.1L833.9,561.9M833.9,561.9L831.7,568.6M837.8,552.1L852.3,560.3M852.3,560.3L850.9,567.2M855.2,552.1L870.8,558.2M870.8,558.2L870.3,565.2M872.6,552.1L888.3,557.8M888.3,557.8L888.0,564.8M890.1,552.1L905.9,557.3M905.9,557.3L905.8,564.3M907.5,552.1L923.3,557.3M923.3,557.3L923.3,564.3M924.9,552.1L940.7,557.3M940.7,557.3L940.6,564.3M942.3,552.1L958.2,557.3M958.2,557.3L958.1,564.3M959.7,552.1L975.6,557.3M975.6,557.3L975.5,564.3M977.1,552.1L992.9,557.4M992.9,557.4L992.8,564.4M994.5,552.1L1010.3,557.6M1010.3,557.6L1010.1,564.6M1011.9,552.1L1027.7,557.7M1027.7,557.7L1027.4,564.7M1029.3,552.1L1045.1,557.5M1045.1,557.5L1044.9,564.5M1046.7,552.1L1062.6,557.5M1062.6,557.5L1062.4,564.5M1064.1,552.1L1080.0,557.3M1080.0,557.3L1079.9,564.3M1081.6,552.1L1097.4,557.5M1097.4,557.5L1097.2,564.5M1099.0,552.1L1114.9,557.2M1114.9,557.2L1114.8,564.2M1116.4,552.1L1132.2,557.4M1132.2,557.4L1132.1,564.4M1133.8,552.1L1149.3,558.3M1149.3,558.3L1148.8,565.2M1151.2,552.1L1166.5,558.8M1166.5,558.8L1165.7,565.8M1168.6,552.1L1183.5,559.6M1183.5,559.6L1182.4,566.5M1186.0,552.1L1200.0,561.3M1200.0,561.3L1198.0,568.0M1203.4,552.1L1217.9,560.5M1217.9,560.5L1216.3,567.3M1220.8,552.1L1235.6,559.9M1235.6,559.9L1234.3,566.8M1238.2,552.1L1253.3,559.4M1253.3,559.4L1252.3,566.3M1255.7,552.1L1270.8,559.2M1270.8,559.2L1269.9,566.1M106.6,569.4L122.9,565.9M119.9,566.6L121.6,569.6M124.0,569.4L140.3,565.8M137.3,566.5L139.0,569.6M141.4,569.4L158.0,567.5M154.9,567.9L156.3,571.1M158.8,569.4L175.5,568.0M172.4,568.3L173.7,571.5M176.2,569.4L192.9,569.4M189.8,569.4L190.9,572.7M193.6,569.4L210.3,569.4M207.2,569.4L208.3,572.8M211.1,569.4L227.8,569.9M224.6,569.8L225.6,573.2M228.5,569.4L244.9,572.2M241.8,571.7L242.3,575.1M245.9,569.4L262.3,572.4M259.2,571.8L259.7,575.3M263.3,569.4L278.4,576.4M275.6,575.1L275.1,578.6M280.7,569.4L295.4,577.2M292.7,575.8L292.0,579.2M298.1,569.4L313.0,577.0M310.2,575.6L309.6,579.0M315.5,569.4L330.7,576.4M327.8,575.1L327.4,578.5M332.9,569.4L348.0,576.5M345.2,575.2L344.7,578.7M350.3,569.4L364.8,577.8M364.8,577.8L363.3,584.6M367.8,569.4L381.5,578.8M381.5,578.8L379.5,585.5M385.2,569.4L398.8,579.0M398.8,579.0L396.7,585.7M402.6,569.4L416.3,579.0M416.3,579.0L414.1,585.6M420.0,569.4L433.6,579.0M431.1,577.2L430.0,580.5M437.4,569.4L451.1,578.9M448.5,577.1L447.5,580.5M454.8,569.4L468.7,578.7M466.1,577.0L465.1,580.3M472.2,569.4L486.2,578.5M483.6,576.8L482.7,580.1M489.6,569.4L503.8,578.2M501.2,576.5L500.3,579.9M507.0,569.4L521.4,578.0M518.7,576.4L517.9,579.8M524.4,569.4L538.8,578.0M536.1,576.4L535.3,579.8M541.9,569.4L556.2,578.0M553.5,576.4L552.7,579.8M559.3,569.4L573.7,577.8M571.0,576.3L570.2,579.7M576.7,569.4L591.3,577.4M588.6,575.9L587.9,579.3M594.1,569.4L608.8,577.3M608.8,577.3L607.5,584.1M611.5,569.4L626.2,577.3M626.2,577.3L624.9,584.2M628.9,569.4L643.4,577.6M643.4,577.6L642.0,584.5M646.3,569.4L660.7,577.8M658.0,576.2L657.3,579.6M663.7,569.4L678.2,577.8M678.2,577.8L676.6,584.6M681.1,569.4L695.5,577.9M695.5,577.9L693.9,584.7M698.5,569.4L712.6,578.5M712.6,578.5L710.7,585.2M716.0,569.4L729.6,579.0M729.6,579.0L727.5,585.6M733.4,569.4L747.0,579.0M747.0,579.0L744.9,585.7M750.8,569.4L764.4,579.0M764.4,579.0L762.3,585.7M768.2,569.4L781.8,579.0M781.8,579.0L779.7,585.7M785.6,569.4L799.2,579.0M799.2,579.0L797.1,585.7M803.0,569.4L816.7,579.0M816.7,579.0L814.5,585.7M820.4,569.4L834.2,578.8M834.2,578.8L832.1,585.5M837.8,569.4L852.5,577.3M852.5,577.3L851.2,584.2M855.2,569.4L870.8,575.4M870.8,575.4L870.4,582.4M872.6,569.4L888.3,575.1M888.3,575.1L888.0,582.1M890.1,569.4L905.9,574.6M905.9,574.6L905.8,581.6M907.5,569.4L923.3,574.6M923.3,574.6L923.3,581.6M924.9,569.4L940.7,574.6M940.7,574.6L940.6,581.6M942.3,569.4L958.2,574.6M958.2,574.6L958.1,581.6M959.7,569.4L975.6,574.6M975.6,574.6L975.5,581.6M977.1,569.4L993.0,574.4M993.0,574.4L993.1,581.4M994.5,569.4L1010.6,574.0M1010.6,574.0L1010.7,581.0M1011.9,569.4L1028.0,573.9M1028.0,573.9L1028.2,580.9M1029.3,569.4L1045.2,574.6M1045.2,574.6L1045.1,581.6M1046.7,569.4L1062.5,574.8M1062.5,574.8L1062.3,581.8M1064.1,569.4L1080.3,573.8M1080.3,573.8L1080.5,580.8M1081.6,569.4L1098.2,570.9M1098.2,570.9L1099.6,577.8M1099.0,569.4L1115.5,571.5M1115.5,571.5L1116.8,578.4M1116.4,569.4L1132.7,572.8M1132.7,572.8L1133.4,579.7M1133.8,569.4L1150.3,572.1M1150.3,572.1L1151.2,579.1M1151.2,569.4L1167.7,571.9M1167.7,571.9L1168.8,578.8M1168.6,569.4L1184.0,576.0M1184.0,576.0L1183.3,582.9M1186.0,569.4L1199.5,579.2M1199.5,579.2L1197.3,585.8M1203.4,569.4L1217.5,578.4M1217.5,578.4L1215.6,585.2M1220.8,569.4L1235.6,577.2M1235.6,577.2L1234.3,584.1M1238.2,569.4L1253.3,576.6M1253.3,576.6L1252.3,583.5M1255.7,569.4L1270.8,576.4M1270.8,576.4L1269.9,583.4M106.6,586.7L122.3,581.0M119.4,582.1L121.5,584.9M124.0,586.7L139.7,581.1M136.8,582.1L138.9,584.9M141.4,586.7L156.2,578.9M153.4,580.4L155.9,582.8M158.8,586.7L175.5,586.7M172.4,586.7L173.4,590.0M176.2,586.7L192.9,586.9M189.8,586.9L190.8,590.2M193.6,586.7L210.3,588.3M207.2,588.0L207.9,591.4M211.1,586.7L227.6,589.0M224.5,588.6L225.1,592.0M228.5,586.7L245.0,589.3M241.9,588.8L242.4,592.3M245.9,586.7L261.2,593.3M258.4,592.0L258.0,595.5M263.3,586.7L278.0,594.5M275.3,593.1L274.6,596.5M280.7,586.7L295.6,594.3M292.8,592.9L292.2,596.3M298.1,586.7L313.1,594.1M310.3,592.7L309.7,596.2M315.5,586.7L330.6,593.9M327.8,592.5L327.3,596.0M332.9,586.7L347.5,594.8M344.8,593.3L344.1,596.7M350.3,586.7L363.9,596.5M361.3,594.7L360.2,598.0M367.8,586.7L380.8,597.2M380.8,597.2L378.2,603.7M385.2,586.7L398.6,596.7M398.6,596.7L396.2,603.3M402.6,586.7L416.2,596.3M416.2,596.3L414.1,602.9M420.0,586.7L433.3,596.8M430.8,594.9L429.6,598.2M437.4,586.7L450.7,596.8M450.7,596.8L448.3,603.4M454.8,586.7L468.4,596.3M465.9,594.5L464.8,597.9M472.2,586.7L485.9,596.2M483.3,594.4L482.3,597.8M489.6,586.7L503.6,595.8M501.0,594.1L500.0,597.5M507.0,586.7L521.3,595.5M518.6,593.8L517.7,597.2M524.4,586.7L538.7,595.5M536.0,593.8L535.1,597.2M541.9,586.7L556.0,595.5M553.4,593.9L552.5,597.3M559.3,586.7L573.5,595.5M570.8,593.8L569.9,597.2M576.7,586.7L591.4,594.7M588.6,593.2L587.9,596.6M594.1,586.7L608.8,594.5M608.8,594.5L607.5,601.4M611.5,586.7L626.2,594.6M623.5,593.1L622.8,596.5M628.9,586.7L643.5,594.8M643.5,594.8L642.1,601.6M646.3,586.7L660.8,595.0M658.1,593.5L657.3,596.9M663.7,586.7L678.2,595.0M678.2,595.0L676.7,601.9M681.1,586.7L695.6,595.1M692.9,593.5L692.1,596.9M698.5,586.7L712.7,595.6M710.0,593.9L709.1,597.3M716.0,586.7L729.7,596.2M729.7,596.2L727.6,602.9M733.4,586.7L747.0,596.3M747.0,596.3L744.9,602.9M750.8,586.7L764.5,596.3M764.5,596.3L762.4,602.9M768.2,586.7L782.0,596.1M782.0,596.1L779.9,602.8M785.6,586.7L799.3,596.2M799.3,596.2L797.2,602.9M803.0,586.7L816.7,596.3M816.7,596.3L814.6,602.9M820.4,586.7L834.2,596.2M834.2,596.2L832.1,602.9M837.8,586.7L852.7,594.4M852.7,594.4L851.4,601.3M855.2,586.7L870.9,592.5M870.9,592.5L870.5,599.5M872.6,586.7L888.3,592.4M888.3,592.4L888.0,599.4M890.1,586.7L905.8,592.4M905.8,592.4L905.5,599.3M907.5,586.7L923.3,592.0M923.3,592.0L923.1,599.0M924.9,586.7L940.7,591.9M940.7,591.9L940.7,598.9M942.3,586.7L958.2,591.9M958.2,591.9L958.1,598.9M959.7,586.7L975.6,591.8M975.6,591.8L975.5,598.8M977.1,586.7L993.1,591.5M993.1,591.5L993.2,598.5M994.5,586.7L1010.6,591.0M1010.6,591.0L1010.9,598.0M1011.9,586.7L1028.1,591.0M1028.1,591.0L1028.3,598.0M1029.3,586.7L1045.4,591.1M1045.4,591.1L1045.7,598.1M1046.7,586.7L1062.8,591.3M1062.8,591.3L1063.0,598.3M1064.1,586.7L1080.7,588.9M1080.7,588.9L1081.9,595.8M1081.6,586.7L1098.2,587.6M1098.2,587.6L1100.0,594.4M1099.0,586.7L1115.6,587.8M1115.6,587.8L1117.3,594.6M1116.4,586.7L1132.9,589.0M1132.9,589.0L1134.0,595.9M1133.8,586.7L1150.4,588.2M1150.4,588.2L1151.9,595.0M1151.2,586.7L1167.9,587.6M1167.9,587.6L1169.6,594.4M1168.6,586.7L1184.7,591.0M1184.7,591.0L1185.0,598.0M1186.0,586.7L1200.9,594.4M1200.9,594.4L1199.7,601.3M1203.4,586.7L1218.1,594.7M1218.1,594.7L1216.7,601.6M1220.8,586.7L1235.6,594.5M1235.6,594.5L1234.3,601.4M1238.2,586.7L1253.3,593.9M1253.3,593.9L1252.3,600.8M1255.7,586.7L1271.3,592.6M1271.3,592.6L1270.9,599.5M106.6,604.0L122.3,598.4M119.4,599.4L121.5,602.2M124.0,604.0L139.7,598.4M136.8,599.5L138.9,602.3M141.4,604.0L158.1,604.0M155.0,604.0L156.0,607.4M158.8,604.0L175.4,606.3M172.3,605.9L172.8,609.4M176.2,604.0L192.8,605.8M189.7,605.5L190.4,608.9M193.6,604.0L210.1,606.9M207.0,606.3L207.5,609.8M211.1,604.0L227.5,607.1M224.4,606.5L224.8,610.0M228.5,604.0L243.7,610.9M240.8,609.6L240.4,613.1M245.9,604.0L260.6,611.8M257.9,610.3L257.2,613.8M263.3,604.0L278.2,611.5M275.4,610.1L274.8,613.6M280.7,604.0L295.7,611.3M292.9,609.9L292.4,613.4M298.1,604.0L313.2,611.1M310.4,609.7L309.9,613.2M315.5,604.0L330.5,611.4M327.7,610.0L327.2,613.5M332.9,604.0L347.0,613.0M347.0,613.0L345.2,619.7M350.3,604.0L363.3,614.5M360.9,612.5L359.6,615.8M367.8,604.0L380.5,614.8M380.5,614.8L377.7,621.3M385.2,604.0L397.9,614.7M397.9,614.7L395.3,621.2M402.6,604.0L415.9,614.0M415.9,614.0L413.6,620.6M420.0,604.0L432.8,614.7M432.8,614.7L430.1,621.2M437.4,604.0L450.3,614.6M450.3,614.6L447.6,621.1M454.8,604.0L468.5,613.6M465.9,611.8L464.8,615.1M472.2,604.0L485.9,613.5M483.4,611.7L482.3,615.1M489.6,604.0L503.6,613.2M501.0,611.4L500.0,614.8M507.0,604.0L521.2,612.8M518.6,611.2L517.7,614.5M524.4,604.0L538.6,612.8M536.0,611.1L535.1,614.5M541.9,604.0L556.0,612.8M553.4,611.2L552.5,614.6M559.3,604.0L573.4,612.8M570.8,611.2L569.9,614.6M576.7,604.0L591.2,612.2M588.5,610.6L587.8,614.1M594.1,604.0L608.8,611.8M608.8,611.8L607.5,618.7M611.5,604.0L626.3,611.8M623.5,610.3L622.9,613.8M628.9,604.0L643.6,611.9M640.9,610.4L640.2,613.9M646.3,604.0L660.9,612.2M658.1,610.6L657.4,614.1M663.7,604.0L678.2,612.3M678.2,612.3L676.7,619.1M681.1,604.0L695.7,612.2M695.7,612.2L694.2,619.1M698.5,604.0L712.9,612.6M712.9,612.6L711.2,619.4M716.0,604.0L729.8,613.3M729.8,613.3L727.9,620.0M733.4,604.0L747.1,613.5M747.1,613.5L745.1,620.1M750.8,604.0L764.6,613.3M764.6,613.3L762.6,620.0M768.2,604.0L782.2,613.1M782.2,613.1L780.3,619.8M785.6,604.0L799.5,613.3M799.5,613.3L797.5,620.0M803.0,604.0L816.8,613.4M816.8,613.4L814.7,620.1M820.4,604.0L834.4,613.1M834.4,613.1L832.5,619.9M837.8,604.0L852.8,611.5M852.8,611.5L851.6,618.4M855.2,604.0L870.8,609.9M870.8,609.9L870.4,616.9M872.6,604.0L888.3,609.7M888.3,609.7L888.0,616.7M890.1,604.0L905.7,609.7M905.7,609.7L905.4,616.7M907.5,604.0L923.2,609.5M923.2,609.5L923.0,616.5M924.9,604.0L940.7,609.2M940.7,609.2L940.6,616.2M942.3,604.0L958.2,609.2M958.2,609.2L958.1,616.2M959.7,604.0L975.6,609.1M975.6,609.1L975.5,616.1M977.1,604.0L993.2,608.6M993.2,608.6L993.3,615.6M994.5,604.0L1010.7,608.2M1010.7,608.2L1011.0,615.1M1011.9,604.0L1028.1,608.2M1028.1,608.2L1028.5,615.1M1029.3,604.0L1045.6,607.8M1045.6,607.8L1046.1,614.8M1046.7,604.0L1062.9,608.3M1062.9,608.3L1063.2,615.3M1064.1,604.0L1080.6,607.1M1080.6,607.1L1081.3,614.1M1081.6,604.0L1098.2,605.2M1098.2,605.2L1099.8,612.0M1099.0,604.0L1115.6,605.3M1115.6,605.3L1117.2,612.2M1116.4,604.0L1132.9,606.2M1132.9,606.2L1134.1,613.1M1133.8,604.0L1150.3,606.2M1150.3,606.2L1151.5,613.1M1151.2,604.0L1167.7,606.6M1167.7,606.6L1168.7,613.5M1168.6,604.0L1184.4,609.5M1184.4,609.5L1184.1,616.5M1186.0,604.0L1200.5,612.3M1200.5,612.3L1199.0,619.2M1203.4,604.0L1218.1,612.0M1218.1,612.0L1216.8,618.8M1220.8,604.0L1235.7,611.6M1235.7,611.6L1234.5,618.5M1238.2,604.0L1253.8,610.2M1253.8,610.2L1253.2,617.2M1255.7,604.0L1271.4,609.7M1271.4,609.7L1271.0,616.7M106.6,621.3L123.1,623.5M120.0,623.1L120.6,626.6M124.0,621.3L140.7,620.8M137.6,620.9L138.7,624.2M141.4,621.3L158.1,620.3M155.0,620.5L156.2,623.8M158.8,621.3L175.4,623.0M172.3,622.7L173.0,626.1M176.2,621.3L192.8,623.6M189.7,623.2L190.2,626.6M193.6,621.3L210.0,624.5M207.0,623.9L207.4,627.4M211.1,621.3L226.9,626.5M224.0,625.5L223.9,629.0M228.5,621.3L243.6,628.4M240.8,627.0L240.3,630.5M245.9,621.3L261.0,628.5M258.1,627.1L257.6,630.6M263.3,621.3L278.5,628.3M275.6,627.0L275.2,630.5M280.7,621.3L296.0,628.1M293.1,626.8L292.7,630.3M298.1,621.3L313.4,628.1M310.5,626.8L310.1,630.3M315.5,621.3L330.4,628.9M327.6,627.5L327.0,630.9M332.9,621.3L346.8,630.6M344.2,628.9L343.2,632.2M350.3,621.3L363.1,632.1M363.1,632.1L360.4,638.5M367.8,621.3L379.8,632.9M379.8,632.9L376.6,639.2M385.2,621.3L397.0,633.1M397.0,633.1L393.8,639.3M402.6,621.3L417.1,629.6M417.1,629.6L415.6,636.4M420.0,621.3L432.0,632.8M432.0,632.8L428.9,639.1M437.4,621.3L449.4,632.9M449.4,632.9L446.2,639.2M454.8,621.3L469.1,629.9M466.4,628.3L465.6,631.7M472.2,621.3L486.5,629.9M483.8,628.3L483.0,631.7M489.6,621.3L503.8,630.1M501.2,628.4L500.3,631.8M507.0,621.3L521.3,630.0M518.6,628.4L517.8,631.8M524.4,621.3L538.7,630.0M536.0,628.4L535.2,631.8M541.9,621.3L556.1,630.1M553.4,628.4L552.5,631.8M559.3,621.3L573.6,629.9M570.9,628.3L570.1,631.7M576.7,621.3L591.6,628.8M591.6,628.8L590.4,635.7M594.1,621.3L609.2,628.4M606.3,627.1L605.9,630.6M611.5,621.3L626.5,628.5M623.7,627.2L623.2,630.7M628.9,621.3L643.8,628.8M643.8,628.8L642.7,635.7M646.3,621.3L661.3,628.6M661.3,628.6L660.3,635.5M663.7,621.3L678.8,628.5M678.8,628.5L677.8,635.4M681.1,621.3L696.1,628.7M696.1,628.7L695.1,635.6M698.5,621.3L713.2,629.3M713.2,629.3L711.9,636.1M716.0,621.3L730.6,629.4M730.6,629.4L729.1,636.2M733.4,621.3L748.0,629.3M748.0,629.3L746.7,636.1M750.8,621.3L765.4,629.4M765.4,629.4L763.9,636.3M768.2,621.3L782.6,629.7M782.6,629.7L781.1,636.5M785.6,621.3L800.2,629.4M800.2,629.4L798.8,636.3M803.0,621.3L817.7,629.2M817.7,629.2L816.3,636.1M820.4,621.3L835.1,629.3M835.1,629.3L833.7,636.1M837.8,621.3L852.9,628.4M852.9,628.4L852.0,635.3M855.2,621.3L870.9,627.2M870.9,627.2L870.4,634.2M872.6,621.3L888.3,627.0M888.3,627.0L888.0,634.0M890.1,621.3L905.7,627.0M905.7,627.0L905.4,634.0M907.5,621.3L923.2,626.8M923.2,626.8L923.0,633.8M924.9,621.3L940.7,626.5M940.7,626.5L940.6,633.5M942.3,621.3L958.2,626.5M958.2,626.5L958.1,633.5M959.7,621.3L975.6,626.4M975.6,626.4L975.6,633.4M977.1,621.3L993.3,625.5M993.3,625.5L993.6,632.5M994.5,621.3L1010.9,624.5M1010.9,624.5L1011.6,631.5M1011.9,621.3L1028.4,624.3M1028.4,624.3L1029.2,631.2M1029.3,621.3L1045.9,623.5M1045.9,623.5L1047.1,630.4M1046.7,621.3L1063.4,622.8M1063.4,622.8L1064.9,629.6M1064.1,621.3L1080.8,623.0M1080.8,623.0L1082.1,629.9M1081.6,621.3L1098.3,621.7M1098.3,621.7L1100.2,628.4M1099.0,621.3L1115.7,622.0M1115.7,622.0L1117.5,628.7M1116.4,621.3L1133.0,623.0M1133.0,623.0L1134.4,629.9M1133.8,621.3L1150.4,623.0M1150.4,623.0L1151.8,629.8M1151.2,621.3L1167.7,623.9M1167.7,623.9L1168.7,630.9M1168.6,621.3L1184.7,625.6M1184.7,625.6L1185.0,632.6M1186.0,621.3L1200.5,629.6M1200.5,629.6L1199.0,636.5M1203.4,621.3L1218.3,629.0M1218.3,629.0L1217.1,635.9M1220.8,621.3L1236.4,627.3M1236.4,627.3L1235.9,634.3M1238.2,621.3L1253.8,627.3M1253.8,627.3L1253.4,634.3M1255.7,621.3L1271.3,627.1M1271.3,627.1L1270.9,634.1M106.6,638.6L123.3,638.6M120.2,638.6L121.2,641.9M124.0,638.6L140.7,638.7M137.6,638.7L138.6,642.0M141.4,638.6L158.1,638.3M155.0,638.3L156.1,641.7M158.8,638.6L175.5,640.1M172.3,639.9L173.1,643.3M176.2,638.6L192.7,641.6M189.6,641.0L190.0,644.5M193.6,638.6L209.4,644.3M206.4,643.2L206.3,646.7M211.1,638.6L226.8,644.3M223.8,643.2L223.7,646.7M228.5,638.6L243.8,645.3M240.9,644.0L240.5,647.5M245.9,638.6L261.2,645.3M258.3,644.1L257.9,647.5M263.3,638.6L278.7,645.1M275.8,643.9L275.5,647.4M280.7,638.6L296.1,645.0M293.2,643.8L292.9,647.3M298.1,638.6L313.4,645.2M310.6,644.0L310.2,647.5M315.5,638.6L330.4,646.2M327.6,644.8L327.0,648.2M332.9,638.6L346.9,647.8M346.9,647.8L345.0,654.5M350.3,638.6L363.4,649.0M363.4,649.0L360.9,655.5M367.8,638.6L380.5,649.4M380.5,649.4L377.7,655.9M385.2,638.6L399.9,646.5M399.9,646.5L398.6,653.4M402.6,638.6L418.3,644.3M415.3,643.2L415.2,646.7M420.0,638.6L434.1,647.5M434.1,647.5L432.3,654.3M437.4,638.6L452.0,646.6M452.0,646.6L450.7,653.5M454.8,638.6L469.9,645.7M467.1,644.3L466.6,647.8M472.2,638.6L487.1,646.2M484.3,644.8L483.7,648.2M489.6,638.6L504.1,646.9M501.4,645.3L500.7,648.7M507.0,638.6L521.4,647.1M518.7,645.5L517.9,648.9M524.4,638.6L538.8,647.1M536.1,645.5L535.3,648.9M541.9,638.6L556.3,647.0M553.6,645.4L552.8,648.8M559.3,638.6L574.0,646.4M571.3,644.9L570.6,648.4M576.7,638.6L591.8,645.7M591.8,645.7L590.8,652.6M594.1,638.6L609.2,645.7M606.4,644.3L605.9,647.8M611.5,638.6L626.6,645.7M626.6,645.7L625.7,652.6M628.9,638.6L644.0,645.8M641.1,644.5L640.6,647.9M646.3,638.6L661.4,645.7M661.4,645.7L660.5,652.6M663.7,638.6L678.9,645.7M678.9,645.7L677.9,652.6M681.1,638.6L696.2,645.7M693.4,644.4L692.9,647.8M698.5,638.6L713.4,646.2M713.4,646.2L712.2,653.1M716.0,638.6L730.7,646.5M730.7,646.5L729.4,653.3M733.4,638.6L748.1,646.4M748.1,646.4L746.8,653.3M750.8,638.6L765.5,646.5M765.5,646.5L764.2,653.3M768.2,638.6L782.8,646.6M782.8,646.6L781.5,653.5M785.6,638.6L800.3,646.5M800.3,646.5L799.0,653.3M803.0,638.6L817.7,646.4M817.7,646.4L816.5,653.3M820.4,638.6L835.2,646.4M835.2,646.4L833.9,653.3M837.8,638.6L853.0,645.5M853.0,645.5L852.2,652.4M855.2,638.6L870.9,644.4M870.9,644.4L870.6,651.4M872.6,638.6L888.3,644.3M888.3,644.3L888.0,651.3M890.1,638.6L905.7,644.3M905.7,644.3L905.4,651.3M907.5,638.6L923.2,644.1M923.2,644.1L923.0,651.1M924.9,638.6L940.7,643.8M940.7,643.8L940.7,650.8M942.3,638.6L958.2,643.8M958.2,643.8L958.1,650.8M959.7,638.6L975.6,643.7M975.6,643.7L975.5,650.7M977.1,638.6L993.3,642.7M993.3,642.7L993.7,649.7M994.5,638.6L1010.9,641.6M1010.9,641.6L1011.8,648.5M1011.9,638.6L1028.4,641.5M1028.4,641.5L1029.3,648.4M1029.3,638.6L1045.8,641.3M1045.8,641.3L1046.8,648.2M1046.7,638.6L1063.4,640.3M1063.4,640.3L1064.8,647.1M1064.1,638.6L1080.8,639.1M1080.8,639.1L1082.7,645.8M1081.6,638.6L1098.3,638.6M1098.3,638.6L1100.3,645.3M1099.0,638.6L1115.7,638.8M1115.7,638.8L1117.7,645.5M1116.4,638.6L1133.0,639.7M1133.0,639.7L1134.7,646.5M1133.8,638.6L1150.5,639.0M1150.5,639.0L1152.4,645.7M1151.2,638.6L1167.9,638.6M1167.9,638.6L1170.0,645.3M1168.6,638.6L1185.0,641.6M1185.0,641.6L1185.9,648.6M1186.0,638.6L1201.1,645.8M1201.1,645.8L1200.1,652.7M1203.4,638.6L1218.9,644.8M1218.9,644.8L1218.4,651.8M1220.8,638.6L1236.5,644.3M1236.5,644.3L1236.2,651.3M1238.2,638.6L1253.9,644.4M1253.9,644.4L1253.6,651.4M1255.7,638.6L1271.3,644.5M1271.3,644.5L1270.8,651.5"/><path fill="none" stroke="#000" stroke-width="1.0" d="M260.8,258.0a2.5,2.5 0 1,0 5,0a2.5,2.5 0 1,0 -5,0M208.6,275.3a2.5,2.5 0 1,0 5,0a2.5,2.5 0 1,0 -5,0M260.8,275.3a2.5,2.5 0 1,0 5,0a2.5,2.5 0 1,0 -5,0M278.2,275.3a2.5,2.5 0 1,0 5,0a2.5,2.5 0 1,0 -5,0M295.6,292.6a2.5,2.5 0 1,0 5,0a2.5,2.5 0 1,0 -5,0M452.3,292.6a2.5,2.5 0 1,0 5,0a2.5,2.5 0 1,0 -5,0M539.4,292.6a2.5,2.5 0 1,0 5,0a2.5,2.5 0 1,0 -5,0M173.7,309.9a2.5,2.5 0 1,0 5,0a2.5,2.5 0 1,0 -5,0M191.1,309.9a2.5,2.5 0 1,0 5,0a2.5,2.5 0 1,0 -5,0M208.6,309.9a2.5,2.5 0 1,0 5,0a2.5,2.5 0 1,0 -5,0M295.6,309.9a2.5,2.5 0 1,0 5,0a2.5,2.5 0 1,0 -5,0M313.0,309.9a2.5,2.5 0 1,0 5,0a2.5,2.5 0 1,0 -5,0M400.1,309.9a2.5,2.5 0 1,0 5,0a2.5,2.5 0 1,0 -5,0M417.5,309.9a2.5,2.5 0 1,0 5,0a2.5,2.5 0 1,0 -5,0M434.9,309.9a2.5,2.5 0 1,0 5,0a2.5,2.5 0 1,0 -5,0M452.3,309.9a2.5,2.5 0 1,0 5,0a2.5,2.5 0 1,0 -5,0M504.5,309.9a2.5,2.5 0 1,0 5,0a2.5,2.5 0 1,0 -5,0M521.9,309.9a2.5,2.5 0 1,0 5,0a2.5,2.5 0 1,0 -5,0M556.8,309.9a2.5,2.5 0 1,0 5,0a2.5,2.5 0 1,0 -5,0M173.7,327.2a2.5,2.5 0 1,0 5,0a2.5,2.5 0 1,0 -5,0M191.1,327.2a2.5,2.5 0 1,0 5,0a2.5,2.5 0 1,0 -5,0M278.2,327.2a2.5,2.5 0 1,0 5,0a2.5,2.5 0 1,0 -5,0M295.6,327.2a2.5,2.5 0 1,0 5,0a2.5,2.5 0 1,0 -5,0M313.0,327.2a2.5,2.5 0 1,0 5,0a2.5,2.5 0 1,0 -5,0M382.7,327.2a2.5,2.5 0 1,0 5,0a2.5,2.5 0 1,0 -5,0M574.2,327.2a2.5,2.5 0 1,0 5,0a2.5,2.5 0 1,0 -5,0M173.7,344.5a2.5,2.5 0 1,0 5,0a2.5,2.5 0 1,0 -5,0M191.1,344.5a2.5,2.5 0 1,0 5,0a2.5,2.5 0 1,0 -5,0M260.8,344.5a2.5,2.5 0 1,0 5,0a2.5,2.5 0 1,0 -5,0M295.6,344.5a2.5,2.5 0 1,0 5,0a2.5,2.5 0 1,0 -5,0M313.0,344.5a2.5,2.5 0 1,0 5,0a2.5,2.5 0 1,0 -5,0M382.7,344.5a2.5,2.5 0 1,0 5,0a2.5,2.5 0 1,0 -5,0M400.1,344.5a2.5,2.5 0 1,0 5,0a2.5,2.5 0 1,0 -5,0M434.9,344.5a2.5,2.5 0 1,0 5,0a2.5,2.5 0 1,0 -5,0M487.1,344.5a2.5,2.5 0 1,0 5,0a2.5,2.5 0 1,0 -5,0M504.5,344.5a2.5,2.5 0 1,0 5,0a2.5,2.5 0 1,0 -5,0M173.7,361.8a2.5,2.5 0 1,0 5,0a2.5,2.5 0 1,0 -5,0M226.0,361.8a2.5,2.5 0 1,0 5,0a2.5,2.5 0 1,0 -5,0M243.4,361.8a2.5,2.5 0 1,0 5,0a2.5,2.5 0 1,0 -5,0M295.6,361.8a2.5,2.5 0 1,0 5,0a2.5,2.5 0 1,0 -5,0M313.0,361.8a2.5,2.5 0 1,0 5,0a2.5,2.5 0 1,0 -5,0M330.4,361.8a2.5,2.5 0 1,0 5,0a2.5,2.5 0 1,0 -5,0M347.8,361.8a2.5,2.5 0 1,0 5,0a2.5,2.5 0 1,0 -5,0M365.2,361.8a2.5,2.5 0 1,0 5,0a2.5,2.5 0 1,0 -5,0M400.1,361.8a2.5,2.5 0 1,0 5,0a2.5,2.5 0 1,0 -5,0M434.9,361.8a2.5,2.5 0 1,0 5,0a2.5,2.5 0 1,0 -5,0M278.2,379.1a2.5,2.5 0 1,0 5,0a2.5,2.5 0 1,0 -5,0"/>
</g>
<rect x="102.0" y="64.0" width="1157.5" height="578.8" fill="none" stroke="#0e1822" stroke-width="1.9"/>
<path d="M1287.9,531.1 V563.5 L1293.0500000000002,584.5 L1298.2,563.5 V531.1 Z" fill="#fff"/>
<rect x="1287.9" y="498.73" width="10.30" height="32.67" fill="#008080"/>
<rect x="1287.9" y="466.37" width="10.30" height="32.67" fill="#00ced1"/>
<rect x="1287.9" y="434.00" width="10.30" height="32.67" fill="#40e0d0"/>
<rect x="1287.9" y="401.63" width="10.30" height="32.67" fill="#008000"/>
<rect x="1287.9" y="369.27" width="10.30" height="32.67" fill="#32cd32"/>
<rect x="1287.9" y="336.90" width="10.30" height="32.67" fill="#ffff00"/>
<rect x="1287.9" y="304.53" width="10.30" height="32.67" fill="#ffd700"/>
<rect x="1287.9" y="272.17" width="10.30" height="32.67" fill="#ff8c00"/>
<rect x="1287.9" y="239.80" width="10.30" height="32.67" fill="#cc0000"/>
<rect x="1287.9" y="207.43" width="10.30" height="32.67" fill="#8b0000"/>
<rect x="1287.9" y="175.07" width="10.30" height="32.67" fill="#ff00ff"/>
<rect x="1287.9" y="142.70" width="10.30" height="32.67" fill="#ffe4e1"/>
<path d="M1287.9,142.7 L1293.0500000000002,121.7 L1298.2,142.7 Z" fill="#ffe4e1"/>
<path d="M1287.9,142.7 L1293.0500000000002,122.1 L1298.2,142.7 V563.5 L1293.0500000000002,584.5 L1287.9,563.5 Z" fill="none" stroke="#000" stroke-width="1.3"/>
<line x1="1298.2" y1="531.1" x2="1304.8" y2="531.1" stroke="#000" stroke-width="1.3"/>
<text x="1314.0" y="539.1" font-size="17.6">0</text>
<line x1="1298.2" y1="498.7" x2="1304.8" y2="498.7" stroke="#000" stroke-width="1.3"/>
<text x="1314.0" y="506.7" font-size="17.6">5</text>
<line x1="1298.2" y1="466.4" x2="1304.8" y2="466.4" stroke="#000" stroke-width="1.3"/>
<text x="1314.0" y="474.4" font-size="17.6">10</text>
<line x1="1298.2" y1="434.0" x2="1304.8" y2="434.0" stroke="#000" stroke-width="1.3"/>
<text x="1314.0" y="442.0" font-size="17.6">15</text>
<line x1="1298.2" y1="401.6" x2="1304.8" y2="401.6" stroke="#000" stroke-width="1.3"/>
<text x="1314.0" y="409.6" font-size="17.6">20</text>
<line x1="1298.2" y1="369.3" x2="1304.8" y2="369.3" stroke="#000" stroke-width="1.3"/>
<text x="1314.0" y="377.3" font-size="17.6">25</text>
<line x1="1298.2" y1="336.9" x2="1304.8" y2="336.9" stroke="#000" stroke-width="1.3"/>
<text x="1314.0" y="344.9" font-size="17.6">30</text>
<line x1="1298.2" y1="304.5" x2="1304.8" y2="304.5" stroke="#000" stroke-width="1.3"/>
<text x="1314.0" y="312.5" font-size="17.6">35</text>
<line x1="1298.2" y1="272.2" x2="1304.8" y2="272.2" stroke="#000" stroke-width="1.3"/>
<text x="1314.0" y="280.2" font-size="17.6">40</text>
<line x1="1298.2" y1="239.8" x2="1304.8" y2="239.8" stroke="#000" stroke-width="1.3"/>
<text x="1314.0" y="247.8" font-size="17.6">45</text>
<line x1="1298.2" y1="207.4" x2="1304.8" y2="207.4" stroke="#000" stroke-width="1.3"/>
<text x="1314.0" y="215.4" font-size="17.6">50</text>
<line x1="1298.2" y1="175.1" x2="1304.8" y2="175.1" stroke="#000" stroke-width="1.3"/>
<text x="1314.0" y="183.1" font-size="17.6">55</text>
<line x1="1298.2" y1="142.7" x2="1304.8" y2="142.7" stroke="#000" stroke-width="1.3"/>
<text x="1314.0" y="150.7" font-size="17.6">60</text>
<text transform="translate(1361.4,356.0) rotate(-90)" font-size="18.75" text-anchor="middle">[dBZ]</text>
</svg></body></html>
